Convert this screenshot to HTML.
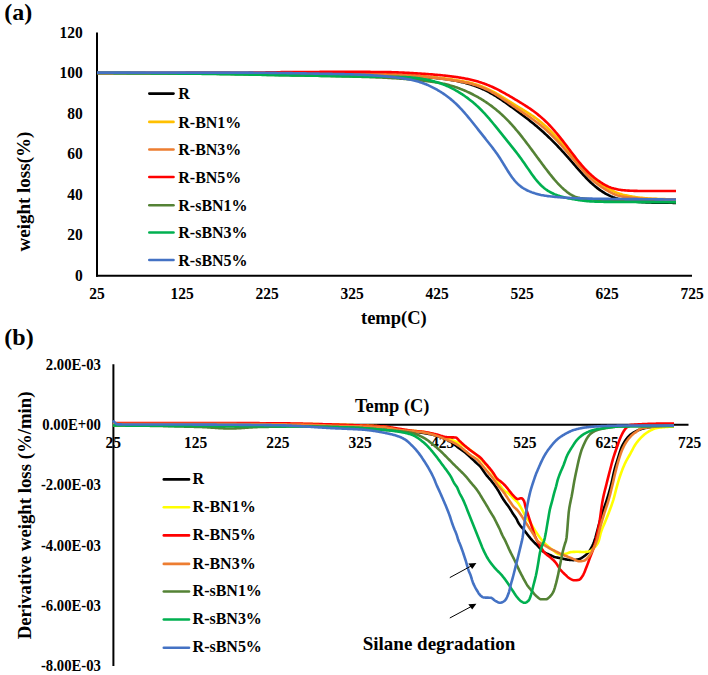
<!DOCTYPE html>
<html><head><meta charset="utf-8"><style>
html,body{margin:0;padding:0;background:#fff;}
svg{display:block;}
text{font-family:"Liberation Serif", serif;font-weight:bold;fill:#000;}
.t{font-size:15.5px;}
.tb{font-size:14.7px;}
.tl{font-size:16px;}
</style></head><body>
<svg width="708" height="675" viewBox="0 0 708 675">
<rect width="708" height="675" fill="#fff"/>
<line x1="97" y1="32.5" x2="97" y2="276.8" stroke="#000" stroke-width="2"/>
<line x1="96" y1="275.8" x2="692" y2="275.8" stroke="#000" stroke-width="2"/>
<text transform="translate(82.7,280.7) scale(1,1.1)" text-anchor="end" class="t">0</text>
<text transform="translate(82.7,240.2) scale(1,1.1)" text-anchor="end" class="t">20</text>
<text transform="translate(82.7,199.6) scale(1,1.1)" text-anchor="end" class="t">40</text>
<text transform="translate(82.7,159.1) scale(1,1.1)" text-anchor="end" class="t">60</text>
<text transform="translate(82.7,118.5) scale(1,1.1)" text-anchor="end" class="t">80</text>
<text transform="translate(82.7,78.0) scale(1,1.1)" text-anchor="end" class="t">100</text>
<text transform="translate(82.7,37.5) scale(1,1.1)" text-anchor="end" class="t">120</text>
<text transform="translate(97.0,298.8) scale(1,1.1)" text-anchor="middle" class="t">25</text>
<text transform="translate(182.0,298.8) scale(1,1.1)" text-anchor="middle" class="t">125</text>
<text transform="translate(267.0,298.8) scale(1,1.1)" text-anchor="middle" class="t">225</text>
<text transform="translate(352.0,298.8) scale(1,1.1)" text-anchor="middle" class="t">325</text>
<text transform="translate(437.0,298.8) scale(1,1.1)" text-anchor="middle" class="t">425</text>
<text transform="translate(522.0,298.8) scale(1,1.1)" text-anchor="middle" class="t">525</text>
<text transform="translate(607.0,298.8) scale(1,1.1)" text-anchor="middle" class="t">625</text>
<text transform="translate(692.0,298.8) scale(1,1.1)" text-anchor="middle" class="t">725</text>
<text x="4.3" y="20.4" class="ttl" font-size="24">(a)</text>
<text x="361" y="324" class="ttl" font-size="18.5">temp(C)</text>
<text transform="translate(29.8,191.6) rotate(-90)" text-anchor="middle" class="ttl" font-size="19">weight loss(%)</text>
<line x1="149.3" y1="93.6" x2="173.5" y2="93.6" stroke="#000000" stroke-width="2.6" stroke-linecap="round"/>
<text transform="translate(178.3,99.4) scale(1,1.1)" class="tl">R</text>
<line x1="149.3" y1="121.9" x2="173.5" y2="121.9" stroke="#FFC000" stroke-width="2.6" stroke-linecap="round"/>
<text transform="translate(178.3,127.7) scale(1,1.1)" class="tl">R-BN1%</text>
<line x1="149.3" y1="149.5" x2="173.5" y2="149.5" stroke="#ED7D31" stroke-width="2.6" stroke-linecap="round"/>
<text transform="translate(178.3,155.3) scale(1,1.1)" class="tl">R-BN3%</text>
<line x1="149.3" y1="177.0" x2="173.5" y2="177.0" stroke="#FF0000" stroke-width="2.6" stroke-linecap="round"/>
<text transform="translate(178.3,182.8) scale(1,1.1)" class="tl">R-BN5%</text>
<line x1="149.3" y1="205.3" x2="173.5" y2="205.3" stroke="#548235" stroke-width="2.6" stroke-linecap="round"/>
<text transform="translate(178.3,211.1) scale(1,1.1)" class="tl">R-sBN1%</text>
<line x1="149.3" y1="232.5" x2="173.5" y2="232.5" stroke="#00B050" stroke-width="2.6" stroke-linecap="round"/>
<text transform="translate(178.3,238.3) scale(1,1.1)" class="tl">R-sBN3%</text>
<line x1="149.3" y1="260.0" x2="173.5" y2="260.0" stroke="#4472C4" stroke-width="2.6" stroke-linecap="round"/>
<text transform="translate(178.3,265.8) scale(1,1.1)" class="tl">R-sBN5%</text>
<path d="M97.00 73.00 L98.00 73.00 L99.00 73.00 L100.00 73.00 L101.00 73.00 L102.00 73.00 L103.00 73.00 L104.00 73.00 L105.00 73.00 L106.00 73.00 L107.00 73.00 L108.00 73.00 L109.00 73.00 L110.00 73.00 L111.00 73.00 L112.00 73.00 L113.00 73.00 L114.00 73.00 L115.00 73.00 L116.00 73.01 L117.00 73.01 L118.00 73.01 L119.00 73.01 L120.00 73.01 L121.00 73.01 L122.00 73.01 L123.00 73.01 L124.00 73.01 L125.00 73.01 L126.00 73.01 L127.00 73.01 L128.00 73.01 L129.00 73.01 L130.00 73.01 L131.00 73.01 L132.00 73.01 L133.00 73.02 L134.00 73.02 L135.00 73.02 L136.00 73.02 L137.00 73.02 L138.00 73.02 L139.00 73.02 L140.00 73.02 L141.00 73.02 L142.00 73.02 L143.00 73.02 L144.00 73.02 L145.00 73.03 L146.00 73.03 L147.00 73.03 L148.00 73.03 L149.00 73.03 L150.00 73.03 L151.00 73.03 L152.00 73.03 L153.00 73.03 L154.00 73.04 L155.00 73.04 L156.00 73.04 L157.00 73.04 L158.00 73.04 L159.00 73.04 L160.00 73.04 L161.00 73.04 L162.00 73.05 L163.00 73.05 L164.00 73.05 L165.00 73.05 L166.00 73.05 L167.00 73.05 L168.00 73.05 L169.00 73.05 L170.00 73.06 L171.00 73.06 L172.00 73.06 L173.00 73.06 L174.00 73.06 L175.00 73.06 L176.00 73.07 L177.00 73.07 L178.00 73.07 L179.00 73.07 L180.00 73.07 L181.00 73.07 L182.00 73.07 L183.00 73.08 L184.00 73.08 L185.00 73.08 L186.00 73.08 L187.00 73.08 L188.00 73.09 L189.00 73.09 L190.00 73.09 L191.00 73.09 L192.00 73.09 L193.00 73.09 L194.00 73.10 L195.00 73.10 L196.00 73.10 L197.00 73.10 L198.00 73.10 L199.00 73.11 L200.00 73.11 L201.00 73.11 L202.00 73.11 L203.00 73.11 L204.00 73.12 L205.00 73.12 L206.00 73.12 L207.00 73.12 L208.00 73.12 L209.00 73.13 L210.00 73.13 L211.00 73.13 L212.00 73.13 L213.00 73.13 L214.00 73.14 L215.00 73.14 L216.00 73.14 L217.00 73.14 L218.00 73.15 L219.00 73.15 L220.00 73.15 L221.00 73.15 L222.00 73.16 L223.00 73.16 L224.00 73.16 L225.00 73.16 L226.00 73.16 L227.00 73.17 L228.00 73.17 L229.00 73.17 L230.00 73.17 L231.00 73.18 L232.00 73.18 L233.00 73.18 L234.00 73.18 L235.00 73.19 L236.00 73.19 L237.00 73.19 L238.00 73.20 L239.00 73.20 L240.00 73.20 L241.00 73.20 L242.00 73.21 L243.00 73.21 L244.00 73.21 L245.00 73.21 L246.00 73.22 L247.00 73.22 L248.00 73.22 L249.00 73.23 L250.00 73.23 L251.00 73.23 L252.00 73.23 L253.00 73.24 L254.00 73.24 L255.00 73.24 L256.00 73.25 L257.00 73.25 L258.00 73.25 L259.00 73.25 L260.00 73.26 L261.00 73.26 L262.00 73.26 L263.00 73.27 L264.00 73.27 L265.00 73.27 L266.00 73.28 L267.00 73.28 L268.00 73.28 L269.00 73.29 L270.00 73.29 L271.00 73.29 L272.00 73.30 L273.00 73.30 L274.00 73.30 L275.00 73.31 L276.00 73.31 L277.00 73.31 L278.00 73.32 L279.00 73.32 L280.00 73.32 L281.00 73.33 L282.00 73.33 L283.00 73.33 L284.00 73.34 L285.00 73.34 L286.00 73.35 L287.00 73.35 L288.00 73.35 L289.00 73.36 L290.00 73.36 L291.00 73.37 L292.00 73.37 L293.00 73.37 L294.00 73.38 L295.00 73.38 L296.00 73.39 L297.00 73.39 L298.00 73.40 L299.00 73.40 L300.00 73.41 L301.00 73.41 L302.00 73.42 L303.00 73.42 L304.00 73.43 L305.00 73.43 L306.00 73.44 L307.00 73.44 L308.00 73.45 L309.00 73.45 L310.00 73.46 L311.00 73.47 L312.00 73.47 L313.00 73.48 L314.00 73.49 L315.00 73.49 L316.00 73.50 L317.00 73.51 L318.00 73.51 L319.00 73.52 L320.00 73.53 L321.00 73.54 L322.00 73.55 L323.00 73.55 L324.00 73.56 L325.00 73.57 L326.00 73.58 L327.00 73.59 L328.00 73.60 L329.00 73.61 L330.00 73.62 L331.00 73.63 L332.00 73.64 L333.00 73.65 L334.00 73.66 L335.00 73.67 L336.00 73.68 L337.00 73.69 L338.00 73.71 L339.00 73.72 L340.00 73.73 L341.00 73.74 L342.00 73.76 L343.00 73.77 L344.00 73.78 L345.00 73.80 L346.00 73.81 L347.00 73.82 L348.00 73.84 L349.00 73.85 L350.00 73.87 L351.00 73.88 L352.00 73.90 L353.00 73.91 L354.00 73.93 L355.00 73.95 L356.00 73.96 L357.00 73.98 L358.00 74.00 L359.00 74.02 L360.00 74.04 L361.00 74.06 L362.00 74.08 L363.00 74.10 L364.00 74.12 L365.00 74.14 L366.00 74.16 L367.00 74.18 L368.00 74.21 L369.00 74.23 L370.00 74.25 L371.00 74.28 L372.00 74.30 L373.00 74.33 L374.00 74.36 L375.00 74.39 L376.00 74.42 L377.00 74.45 L378.00 74.48 L379.00 74.51 L380.00 74.54 L381.00 74.58 L382.00 74.61 L383.00 74.65 L384.00 74.68 L385.00 74.72 L386.00 74.76 L387.00 74.80 L388.00 74.84 L389.00 74.89 L390.00 74.93 L391.00 74.98 L392.00 75.02 L393.00 75.07 L394.00 75.12 L395.00 75.17 L396.00 75.22 L397.00 75.27 L398.00 75.32 L399.00 75.38 L400.00 75.43 L401.00 75.49 L402.00 75.54 L403.00 75.60 L404.00 75.66 L405.00 75.72 L406.00 75.77 L407.00 75.83 L408.00 75.90 L409.00 75.96 L410.00 76.02 L411.00 76.08 L412.00 76.14 L413.00 76.21 L414.00 76.27 L415.00 76.34 L416.00 76.41 L417.00 76.47 L418.00 76.54 L419.00 76.61 L420.00 76.68 L421.00 76.75 L422.00 76.82 L423.00 76.90 L424.00 76.97 L425.00 77.05 L426.00 77.12 L427.00 77.20 L428.00 77.28 L429.00 77.37 L430.00 77.45 L431.00 77.54 L432.00 77.63 L433.00 77.72 L434.00 77.81 L435.00 77.91 L436.00 78.01 L437.00 78.11 L438.00 78.21 L439.00 78.32 L440.00 78.43 L441.00 78.55 L442.00 78.67 L443.00 78.79 L444.00 78.91 L445.00 79.05 L446.00 79.18 L447.00 79.32 L448.00 79.47 L449.00 79.62 L450.00 79.77 L451.00 79.93 L452.00 80.10 L453.00 80.27 L454.00 80.45 L455.00 80.63 L456.00 80.82 L457.00 81.02 L458.00 81.22 L459.00 81.43 L460.00 81.65 L461.00 81.88 L462.00 82.11 L463.00 82.35 L464.00 82.60 L465.00 82.86 L466.00 83.13 L467.00 83.40 L468.00 83.69 L469.00 83.98 L470.00 84.29 L471.00 84.60 L472.00 84.92 L473.00 85.26 L474.00 85.60 L475.00 85.96 L476.00 86.33 L477.00 86.70 L478.00 87.09 L479.00 87.50 L480.00 87.91 L481.00 88.34 L482.00 88.77 L483.00 89.22 L484.00 89.69 L485.00 90.17 L486.00 90.66 L487.00 91.16 L488.00 91.67 L489.00 92.20 L490.00 92.75 L491.00 93.30 L492.00 93.87 L493.00 94.45 L494.00 95.05 L495.00 95.65 L496.00 96.27 L497.00 96.90 L498.00 97.54 L499.00 98.19 L500.00 98.85 L501.00 99.52 L502.00 100.19 L503.00 100.88 L504.00 101.57 L505.00 102.27 L506.00 102.98 L507.00 103.69 L508.00 104.41 L509.00 105.13 L510.00 105.86 L511.00 106.58 L512.00 107.32 L513.00 108.05 L514.00 108.78 L515.00 109.52 L516.00 110.26 L517.00 111.00 L518.00 111.74 L519.00 112.49 L520.00 113.23 L521.00 113.98 L522.00 114.73 L523.00 115.48 L524.00 116.23 L525.00 116.99 L526.00 117.75 L527.00 118.52 L528.00 119.29 L529.00 120.07 L530.00 120.86 L531.00 121.65 L532.00 122.45 L533.00 123.25 L534.00 124.07 L535.00 124.89 L536.00 125.73 L537.00 126.57 L538.00 127.42 L539.00 128.28 L540.00 129.16 L541.00 130.04 L542.00 130.93 L543.00 131.83 L544.00 132.75 L545.00 133.67 L546.00 134.60 L547.00 135.54 L548.00 136.49 L549.00 137.45 L550.00 138.42 L551.00 139.40 L552.00 140.38 L553.00 141.38 L554.00 142.39 L555.00 143.40 L556.00 144.42 L557.00 145.46 L558.00 146.50 L559.00 147.55 L560.00 148.61 L561.00 149.68 L562.00 150.76 L563.00 151.85 L564.00 152.95 L565.00 154.06 L566.00 155.17 L567.00 156.30 L568.00 157.43 L569.00 158.57 L570.00 159.71 L571.00 160.86 L572.00 162.01 L573.00 163.17 L574.00 164.33 L575.00 165.48 L576.00 166.64 L577.00 167.79 L578.00 168.94 L579.00 170.08 L580.00 171.21 L581.00 172.33 L582.00 173.45 L583.00 174.54 L584.00 175.63 L585.00 176.70 L586.00 177.75 L587.00 178.78 L588.00 179.79 L589.00 180.78 L590.00 181.75 L591.00 182.70 L592.00 183.62 L593.00 184.52 L594.00 185.39 L595.00 186.24 L596.00 187.06 L597.00 187.86 L598.00 188.63 L599.00 189.37 L600.00 190.08 L601.00 190.77 L602.00 191.44 L603.00 192.08 L604.00 192.70 L605.00 193.29 L606.00 193.87 L607.00 194.42 L608.00 194.94 L609.00 195.44 L610.00 195.91 L611.00 196.36 L612.00 196.77 L613.00 197.17 L614.00 197.53 L615.00 197.87 L616.00 198.19 L617.00 198.48 L618.00 198.76 L619.00 199.01 L620.00 199.25 L621.00 199.47 L622.00 199.67 L623.00 199.87 L624.00 200.05 L625.00 200.23 L626.00 200.39 L627.00 200.55 L628.00 200.70 L629.00 200.84 L630.00 200.98 L631.00 201.11 L632.00 201.23 L633.00 201.34 L634.00 201.45 L635.00 201.55 L636.00 201.65 L637.00 201.74 L638.00 201.83 L639.00 201.91 L640.00 201.99 L641.00 202.06 L642.00 202.12 L643.00 202.18 L644.00 202.24 L645.00 202.30 L646.00 202.35 L647.00 202.39 L648.00 202.44 L649.00 202.48 L650.00 202.51 L651.00 202.55 L652.00 202.58 L653.00 202.61 L654.00 202.63 L655.00 202.66 L656.00 202.68 L657.00 202.70 L658.00 202.72 L659.00 202.73 L660.00 202.75 L661.00 202.76 L662.00 202.77 L663.00 202.78 L664.00 202.79 L665.00 202.80 L666.00 202.80 L667.00 202.81 L668.00 202.81 L669.00 202.81 L670.00 202.82 L671.00 202.82 L672.00 202.82 L673.00 202.83 L674.00 202.83 L675.00 202.83 L676.00 202.84" fill="none" stroke="#000000" stroke-width="2.6" stroke-linejoin="round"/>
<path d="M97.00 73.00 L98.00 73.00 L99.00 73.00 L100.00 73.00 L101.00 73.00 L102.00 73.00 L103.00 73.00 L104.00 73.00 L105.00 73.00 L106.00 73.00 L107.00 73.00 L108.00 73.00 L109.00 73.00 L110.00 73.00 L111.00 73.00 L112.00 73.00 L113.00 73.00 L114.00 73.00 L115.00 73.00 L116.00 73.00 L117.00 73.00 L118.00 73.00 L119.00 73.00 L120.00 73.01 L121.00 73.01 L122.00 73.01 L123.00 73.01 L124.00 73.01 L125.00 73.01 L126.00 73.01 L127.00 73.01 L128.00 73.01 L129.00 73.01 L130.00 73.01 L131.00 73.01 L132.00 73.01 L133.00 73.01 L134.00 73.01 L135.00 73.01 L136.00 73.01 L137.00 73.01 L138.00 73.01 L139.00 73.01 L140.00 73.02 L141.00 73.02 L142.00 73.02 L143.00 73.02 L144.00 73.02 L145.00 73.02 L146.00 73.02 L147.00 73.02 L148.00 73.02 L149.00 73.02 L150.00 73.02 L151.00 73.02 L152.00 73.02 L153.00 73.03 L154.00 73.03 L155.00 73.03 L156.00 73.03 L157.00 73.03 L158.00 73.03 L159.00 73.03 L160.00 73.03 L161.00 73.03 L162.00 73.03 L163.00 73.03 L164.00 73.04 L165.00 73.04 L166.00 73.04 L167.00 73.04 L168.00 73.04 L169.00 73.04 L170.00 73.04 L171.00 73.04 L172.00 73.04 L173.00 73.04 L174.00 73.05 L175.00 73.05 L176.00 73.05 L177.00 73.05 L178.00 73.05 L179.00 73.05 L180.00 73.05 L181.00 73.05 L182.00 73.06 L183.00 73.06 L184.00 73.06 L185.00 73.06 L186.00 73.06 L187.00 73.06 L188.00 73.06 L189.00 73.06 L190.00 73.07 L191.00 73.07 L192.00 73.07 L193.00 73.07 L194.00 73.07 L195.00 73.07 L196.00 73.07 L197.00 73.08 L198.00 73.08 L199.00 73.08 L200.00 73.08 L201.00 73.08 L202.00 73.08 L203.00 73.08 L204.00 73.09 L205.00 73.09 L206.00 73.09 L207.00 73.09 L208.00 73.09 L209.00 73.09 L210.00 73.10 L211.00 73.10 L212.00 73.10 L213.00 73.10 L214.00 73.10 L215.00 73.10 L216.00 73.11 L217.00 73.11 L218.00 73.11 L219.00 73.11 L220.00 73.11 L221.00 73.11 L222.00 73.12 L223.00 73.12 L224.00 73.12 L225.00 73.12 L226.00 73.12 L227.00 73.12 L228.00 73.13 L229.00 73.13 L230.00 73.13 L231.00 73.13 L232.00 73.13 L233.00 73.14 L234.00 73.14 L235.00 73.14 L236.00 73.14 L237.00 73.14 L238.00 73.15 L239.00 73.15 L240.00 73.15 L241.00 73.15 L242.00 73.15 L243.00 73.16 L244.00 73.16 L245.00 73.16 L246.00 73.16 L247.00 73.16 L248.00 73.17 L249.00 73.17 L250.00 73.17 L251.00 73.17 L252.00 73.17 L253.00 73.18 L254.00 73.18 L255.00 73.18 L256.00 73.18 L257.00 73.19 L258.00 73.19 L259.00 73.19 L260.00 73.19 L261.00 73.20 L262.00 73.20 L263.00 73.20 L264.00 73.20 L265.00 73.20 L266.00 73.21 L267.00 73.21 L268.00 73.21 L269.00 73.21 L270.00 73.22 L271.00 73.22 L272.00 73.22 L273.00 73.22 L274.00 73.23 L275.00 73.23 L276.00 73.23 L277.00 73.23 L278.00 73.24 L279.00 73.24 L280.00 73.24 L281.00 73.25 L282.00 73.25 L283.00 73.25 L284.00 73.25 L285.00 73.26 L286.00 73.26 L287.00 73.26 L288.00 73.27 L289.00 73.27 L290.00 73.27 L291.00 73.27 L292.00 73.28 L293.00 73.28 L294.00 73.28 L295.00 73.29 L296.00 73.29 L297.00 73.29 L298.00 73.30 L299.00 73.30 L300.00 73.31 L301.00 73.31 L302.00 73.31 L303.00 73.32 L304.00 73.32 L305.00 73.33 L306.00 73.33 L307.00 73.34 L308.00 73.34 L309.00 73.35 L310.00 73.35 L311.00 73.36 L312.00 73.36 L313.00 73.37 L314.00 73.37 L315.00 73.38 L316.00 73.38 L317.00 73.39 L318.00 73.40 L319.00 73.40 L320.00 73.41 L321.00 73.42 L322.00 73.42 L323.00 73.43 L324.00 73.44 L325.00 73.45 L326.00 73.45 L327.00 73.46 L328.00 73.47 L329.00 73.48 L330.00 73.49 L331.00 73.50 L332.00 73.50 L333.00 73.51 L334.00 73.52 L335.00 73.53 L336.00 73.54 L337.00 73.55 L338.00 73.56 L339.00 73.57 L340.00 73.58 L341.00 73.59 L342.00 73.60 L343.00 73.61 L344.00 73.63 L345.00 73.64 L346.00 73.65 L347.00 73.66 L348.00 73.67 L349.00 73.68 L350.00 73.70 L351.00 73.71 L352.00 73.72 L353.00 73.73 L354.00 73.75 L355.00 73.76 L356.00 73.78 L357.00 73.79 L358.00 73.80 L359.00 73.82 L360.00 73.83 L361.00 73.85 L362.00 73.86 L363.00 73.88 L364.00 73.89 L365.00 73.91 L366.00 73.93 L367.00 73.94 L368.00 73.96 L369.00 73.98 L370.00 74.00 L371.00 74.02 L372.00 74.04 L373.00 74.05 L374.00 74.07 L375.00 74.09 L376.00 74.12 L377.00 74.14 L378.00 74.16 L379.00 74.18 L380.00 74.20 L381.00 74.23 L382.00 74.25 L383.00 74.28 L384.00 74.30 L385.00 74.33 L386.00 74.35 L387.00 74.38 L388.00 74.41 L389.00 74.44 L390.00 74.47 L391.00 74.50 L392.00 74.54 L393.00 74.57 L394.00 74.60 L395.00 74.64 L396.00 74.68 L397.00 74.72 L398.00 74.76 L399.00 74.80 L400.00 74.84 L401.00 74.89 L402.00 74.93 L403.00 74.98 L404.00 75.03 L405.00 75.08 L406.00 75.13 L407.00 75.19 L408.00 75.25 L409.00 75.31 L410.00 75.37 L411.00 75.43 L412.00 75.49 L413.00 75.56 L414.00 75.63 L415.00 75.70 L416.00 75.77 L417.00 75.85 L418.00 75.92 L419.00 76.00 L420.00 76.08 L421.00 76.17 L422.00 76.25 L423.00 76.34 L424.00 76.42 L425.00 76.51 L426.00 76.60 L427.00 76.70 L428.00 76.79 L429.00 76.89 L430.00 76.98 L431.00 77.08 L432.00 77.18 L433.00 77.29 L434.00 77.39 L435.00 77.50 L436.00 77.60 L437.00 77.71 L438.00 77.82 L439.00 77.93 L440.00 78.05 L441.00 78.16 L442.00 78.28 L443.00 78.40 L444.00 78.52 L445.00 78.64 L446.00 78.76 L447.00 78.89 L448.00 79.01 L449.00 79.14 L450.00 79.28 L451.00 79.41 L452.00 79.55 L453.00 79.69 L454.00 79.83 L455.00 79.98 L456.00 80.13 L457.00 80.28 L458.00 80.44 L459.00 80.60 L460.00 80.77 L461.00 80.94 L462.00 81.12 L463.00 81.30 L464.00 81.50 L465.00 81.70 L466.00 81.90 L467.00 82.12 L468.00 82.34 L469.00 82.57 L470.00 82.81 L471.00 83.06 L472.00 83.32 L473.00 83.60 L474.00 83.88 L475.00 84.17 L476.00 84.48 L477.00 84.79 L478.00 85.12 L479.00 85.46 L480.00 85.82 L481.00 86.18 L482.00 86.56 L483.00 86.95 L484.00 87.36 L485.00 87.78 L486.00 88.21 L487.00 88.65 L488.00 89.11 L489.00 89.58 L490.00 90.07 L491.00 90.57 L492.00 91.08 L493.00 91.60 L494.00 92.13 L495.00 92.68 L496.00 93.23 L497.00 93.80 L498.00 94.38 L499.00 94.96 L500.00 95.56 L501.00 96.16 L502.00 96.77 L503.00 97.38 L504.00 98.00 L505.00 98.63 L506.00 99.26 L507.00 99.89 L508.00 100.52 L509.00 101.15 L510.00 101.78 L511.00 102.41 L512.00 103.04 L513.00 103.67 L514.00 104.30 L515.00 104.92 L516.00 105.54 L517.00 106.16 L518.00 106.77 L519.00 107.39 L520.00 108.00 L521.00 108.61 L522.00 109.22 L523.00 109.82 L524.00 110.44 L525.00 111.05 L526.00 111.66 L527.00 112.29 L528.00 112.91 L529.00 113.55 L530.00 114.19 L531.00 114.85 L532.00 115.52 L533.00 116.19 L534.00 116.89 L535.00 117.60 L536.00 118.32 L537.00 119.06 L538.00 119.82 L539.00 120.60 L540.00 121.40 L541.00 122.21 L542.00 123.05 L543.00 123.90 L544.00 124.78 L545.00 125.67 L546.00 126.58 L547.00 127.51 L548.00 128.46 L549.00 129.43 L550.00 130.41 L551.00 131.42 L552.00 132.44 L553.00 133.47 L554.00 134.52 L555.00 135.58 L556.00 136.66 L557.00 137.75 L558.00 138.86 L559.00 139.98 L560.00 141.10 L561.00 142.24 L562.00 143.39 L563.00 144.54 L564.00 145.70 L565.00 146.87 L566.00 148.05 L567.00 149.23 L568.00 150.41 L569.00 151.59 L570.00 152.77 L571.00 153.96 L572.00 155.14 L573.00 156.32 L574.00 157.49 L575.00 158.66 L576.00 159.82 L577.00 160.97 L578.00 162.11 L579.00 163.25 L580.00 164.37 L581.00 165.48 L582.00 166.57 L583.00 167.65 L584.00 168.71 L585.00 169.76 L586.00 170.79 L587.00 171.81 L588.00 172.80 L589.00 173.78 L590.00 174.73 L591.00 175.67 L592.00 176.59 L593.00 177.48 L594.00 178.36 L595.00 179.21 L596.00 180.05 L597.00 180.86 L598.00 181.65 L599.00 182.42 L600.00 183.17 L601.00 183.89 L602.00 184.60 L603.00 185.28 L604.00 185.94 L605.00 186.58 L606.00 187.20 L607.00 187.80 L608.00 188.38 L609.00 188.95 L610.00 189.49 L611.00 190.02 L612.00 190.53 L613.00 191.02 L614.00 191.48 L615.00 191.93 L616.00 192.34 L617.00 192.74 L618.00 193.11 L619.00 193.46 L620.00 193.79 L621.00 194.09 L622.00 194.38 L623.00 194.66 L624.00 194.91 L625.00 195.16 L626.00 195.39 L627.00 195.61 L628.00 195.82 L629.00 196.02 L630.00 196.21 L631.00 196.39 L632.00 196.57 L633.00 196.74 L634.00 196.90 L635.00 197.05 L636.00 197.19 L637.00 197.33 L638.00 197.46 L639.00 197.58 L640.00 197.70 L641.00 197.81 L642.00 197.91 L643.00 198.01 L644.00 198.11 L645.00 198.20 L646.00 198.28 L647.00 198.36 L648.00 198.43 L649.00 198.50 L650.00 198.57 L651.00 198.63 L652.00 198.69 L653.00 198.74 L654.00 198.79 L655.00 198.84 L656.00 198.88 L657.00 198.92 L658.00 198.96 L659.00 199.00 L660.00 199.03 L661.00 199.06 L662.00 199.09 L663.00 199.12 L664.00 199.14 L665.00 199.16 L666.00 199.18 L667.00 199.20 L668.00 199.22 L669.00 199.24 L670.00 199.25 L671.00 199.26 L672.00 199.28 L673.00 199.29 L674.00 199.30 L675.00 199.31 L676.00 199.33" fill="none" stroke="#FFC000" stroke-width="2.6" stroke-linejoin="round"/>
<path d="M97.00 73.00 L98.00 73.00 L99.00 73.00 L100.00 73.00 L101.00 73.00 L102.00 73.00 L103.00 73.00 L104.00 73.00 L105.00 73.00 L106.00 73.00 L107.00 73.00 L108.00 73.00 L109.00 73.00 L110.00 73.00 L111.00 73.00 L112.00 73.00 L113.00 73.00 L114.00 73.00 L115.00 73.00 L116.00 73.00 L117.00 73.00 L118.00 73.00 L119.00 73.00 L120.00 73.00 L121.00 73.01 L122.00 73.01 L123.00 73.01 L124.00 73.01 L125.00 73.01 L126.00 73.01 L127.00 73.01 L128.00 73.01 L129.00 73.01 L130.00 73.01 L131.00 73.01 L132.00 73.01 L133.00 73.01 L134.00 73.01 L135.00 73.01 L136.00 73.01 L137.00 73.01 L138.00 73.01 L139.00 73.01 L140.00 73.01 L141.00 73.02 L142.00 73.02 L143.00 73.02 L144.00 73.02 L145.00 73.02 L146.00 73.02 L147.00 73.02 L148.00 73.02 L149.00 73.02 L150.00 73.02 L151.00 73.02 L152.00 73.02 L153.00 73.02 L154.00 73.02 L155.00 73.03 L156.00 73.03 L157.00 73.03 L158.00 73.03 L159.00 73.03 L160.00 73.03 L161.00 73.03 L162.00 73.03 L163.00 73.03 L164.00 73.03 L165.00 73.03 L166.00 73.04 L167.00 73.04 L168.00 73.04 L169.00 73.04 L170.00 73.04 L171.00 73.04 L172.00 73.04 L173.00 73.04 L174.00 73.04 L175.00 73.05 L176.00 73.05 L177.00 73.05 L178.00 73.05 L179.00 73.05 L180.00 73.05 L181.00 73.05 L182.00 73.05 L183.00 73.05 L184.00 73.06 L185.00 73.06 L186.00 73.06 L187.00 73.06 L188.00 73.06 L189.00 73.06 L190.00 73.06 L191.00 73.06 L192.00 73.07 L193.00 73.07 L194.00 73.07 L195.00 73.07 L196.00 73.07 L197.00 73.07 L198.00 73.07 L199.00 73.08 L200.00 73.08 L201.00 73.08 L202.00 73.08 L203.00 73.08 L204.00 73.08 L205.00 73.08 L206.00 73.09 L207.00 73.09 L208.00 73.09 L209.00 73.09 L210.00 73.09 L211.00 73.09 L212.00 73.10 L213.00 73.10 L214.00 73.10 L215.00 73.10 L216.00 73.10 L217.00 73.10 L218.00 73.11 L219.00 73.11 L220.00 73.11 L221.00 73.11 L222.00 73.11 L223.00 73.11 L224.00 73.12 L225.00 73.12 L226.00 73.12 L227.00 73.12 L228.00 73.12 L229.00 73.13 L230.00 73.13 L231.00 73.13 L232.00 73.13 L233.00 73.13 L234.00 73.13 L235.00 73.14 L236.00 73.14 L237.00 73.14 L238.00 73.14 L239.00 73.14 L240.00 73.15 L241.00 73.15 L242.00 73.15 L243.00 73.15 L244.00 73.16 L245.00 73.16 L246.00 73.16 L247.00 73.16 L248.00 73.16 L249.00 73.17 L250.00 73.17 L251.00 73.17 L252.00 73.17 L253.00 73.17 L254.00 73.18 L255.00 73.18 L256.00 73.18 L257.00 73.18 L258.00 73.19 L259.00 73.19 L260.00 73.19 L261.00 73.19 L262.00 73.19 L263.00 73.20 L264.00 73.20 L265.00 73.20 L266.00 73.20 L267.00 73.21 L268.00 73.21 L269.00 73.21 L270.00 73.21 L271.00 73.22 L272.00 73.22 L273.00 73.22 L274.00 73.22 L275.00 73.23 L276.00 73.23 L277.00 73.23 L278.00 73.24 L279.00 73.24 L280.00 73.24 L281.00 73.24 L282.00 73.25 L283.00 73.25 L284.00 73.25 L285.00 73.26 L286.00 73.26 L287.00 73.26 L288.00 73.26 L289.00 73.27 L290.00 73.27 L291.00 73.27 L292.00 73.28 L293.00 73.28 L294.00 73.28 L295.00 73.29 L296.00 73.29 L297.00 73.30 L298.00 73.30 L299.00 73.30 L300.00 73.31 L301.00 73.31 L302.00 73.32 L303.00 73.32 L304.00 73.32 L305.00 73.33 L306.00 73.33 L307.00 73.34 L308.00 73.34 L309.00 73.35 L310.00 73.36 L311.00 73.36 L312.00 73.37 L313.00 73.37 L314.00 73.38 L315.00 73.39 L316.00 73.39 L317.00 73.40 L318.00 73.41 L319.00 73.41 L320.00 73.42 L321.00 73.43 L322.00 73.44 L323.00 73.45 L324.00 73.45 L325.00 73.46 L326.00 73.47 L327.00 73.48 L328.00 73.49 L329.00 73.50 L330.00 73.51 L331.00 73.52 L332.00 73.53 L333.00 73.54 L334.00 73.55 L335.00 73.56 L336.00 73.57 L337.00 73.58 L338.00 73.59 L339.00 73.60 L340.00 73.61 L341.00 73.63 L342.00 73.64 L343.00 73.65 L344.00 73.66 L345.00 73.67 L346.00 73.69 L347.00 73.70 L348.00 73.71 L349.00 73.73 L350.00 73.74 L351.00 73.76 L352.00 73.77 L353.00 73.79 L354.00 73.80 L355.00 73.82 L356.00 73.83 L357.00 73.85 L358.00 73.86 L359.00 73.88 L360.00 73.90 L361.00 73.91 L362.00 73.93 L363.00 73.95 L364.00 73.96 L365.00 73.98 L366.00 74.00 L367.00 74.02 L368.00 74.04 L369.00 74.06 L370.00 74.08 L371.00 74.10 L372.00 74.12 L373.00 74.14 L374.00 74.17 L375.00 74.19 L376.00 74.21 L377.00 74.23 L378.00 74.26 L379.00 74.28 L380.00 74.31 L381.00 74.34 L382.00 74.36 L383.00 74.39 L384.00 74.42 L385.00 74.45 L386.00 74.48 L387.00 74.51 L388.00 74.54 L389.00 74.57 L390.00 74.60 L391.00 74.64 L392.00 74.67 L393.00 74.71 L394.00 74.75 L395.00 74.79 L396.00 74.83 L397.00 74.87 L398.00 74.91 L399.00 74.95 L400.00 75.00 L401.00 75.05 L402.00 75.09 L403.00 75.14 L404.00 75.20 L405.00 75.25 L406.00 75.31 L407.00 75.36 L408.00 75.42 L409.00 75.48 L410.00 75.55 L411.00 75.61 L412.00 75.68 L413.00 75.75 L414.00 75.82 L415.00 75.90 L416.00 75.98 L417.00 76.06 L418.00 76.14 L419.00 76.22 L420.00 76.31 L421.00 76.40 L422.00 76.49 L423.00 76.59 L424.00 76.69 L425.00 76.79 L426.00 76.89 L427.00 76.99 L428.00 77.10 L429.00 77.21 L430.00 77.32 L431.00 77.43 L432.00 77.55 L433.00 77.67 L434.00 77.78 L435.00 77.90 L436.00 78.02 L437.00 78.15 L438.00 78.27 L439.00 78.40 L440.00 78.52 L441.00 78.65 L442.00 78.78 L443.00 78.91 L444.00 79.04 L445.00 79.18 L446.00 79.31 L447.00 79.45 L448.00 79.59 L449.00 79.73 L450.00 79.87 L451.00 80.01 L452.00 80.16 L453.00 80.31 L454.00 80.46 L455.00 80.62 L456.00 80.77 L457.00 80.94 L458.00 81.10 L459.00 81.28 L460.00 81.45 L461.00 81.63 L462.00 81.82 L463.00 82.02 L464.00 82.22 L465.00 82.42 L466.00 82.64 L467.00 82.86 L468.00 83.09 L469.00 83.33 L470.00 83.58 L471.00 83.83 L472.00 84.10 L473.00 84.38 L474.00 84.67 L475.00 84.97 L476.00 85.29 L477.00 85.62 L478.00 85.96 L479.00 86.31 L480.00 86.68 L481.00 87.06 L482.00 87.46 L483.00 87.87 L484.00 88.30 L485.00 88.74 L486.00 89.20 L487.00 89.67 L488.00 90.16 L489.00 90.66 L490.00 91.18 L491.00 91.72 L492.00 92.27 L493.00 92.83 L494.00 93.40 L495.00 93.99 L496.00 94.59 L497.00 95.21 L498.00 95.83 L499.00 96.46 L500.00 97.11 L501.00 97.76 L502.00 98.42 L503.00 99.08 L504.00 99.75 L505.00 100.43 L506.00 101.11 L507.00 101.79 L508.00 102.48 L509.00 103.16 L510.00 103.85 L511.00 104.54 L512.00 105.23 L513.00 105.91 L514.00 106.59 L515.00 107.28 L516.00 107.96 L517.00 108.63 L518.00 109.31 L519.00 109.98 L520.00 110.65 L521.00 111.32 L522.00 111.99 L523.00 112.66 L524.00 113.32 L525.00 113.99 L526.00 114.66 L527.00 115.33 L528.00 116.01 L529.00 116.69 L530.00 117.38 L531.00 118.07 L532.00 118.77 L533.00 119.48 L534.00 120.20 L535.00 120.94 L536.00 121.68 L537.00 122.43 L538.00 123.20 L539.00 123.99 L540.00 124.79 L541.00 125.60 L542.00 126.43 L543.00 127.27 L544.00 128.13 L545.00 129.01 L546.00 129.90 L547.00 130.80 L548.00 131.72 L549.00 132.66 L550.00 133.61 L551.00 134.58 L552.00 135.56 L553.00 136.55 L554.00 137.56 L555.00 138.58 L556.00 139.62 L557.00 140.67 L558.00 141.73 L559.00 142.81 L560.00 143.89 L561.00 144.99 L562.00 146.11 L563.00 147.23 L564.00 148.36 L565.00 149.51 L566.00 150.66 L567.00 151.83 L568.00 153.00 L569.00 154.17 L570.00 155.36 L571.00 156.55 L572.00 157.74 L573.00 158.93 L574.00 160.12 L575.00 161.31 L576.00 162.49 L577.00 163.67 L578.00 164.85 L579.00 166.01 L580.00 167.16 L581.00 168.31 L582.00 169.43 L583.00 170.54 L584.00 171.64 L585.00 172.72 L586.00 173.77 L587.00 174.81 L588.00 175.82 L589.00 176.81 L590.00 177.78 L591.00 178.72 L592.00 179.64 L593.00 180.54 L594.00 181.41 L595.00 182.25 L596.00 183.06 L597.00 183.83 L598.00 184.58 L599.00 185.30 L600.00 185.99 L601.00 186.67 L602.00 187.33 L603.00 187.97 L604.00 188.60 L605.00 189.22 L606.00 189.82 L607.00 190.41 L608.00 190.98 L609.00 191.55 L610.00 192.09 L611.00 192.62 L612.00 193.12 L613.00 193.60 L614.00 194.05 L615.00 194.47 L616.00 194.84 L617.00 195.18 L618.00 195.49 L619.00 195.76 L620.00 196.02 L621.00 196.25 L622.00 196.45 L623.00 196.65 L624.00 196.82 L625.00 196.98 L626.00 197.13 L627.00 197.27 L628.00 197.40 L629.00 197.53 L630.00 197.64 L631.00 197.75 L632.00 197.86 L633.00 197.96 L634.00 198.05 L635.00 198.14 L636.00 198.23 L637.00 198.31 L638.00 198.38 L639.00 198.45 L640.00 198.52 L641.00 198.59 L642.00 198.65 L643.00 198.70 L644.00 198.76 L645.00 198.81 L646.00 198.85 L647.00 198.90 L648.00 198.94 L649.00 198.97 L650.00 199.01 L651.00 199.04 L652.00 199.07 L653.00 199.10 L654.00 199.13 L655.00 199.15 L656.00 199.17 L657.00 199.19 L658.00 199.21 L659.00 199.23 L660.00 199.25 L661.00 199.26 L662.00 199.28 L663.00 199.29 L664.00 199.30 L665.00 199.31 L666.00 199.32 L667.00 199.33 L668.00 199.34 L669.00 199.35 L670.00 199.36 L671.00 199.37 L672.00 199.38 L673.00 199.39 L674.00 199.40 L675.00 199.40 L676.00 199.41" fill="none" stroke="#ED7D31" stroke-width="2.6" stroke-linejoin="round"/>
<path d="M97.00 73.00 L98.00 73.00 L99.00 73.00 L100.00 73.00 L101.00 73.00 L102.00 73.00 L103.00 73.00 L104.00 73.00 L105.00 73.00 L106.00 73.00 L107.00 73.00 L108.00 73.00 L109.00 73.00 L110.00 73.00 L111.00 73.00 L112.00 73.00 L113.00 73.00 L114.00 73.00 L115.00 73.00 L116.00 73.00 L117.00 73.00 L118.00 72.99 L119.00 72.99 L120.00 72.99 L121.00 72.99 L122.00 72.99 L123.00 72.99 L124.00 72.99 L125.00 72.99 L126.00 72.99 L127.00 72.99 L128.00 72.99 L129.00 72.99 L130.00 72.99 L131.00 72.99 L132.00 72.99 L133.00 72.99 L134.00 72.99 L135.00 72.99 L136.00 72.98 L137.00 72.98 L138.00 72.98 L139.00 72.98 L140.00 72.98 L141.00 72.98 L142.00 72.98 L143.00 72.98 L144.00 72.98 L145.00 72.98 L146.00 72.98 L147.00 72.98 L148.00 72.97 L149.00 72.97 L150.00 72.97 L151.00 72.97 L152.00 72.97 L153.00 72.97 L154.00 72.97 L155.00 72.97 L156.00 72.97 L157.00 72.97 L158.00 72.96 L159.00 72.96 L160.00 72.96 L161.00 72.96 L162.00 72.96 L163.00 72.96 L164.00 72.96 L165.00 72.96 L166.00 72.95 L167.00 72.95 L168.00 72.95 L169.00 72.95 L170.00 72.95 L171.00 72.95 L172.00 72.95 L173.00 72.94 L174.00 72.94 L175.00 72.94 L176.00 72.94 L177.00 72.94 L178.00 72.94 L179.00 72.94 L180.00 72.93 L181.00 72.93 L182.00 72.93 L183.00 72.93 L184.00 72.93 L185.00 72.93 L186.00 72.92 L187.00 72.92 L188.00 72.92 L189.00 72.92 L190.00 72.92 L191.00 72.92 L192.00 72.91 L193.00 72.91 L194.00 72.91 L195.00 72.91 L196.00 72.91 L197.00 72.90 L198.00 72.90 L199.00 72.90 L200.00 72.90 L201.00 72.90 L202.00 72.89 L203.00 72.89 L204.00 72.89 L205.00 72.89 L206.00 72.88 L207.00 72.88 L208.00 72.88 L209.00 72.88 L210.00 72.88 L211.00 72.87 L212.00 72.87 L213.00 72.87 L214.00 72.87 L215.00 72.86 L216.00 72.86 L217.00 72.86 L218.00 72.86 L219.00 72.85 L220.00 72.85 L221.00 72.85 L222.00 72.85 L223.00 72.84 L224.00 72.84 L225.00 72.84 L226.00 72.83 L227.00 72.83 L228.00 72.83 L229.00 72.82 L230.00 72.82 L231.00 72.81 L232.00 72.81 L233.00 72.80 L234.00 72.80 L235.00 72.79 L236.00 72.79 L237.00 72.78 L238.00 72.78 L239.00 72.77 L240.00 72.76 L241.00 72.75 L242.00 72.75 L243.00 72.74 L244.00 72.73 L245.00 72.72 L246.00 72.71 L247.00 72.70 L248.00 72.69 L249.00 72.67 L250.00 72.66 L251.00 72.65 L252.00 72.63 L253.00 72.62 L254.00 72.61 L255.00 72.59 L256.00 72.58 L257.00 72.56 L258.00 72.54 L259.00 72.53 L260.00 72.51 L261.00 72.49 L262.00 72.48 L263.00 72.46 L264.00 72.44 L265.00 72.43 L266.00 72.41 L267.00 72.39 L268.00 72.37 L269.00 72.35 L270.00 72.34 L271.00 72.32 L272.00 72.30 L273.00 72.29 L274.00 72.27 L275.00 72.25 L276.00 72.24 L277.00 72.22 L278.00 72.21 L279.00 72.19 L280.00 72.18 L281.00 72.16 L282.00 72.15 L283.00 72.13 L284.00 72.12 L285.00 72.11 L286.00 72.10 L287.00 72.09 L288.00 72.08 L289.00 72.07 L290.00 72.06 L291.00 72.05 L292.00 72.04 L293.00 72.03 L294.00 72.02 L295.00 72.02 L296.00 72.01 L297.00 72.00 L298.00 72.00 L299.00 71.99 L300.00 71.99 L301.00 71.98 L302.00 71.98 L303.00 71.97 L304.00 71.97 L305.00 71.96 L306.00 71.96 L307.00 71.96 L308.00 71.95 L309.00 71.95 L310.00 71.95 L311.00 71.94 L312.00 71.94 L313.00 71.94 L314.00 71.94 L315.00 71.93 L316.00 71.93 L317.00 71.93 L318.00 71.93 L319.00 71.93 L320.00 71.92 L321.00 71.92 L322.00 71.92 L323.00 71.92 L324.00 71.92 L325.00 71.92 L326.00 71.91 L327.00 71.91 L328.00 71.91 L329.00 71.91 L330.00 71.91 L331.00 71.91 L332.00 71.91 L333.00 71.91 L334.00 71.90 L335.00 71.90 L336.00 71.90 L337.00 71.90 L338.00 71.90 L339.00 71.90 L340.00 71.90 L341.00 71.90 L342.00 71.90 L343.00 71.90 L344.00 71.90 L345.00 71.90 L346.00 71.90 L347.00 71.89 L348.00 71.89 L349.00 71.89 L350.00 71.89 L351.00 71.89 L352.00 71.89 L353.00 71.89 L354.00 71.89 L355.00 71.90 L356.00 71.90 L357.00 71.90 L358.00 71.90 L359.00 71.90 L360.00 71.90 L361.00 71.90 L362.00 71.90 L363.00 71.90 L364.00 71.91 L365.00 71.91 L366.00 71.91 L367.00 71.91 L368.00 71.92 L369.00 71.92 L370.00 71.92 L371.00 71.93 L372.00 71.93 L373.00 71.94 L374.00 71.94 L375.00 71.95 L376.00 71.95 L377.00 71.96 L378.00 71.97 L379.00 71.98 L380.00 71.99 L381.00 72.00 L382.00 72.01 L383.00 72.02 L384.00 72.03 L385.00 72.05 L386.00 72.06 L387.00 72.08 L388.00 72.10 L389.00 72.12 L390.00 72.14 L391.00 72.17 L392.00 72.19 L393.00 72.22 L394.00 72.25 L395.00 72.28 L396.00 72.32 L397.00 72.35 L398.00 72.39 L399.00 72.43 L400.00 72.48 L401.00 72.52 L402.00 72.56 L403.00 72.61 L404.00 72.66 L405.00 72.71 L406.00 72.76 L407.00 72.81 L408.00 72.87 L409.00 72.92 L410.00 72.98 L411.00 73.03 L412.00 73.09 L413.00 73.15 L414.00 73.21 L415.00 73.27 L416.00 73.33 L417.00 73.39 L418.00 73.45 L419.00 73.51 L420.00 73.57 L421.00 73.64 L422.00 73.70 L423.00 73.77 L424.00 73.83 L425.00 73.90 L426.00 73.97 L427.00 74.04 L428.00 74.11 L429.00 74.19 L430.00 74.26 L431.00 74.34 L432.00 74.42 L433.00 74.50 L434.00 74.58 L435.00 74.67 L436.00 74.75 L437.00 74.84 L438.00 74.93 L439.00 75.03 L440.00 75.12 L441.00 75.22 L442.00 75.32 L443.00 75.42 L444.00 75.53 L445.00 75.64 L446.00 75.75 L447.00 75.86 L448.00 75.97 L449.00 76.09 L450.00 76.21 L451.00 76.34 L452.00 76.47 L453.00 76.60 L454.00 76.73 L455.00 76.87 L456.00 77.01 L457.00 77.16 L458.00 77.31 L459.00 77.46 L460.00 77.62 L461.00 77.79 L462.00 77.96 L463.00 78.13 L464.00 78.31 L465.00 78.50 L466.00 78.69 L467.00 78.89 L468.00 79.10 L469.00 79.31 L470.00 79.53 L471.00 79.76 L472.00 80.00 L473.00 80.24 L474.00 80.50 L475.00 80.76 L476.00 81.03 L477.00 81.31 L478.00 81.60 L479.00 81.90 L480.00 82.21 L481.00 82.53 L482.00 82.87 L483.00 83.21 L484.00 83.56 L485.00 83.93 L486.00 84.31 L487.00 84.69 L488.00 85.09 L489.00 85.51 L490.00 85.93 L491.00 86.36 L492.00 86.81 L493.00 87.27 L494.00 87.73 L495.00 88.21 L496.00 88.70 L497.00 89.20 L498.00 89.70 L499.00 90.22 L500.00 90.74 L501.00 91.27 L502.00 91.81 L503.00 92.36 L504.00 92.91 L505.00 93.47 L506.00 94.03 L507.00 94.60 L508.00 95.17 L509.00 95.74 L510.00 96.32 L511.00 96.91 L512.00 97.49 L513.00 98.08 L514.00 98.67 L515.00 99.27 L516.00 99.86 L517.00 100.46 L518.00 101.06 L519.00 101.67 L520.00 102.28 L521.00 102.89 L522.00 103.51 L523.00 104.13 L524.00 104.76 L525.00 105.40 L526.00 106.04 L527.00 106.69 L528.00 107.35 L529.00 108.01 L530.00 108.69 L531.00 109.38 L532.00 110.09 L533.00 110.80 L534.00 111.54 L535.00 112.28 L536.00 113.05 L537.00 113.82 L538.00 114.62 L539.00 115.44 L540.00 116.27 L541.00 117.13 L542.00 118.00 L543.00 118.90 L544.00 119.81 L545.00 120.75 L546.00 121.71 L547.00 122.69 L548.00 123.69 L549.00 124.72 L550.00 125.76 L551.00 126.83 L552.00 127.92 L553.00 129.03 L554.00 130.16 L555.00 131.31 L556.00 132.48 L557.00 133.67 L558.00 134.88 L559.00 136.10 L560.00 137.34 L561.00 138.60 L562.00 139.87 L563.00 141.15 L564.00 142.44 L565.00 143.75 L566.00 145.06 L567.00 146.37 L568.00 147.70 L569.00 149.02 L570.00 150.35 L571.00 151.67 L572.00 152.99 L573.00 154.31 L574.00 155.61 L575.00 156.91 L576.00 158.20 L577.00 159.47 L578.00 160.72 L579.00 161.96 L580.00 163.18 L581.00 164.38 L582.00 165.55 L583.00 166.70 L584.00 167.83 L585.00 168.92 L586.00 169.98 L587.00 171.01 L588.00 172.01 L589.00 172.98 L590.00 173.92 L591.00 174.83 L592.00 175.72 L593.00 176.57 L594.00 177.40 L595.00 178.20 L596.00 178.98 L597.00 179.73 L598.00 180.46 L599.00 181.16 L600.00 181.85 L601.00 182.51 L602.00 183.16 L603.00 183.78 L604.00 184.37 L605.00 184.94 L606.00 185.47 L607.00 185.96 L608.00 186.43 L609.00 186.86 L610.00 187.25 L611.00 187.62 L612.00 187.96 L613.00 188.27 L614.00 188.56 L615.00 188.82 L616.00 189.06 L617.00 189.28 L618.00 189.48 L619.00 189.66 L620.00 189.82 L621.00 189.97 L622.00 190.10 L623.00 190.22 L624.00 190.32 L625.00 190.41 L626.00 190.48 L627.00 190.55 L628.00 190.60 L629.00 190.65 L630.00 190.70 L631.00 190.74 L632.00 190.77 L633.00 190.80 L634.00 190.83 L635.00 190.86 L636.00 190.88 L637.00 190.91 L638.00 190.93 L639.00 190.95 L640.00 190.97 L641.00 190.98 L642.00 191.00 L643.00 191.01 L644.00 191.02 L645.00 191.03 L646.00 191.04 L647.00 191.05 L648.00 191.05 L649.00 191.05 L650.00 191.05 L651.00 191.05 L652.00 191.05 L653.00 191.05 L654.00 191.05 L655.00 191.04 L656.00 191.04 L657.00 191.04 L658.00 191.03 L659.00 191.03 L660.00 191.02 L661.00 191.02 L662.00 191.01 L663.00 191.01 L664.00 191.01 L665.00 191.00 L666.00 191.00 L667.00 191.00 L668.00 191.00 L669.00 191.00 L670.00 191.00 L671.00 191.00 L672.00 191.00 L673.00 191.00 L674.00 191.00 L675.00 191.01 L676.00 191.01" fill="none" stroke="#FF0000" stroke-width="2.6" stroke-linejoin="round"/>
<path d="M97.00 73.01 L98.00 73.01 L99.00 73.01 L100.00 73.01 L101.00 73.01 L102.00 73.01 L103.00 73.01 L104.00 73.01 L105.00 73.01 L106.00 73.02 L107.00 73.02 L108.00 73.02 L109.00 73.02 L110.00 73.02 L111.00 73.03 L112.00 73.03 L113.00 73.03 L114.00 73.03 L115.00 73.04 L116.00 73.04 L117.00 73.04 L118.00 73.04 L119.00 73.05 L120.00 73.05 L121.00 73.05 L122.00 73.06 L123.00 73.06 L124.00 73.06 L125.00 73.07 L126.00 73.07 L127.00 73.08 L128.00 73.08 L129.00 73.09 L130.00 73.09 L131.00 73.09 L132.00 73.10 L133.00 73.10 L134.00 73.11 L135.00 73.11 L136.00 73.12 L137.00 73.12 L138.00 73.13 L139.00 73.14 L140.00 73.14 L141.00 73.15 L142.00 73.15 L143.00 73.16 L144.00 73.16 L145.00 73.17 L146.00 73.18 L147.00 73.18 L148.00 73.19 L149.00 73.19 L150.00 73.20 L151.00 73.21 L152.00 73.21 L153.00 73.22 L154.00 73.23 L155.00 73.23 L156.00 73.24 L157.00 73.25 L158.00 73.26 L159.00 73.26 L160.00 73.27 L161.00 73.28 L162.00 73.29 L163.00 73.29 L164.00 73.30 L165.00 73.31 L166.00 73.32 L167.00 73.32 L168.00 73.33 L169.00 73.34 L170.00 73.35 L171.00 73.35 L172.00 73.36 L173.00 73.37 L174.00 73.38 L175.00 73.39 L176.00 73.39 L177.00 73.40 L178.00 73.41 L179.00 73.42 L180.00 73.43 L181.00 73.44 L182.00 73.45 L183.00 73.45 L184.00 73.46 L185.00 73.47 L186.00 73.48 L187.00 73.49 L188.00 73.50 L189.00 73.51 L190.00 73.52 L191.00 73.53 L192.00 73.53 L193.00 73.54 L194.00 73.55 L195.00 73.56 L196.00 73.57 L197.00 73.58 L198.00 73.59 L199.00 73.60 L200.00 73.62 L201.00 73.63 L202.00 73.64 L203.00 73.65 L204.00 73.66 L205.00 73.67 L206.00 73.68 L207.00 73.70 L208.00 73.71 L209.00 73.72 L210.00 73.74 L211.00 73.75 L212.00 73.76 L213.00 73.78 L214.00 73.79 L215.00 73.81 L216.00 73.82 L217.00 73.84 L218.00 73.85 L219.00 73.87 L220.00 73.88 L221.00 73.90 L222.00 73.92 L223.00 73.93 L224.00 73.95 L225.00 73.97 L226.00 73.98 L227.00 74.00 L228.00 74.02 L229.00 74.04 L230.00 74.06 L231.00 74.08 L232.00 74.10 L233.00 74.12 L234.00 74.13 L235.00 74.15 L236.00 74.17 L237.00 74.19 L238.00 74.21 L239.00 74.23 L240.00 74.26 L241.00 74.28 L242.00 74.30 L243.00 74.32 L244.00 74.34 L245.00 74.36 L246.00 74.38 L247.00 74.40 L248.00 74.42 L249.00 74.45 L250.00 74.47 L251.00 74.49 L252.00 74.51 L253.00 74.53 L254.00 74.55 L255.00 74.58 L256.00 74.60 L257.00 74.62 L258.00 74.64 L259.00 74.66 L260.00 74.69 L261.00 74.71 L262.00 74.73 L263.00 74.75 L264.00 74.77 L265.00 74.79 L266.00 74.82 L267.00 74.84 L268.00 74.86 L269.00 74.88 L270.00 74.90 L271.00 74.92 L272.00 74.94 L273.00 74.97 L274.00 74.99 L275.00 75.01 L276.00 75.03 L277.00 75.05 L278.00 75.07 L279.00 75.09 L280.00 75.11 L281.00 75.13 L282.00 75.15 L283.00 75.17 L284.00 75.19 L285.00 75.21 L286.00 75.23 L287.00 75.25 L288.00 75.27 L289.00 75.29 L290.00 75.31 L291.00 75.32 L292.00 75.34 L293.00 75.36 L294.00 75.38 L295.00 75.40 L296.00 75.42 L297.00 75.44 L298.00 75.45 L299.00 75.47 L300.00 75.49 L301.00 75.51 L302.00 75.53 L303.00 75.54 L304.00 75.56 L305.00 75.58 L306.00 75.60 L307.00 75.62 L308.00 75.63 L309.00 75.65 L310.00 75.67 L311.00 75.69 L312.00 75.71 L313.00 75.72 L314.00 75.74 L315.00 75.76 L316.00 75.78 L317.00 75.80 L318.00 75.82 L319.00 75.84 L320.00 75.86 L321.00 75.88 L322.00 75.90 L323.00 75.92 L324.00 75.94 L325.00 75.96 L326.00 75.98 L327.00 76.00 L328.00 76.02 L329.00 76.04 L330.00 76.06 L331.00 76.08 L332.00 76.10 L333.00 76.12 L334.00 76.15 L335.00 76.17 L336.00 76.19 L337.00 76.21 L338.00 76.23 L339.00 76.26 L340.00 76.28 L341.00 76.30 L342.00 76.33 L343.00 76.35 L344.00 76.37 L345.00 76.40 L346.00 76.42 L347.00 76.45 L348.00 76.47 L349.00 76.50 L350.00 76.52 L351.00 76.55 L352.00 76.57 L353.00 76.60 L354.00 76.63 L355.00 76.65 L356.00 76.68 L357.00 76.71 L358.00 76.74 L359.00 76.76 L360.00 76.79 L361.00 76.82 L362.00 76.85 L363.00 76.88 L364.00 76.91 L365.00 76.94 L366.00 76.98 L367.00 77.01 L368.00 77.04 L369.00 77.07 L370.00 77.11 L371.00 77.14 L372.00 77.18 L373.00 77.21 L374.00 77.25 L375.00 77.29 L376.00 77.33 L377.00 77.37 L378.00 77.41 L379.00 77.45 L380.00 77.49 L381.00 77.53 L382.00 77.57 L383.00 77.62 L384.00 77.67 L385.00 77.71 L386.00 77.76 L387.00 77.81 L388.00 77.86 L389.00 77.91 L390.00 77.97 L391.00 78.02 L392.00 78.08 L393.00 78.14 L394.00 78.19 L395.00 78.26 L396.00 78.32 L397.00 78.38 L398.00 78.45 L399.00 78.52 L400.00 78.58 L401.00 78.66 L402.00 78.73 L403.00 78.80 L404.00 78.88 L405.00 78.96 L406.00 79.04 L407.00 79.12 L408.00 79.20 L409.00 79.29 L410.00 79.37 L411.00 79.46 L412.00 79.55 L413.00 79.64 L414.00 79.74 L415.00 79.83 L416.00 79.93 L417.00 80.03 L418.00 80.13 L419.00 80.23 L420.00 80.34 L421.00 80.44 L422.00 80.55 L423.00 80.66 L424.00 80.77 L425.00 80.89 L426.00 81.00 L427.00 81.12 L428.00 81.25 L429.00 81.37 L430.00 81.50 L431.00 81.63 L432.00 81.77 L433.00 81.91 L434.00 82.06 L435.00 82.21 L436.00 82.37 L437.00 82.53 L438.00 82.70 L439.00 82.88 L440.00 83.06 L441.00 83.25 L442.00 83.45 L443.00 83.66 L444.00 83.87 L445.00 84.10 L446.00 84.34 L447.00 84.58 L448.00 84.84 L449.00 85.10 L450.00 85.38 L451.00 85.66 L452.00 85.96 L453.00 86.26 L454.00 86.58 L455.00 86.91 L456.00 87.25 L457.00 87.59 L458.00 87.95 L459.00 88.32 L460.00 88.70 L461.00 89.09 L462.00 89.48 L463.00 89.89 L464.00 90.31 L465.00 90.74 L466.00 91.17 L467.00 91.62 L468.00 92.08 L469.00 92.54 L470.00 93.02 L471.00 93.51 L472.00 94.00 L473.00 94.51 L474.00 95.03 L475.00 95.55 L476.00 96.09 L477.00 96.64 L478.00 97.20 L479.00 97.78 L480.00 98.36 L481.00 98.96 L482.00 99.57 L483.00 100.19 L484.00 100.83 L485.00 101.48 L486.00 102.14 L487.00 102.82 L488.00 103.51 L489.00 104.21 L490.00 104.93 L491.00 105.66 L492.00 106.41 L493.00 107.18 L494.00 107.96 L495.00 108.75 L496.00 109.56 L497.00 110.39 L498.00 111.23 L499.00 112.10 L500.00 112.97 L501.00 113.87 L502.00 114.79 L503.00 115.72 L504.00 116.67 L505.00 117.64 L506.00 118.62 L507.00 119.63 L508.00 120.65 L509.00 121.70 L510.00 122.76 L511.00 123.84 L512.00 124.95 L513.00 126.07 L514.00 127.21 L515.00 128.36 L516.00 129.54 L517.00 130.73 L518.00 131.94 L519.00 133.16 L520.00 134.40 L521.00 135.65 L522.00 136.92 L523.00 138.20 L524.00 139.49 L525.00 140.79 L526.00 142.11 L527.00 143.43 L528.00 144.76 L529.00 146.09 L530.00 147.43 L531.00 148.78 L532.00 150.13 L533.00 151.49 L534.00 152.84 L535.00 154.20 L536.00 155.56 L537.00 156.92 L538.00 158.28 L539.00 159.64 L540.00 161.00 L541.00 162.35 L542.00 163.70 L543.00 165.04 L544.00 166.37 L545.00 167.70 L546.00 169.02 L547.00 170.33 L548.00 171.63 L549.00 172.91 L550.00 174.18 L551.00 175.43 L552.00 176.66 L553.00 177.88 L554.00 179.07 L555.00 180.24 L556.00 181.38 L557.00 182.50 L558.00 183.59 L559.00 184.65 L560.00 185.67 L561.00 186.66 L562.00 187.62 L563.00 188.53 L564.00 189.42 L565.00 190.26 L566.00 191.11 L567.00 191.92 L568.00 192.68 L569.00 193.39 L570.00 194.06 L571.00 194.67 L572.00 195.24 L573.00 195.75 L574.00 196.21 L575.00 196.62 L576.00 196.99 L577.00 197.31 L578.00 197.60 L579.00 197.84 L580.00 198.06 L581.00 198.24 L582.00 198.40 L583.00 198.54 L584.00 198.65 L585.00 198.75 L586.00 198.86 L587.00 198.97 L588.00 199.08 L589.00 199.18 L590.00 199.27 L591.00 199.37 L592.00 199.46 L593.00 199.55 L594.00 199.64 L595.00 199.73 L596.00 199.82 L597.00 199.91 L598.00 200.00 L599.00 200.09 L600.00 200.18 L601.00 200.27 L602.00 200.35 L603.00 200.43 L604.00 200.51 L605.00 200.58 L606.00 200.65 L607.00 200.72 L608.00 200.78 L609.00 200.83 L610.00 200.87 L611.00 200.91 L612.00 200.94 L613.00 200.96 L614.00 200.97 L615.00 200.98 L616.00 200.97 L617.00 200.96 L618.00 200.94 L619.00 200.91 L620.00 200.88 L621.00 200.84 L622.00 200.80 L623.00 200.76 L624.00 200.71 L625.00 200.67 L626.00 200.64 L627.00 200.60 L628.00 200.57 L629.00 200.54 L630.00 200.52 L631.00 200.50 L632.00 200.49 L633.00 200.48 L634.00 200.48 L635.00 200.48 L636.00 200.49 L637.00 200.50 L638.00 200.52 L639.00 200.54 L640.00 200.56 L641.00 200.59 L642.00 200.62 L643.00 200.65 L644.00 200.69 L645.00 200.73 L646.00 200.77 L647.00 200.81 L648.00 200.86 L649.00 200.90 L650.00 200.95 L651.00 201.00 L652.00 201.05 L653.00 201.10 L654.00 201.16 L655.00 201.21 L656.00 201.26 L657.00 201.31 L658.00 201.36 L659.00 201.41 L660.00 201.46 L661.00 201.51 L662.00 201.56 L663.00 201.60 L664.00 201.65 L665.00 201.69 L666.00 201.73 L667.00 201.77 L668.00 201.81 L669.00 201.85 L670.00 201.89 L671.00 201.92 L672.00 201.97 L673.00 202.01 L674.00 202.06 L675.00 202.11 L676.00 202.17" fill="none" stroke="#548235" stroke-width="2.6" stroke-linejoin="round"/>
<path d="M97.00 73.02 L98.00 73.02 L99.00 73.02 L100.00 73.03 L101.00 73.03 L102.00 73.03 L103.00 73.04 L104.00 73.04 L105.00 73.04 L106.00 73.05 L107.00 73.05 L108.00 73.05 L109.00 73.06 L110.00 73.06 L111.00 73.07 L112.00 73.07 L113.00 73.07 L114.00 73.08 L115.00 73.08 L116.00 73.09 L117.00 73.09 L118.00 73.10 L119.00 73.11 L120.00 73.11 L121.00 73.12 L122.00 73.12 L123.00 73.13 L124.00 73.13 L125.00 73.14 L126.00 73.15 L127.00 73.15 L128.00 73.16 L129.00 73.17 L130.00 73.17 L131.00 73.18 L132.00 73.19 L133.00 73.19 L134.00 73.20 L135.00 73.21 L136.00 73.21 L137.00 73.22 L138.00 73.23 L139.00 73.24 L140.00 73.24 L141.00 73.25 L142.00 73.26 L143.00 73.27 L144.00 73.27 L145.00 73.28 L146.00 73.29 L147.00 73.30 L148.00 73.30 L149.00 73.31 L150.00 73.32 L151.00 73.33 L152.00 73.34 L153.00 73.35 L154.00 73.35 L155.00 73.36 L156.00 73.37 L157.00 73.38 L158.00 73.39 L159.00 73.40 L160.00 73.41 L161.00 73.42 L162.00 73.42 L163.00 73.43 L164.00 73.44 L165.00 73.45 L166.00 73.46 L167.00 73.47 L168.00 73.48 L169.00 73.49 L170.00 73.50 L171.00 73.51 L172.00 73.52 L173.00 73.53 L174.00 73.54 L175.00 73.55 L176.00 73.56 L177.00 73.57 L178.00 73.58 L179.00 73.59 L180.00 73.60 L181.00 73.61 L182.00 73.62 L183.00 73.63 L184.00 73.64 L185.00 73.65 L186.00 73.66 L187.00 73.67 L188.00 73.68 L189.00 73.69 L190.00 73.70 L191.00 73.71 L192.00 73.72 L193.00 73.73 L194.00 73.74 L195.00 73.75 L196.00 73.76 L197.00 73.78 L198.00 73.79 L199.00 73.80 L200.00 73.81 L201.00 73.82 L202.00 73.84 L203.00 73.85 L204.00 73.86 L205.00 73.87 L206.00 73.88 L207.00 73.90 L208.00 73.91 L209.00 73.92 L210.00 73.94 L211.00 73.95 L212.00 73.97 L213.00 73.98 L214.00 73.99 L215.00 74.01 L216.00 74.02 L217.00 74.04 L218.00 74.05 L219.00 74.07 L220.00 74.08 L221.00 74.10 L222.00 74.11 L223.00 74.13 L224.00 74.15 L225.00 74.16 L226.00 74.18 L227.00 74.20 L228.00 74.21 L229.00 74.23 L230.00 74.25 L231.00 74.26 L232.00 74.28 L233.00 74.30 L234.00 74.32 L235.00 74.33 L236.00 74.35 L237.00 74.37 L238.00 74.39 L239.00 74.41 L240.00 74.42 L241.00 74.44 L242.00 74.46 L243.00 74.48 L244.00 74.50 L245.00 74.52 L246.00 74.54 L247.00 74.55 L248.00 74.57 L249.00 74.59 L250.00 74.61 L251.00 74.63 L252.00 74.65 L253.00 74.67 L254.00 74.69 L255.00 74.71 L256.00 74.73 L257.00 74.74 L258.00 74.76 L259.00 74.78 L260.00 74.80 L261.00 74.82 L262.00 74.84 L263.00 74.86 L264.00 74.88 L265.00 74.90 L266.00 74.91 L267.00 74.93 L268.00 74.95 L269.00 74.97 L270.00 74.99 L271.00 75.01 L272.00 75.02 L273.00 75.04 L274.00 75.06 L275.00 75.08 L276.00 75.10 L277.00 75.11 L278.00 75.13 L279.00 75.15 L280.00 75.17 L281.00 75.19 L282.00 75.20 L283.00 75.22 L284.00 75.24 L285.00 75.25 L286.00 75.27 L287.00 75.29 L288.00 75.30 L289.00 75.32 L290.00 75.34 L291.00 75.35 L292.00 75.37 L293.00 75.39 L294.00 75.40 L295.00 75.42 L296.00 75.43 L297.00 75.45 L298.00 75.46 L299.00 75.48 L300.00 75.50 L301.00 75.51 L302.00 75.53 L303.00 75.54 L304.00 75.56 L305.00 75.57 L306.00 75.59 L307.00 75.61 L308.00 75.62 L309.00 75.64 L310.00 75.65 L311.00 75.67 L312.00 75.69 L313.00 75.70 L314.00 75.72 L315.00 75.73 L316.00 75.75 L317.00 75.77 L318.00 75.78 L319.00 75.80 L320.00 75.81 L321.00 75.83 L322.00 75.85 L323.00 75.86 L324.00 75.88 L325.00 75.90 L326.00 75.92 L327.00 75.93 L328.00 75.95 L329.00 75.97 L330.00 75.98 L331.00 76.00 L332.00 76.02 L333.00 76.03 L334.00 76.05 L335.00 76.07 L336.00 76.09 L337.00 76.10 L338.00 76.12 L339.00 76.14 L340.00 76.16 L341.00 76.17 L342.00 76.19 L343.00 76.21 L344.00 76.23 L345.00 76.24 L346.00 76.26 L347.00 76.28 L348.00 76.30 L349.00 76.32 L350.00 76.33 L351.00 76.35 L352.00 76.37 L353.00 76.39 L354.00 76.41 L355.00 76.42 L356.00 76.44 L357.00 76.46 L358.00 76.48 L359.00 76.50 L360.00 76.51 L361.00 76.53 L362.00 76.55 L363.00 76.57 L364.00 76.58 L365.00 76.60 L366.00 76.62 L367.00 76.63 L368.00 76.65 L369.00 76.66 L370.00 76.68 L371.00 76.69 L372.00 76.71 L373.00 76.72 L374.00 76.73 L375.00 76.74 L376.00 76.75 L377.00 76.76 L378.00 76.77 L379.00 76.78 L380.00 76.78 L381.00 76.79 L382.00 76.79 L383.00 76.80 L384.00 76.80 L385.00 76.80 L386.00 76.80 L387.00 76.81 L388.00 76.81 L389.00 76.81 L390.00 76.81 L391.00 76.82 L392.00 76.82 L393.00 76.83 L394.00 76.84 L395.00 76.84 L396.00 76.86 L397.00 76.87 L398.00 76.89 L399.00 76.91 L400.00 76.93 L401.00 76.96 L402.00 76.99 L403.00 77.02 L404.00 77.06 L405.00 77.11 L406.00 77.16 L407.00 77.22 L408.00 77.28 L409.00 77.35 L410.00 77.42 L411.00 77.50 L412.00 77.59 L413.00 77.68 L414.00 77.78 L415.00 77.89 L416.00 78.00 L417.00 78.12 L418.00 78.25 L419.00 78.38 L420.00 78.52 L421.00 78.67 L422.00 78.83 L423.00 79.00 L424.00 79.17 L425.00 79.35 L426.00 79.54 L427.00 79.74 L428.00 79.95 L429.00 80.16 L430.00 80.39 L431.00 80.62 L432.00 80.86 L433.00 81.12 L434.00 81.38 L435.00 81.66 L436.00 81.95 L437.00 82.24 L438.00 82.56 L439.00 82.88 L440.00 83.21 L441.00 83.56 L442.00 83.92 L443.00 84.30 L444.00 84.69 L445.00 85.09 L446.00 85.51 L447.00 85.95 L448.00 86.39 L449.00 86.86 L450.00 87.33 L451.00 87.83 L452.00 88.33 L453.00 88.86 L454.00 89.39 L455.00 89.94 L456.00 90.51 L457.00 91.09 L458.00 91.68 L459.00 92.29 L460.00 92.91 L461.00 93.55 L462.00 94.20 L463.00 94.86 L464.00 95.54 L465.00 96.24 L466.00 96.95 L467.00 97.67 L468.00 98.41 L469.00 99.17 L470.00 99.94 L471.00 100.73 L472.00 101.54 L473.00 102.37 L474.00 103.22 L475.00 104.09 L476.00 104.98 L477.00 105.89 L478.00 106.82 L479.00 107.78 L480.00 108.75 L481.00 109.75 L482.00 110.77 L483.00 111.81 L484.00 112.87 L485.00 113.96 L486.00 115.06 L487.00 116.18 L488.00 117.32 L489.00 118.47 L490.00 119.65 L491.00 120.83 L492.00 122.03 L493.00 123.24 L494.00 124.46 L495.00 125.69 L496.00 126.92 L497.00 128.16 L498.00 129.40 L499.00 130.65 L500.00 131.89 L501.00 133.14 L502.00 134.39 L503.00 135.64 L504.00 136.88 L505.00 138.12 L506.00 139.37 L507.00 140.61 L508.00 141.85 L509.00 143.09 L510.00 144.33 L511.00 145.58 L512.00 146.83 L513.00 148.09 L514.00 149.35 L515.00 150.62 L516.00 151.91 L517.00 153.21 L518.00 154.53 L519.00 155.86 L520.00 157.21 L521.00 158.58 L522.00 159.97 L523.00 161.38 L524.00 162.80 L525.00 164.24 L526.00 165.70 L527.00 167.16 L528.00 168.62 L529.00 170.08 L530.00 171.53 L531.00 172.97 L532.00 174.38 L533.00 175.77 L534.00 177.12 L535.00 178.43 L536.00 179.69 L537.00 180.91 L538.00 182.07 L539.00 183.18 L540.00 184.24 L541.00 185.24 L542.00 186.19 L543.00 187.08 L544.00 187.92 L545.00 188.71 L546.00 189.45 L547.00 190.14 L548.00 190.80 L549.00 191.42 L550.00 191.99 L551.00 192.53 L552.00 193.03 L553.00 193.50 L554.00 193.95 L555.00 194.37 L556.00 194.76 L557.00 195.13 L558.00 195.49 L559.00 195.82 L560.00 196.14 L561.00 196.44 L562.00 196.72 L563.00 196.99 L564.00 197.25 L565.00 197.49 L566.00 197.72 L567.00 197.94 L568.00 198.16 L569.00 198.37 L570.00 198.57 L571.00 198.76 L572.00 198.95 L573.00 199.14 L574.00 199.32 L575.00 199.50 L576.00 199.67 L577.00 199.84 L578.00 200.00 L579.00 200.16 L580.00 200.31 L581.00 200.45 L582.00 200.58 L583.00 200.71 L584.00 200.82 L585.00 200.93 L586.00 201.02 L587.00 201.11 L588.00 201.19 L589.00 201.27 L590.00 201.33 L591.00 201.39 L592.00 201.45 L593.00 201.50 L594.00 201.55 L595.00 201.59 L596.00 201.63 L597.00 201.67 L598.00 201.70 L599.00 201.73 L600.00 201.76 L601.00 201.78 L602.00 201.80 L603.00 201.82 L604.00 201.84 L605.00 201.86 L606.00 201.87 L607.00 201.88 L608.00 201.89 L609.00 201.90 L610.00 201.91 L611.00 201.92 L612.00 201.92 L613.00 201.93 L614.00 201.93 L615.00 201.93 L616.00 201.94 L617.00 201.94 L618.00 201.94 L619.00 201.95 L620.00 201.95 L621.00 201.95 L622.00 201.96 L623.00 201.96 L624.00 201.97 L625.00 201.97 L626.00 201.98 L627.00 201.99 L628.00 202.00 L629.00 202.00 L630.00 202.01 L631.00 202.02 L632.00 202.03 L633.00 202.04 L634.00 202.05 L635.00 202.06 L636.00 202.07 L637.00 202.08 L638.00 202.09 L639.00 202.10 L640.00 202.11 L641.00 202.12 L642.00 202.13 L643.00 202.14 L644.00 202.15 L645.00 202.15 L646.00 202.16 L647.00 202.17 L648.00 202.17 L649.00 202.18 L650.00 202.19 L651.00 202.19 L652.00 202.20 L653.00 202.21 L654.00 202.21 L655.00 202.22 L656.00 202.22 L657.00 202.23 L658.00 202.23 L659.00 202.24 L660.00 202.24 L661.00 202.24 L662.00 202.25 L663.00 202.25 L664.00 202.26 L665.00 202.26 L666.00 202.26 L667.00 202.27 L668.00 202.27 L669.00 202.28 L670.00 202.28 L671.00 202.28 L672.00 202.29 L673.00 202.29 L674.00 202.29 L675.00 202.29 L676.00 202.30" fill="none" stroke="#00B050" stroke-width="2.6" stroke-linejoin="round"/>
<path d="M97.00 72.60 L98.00 72.60 L99.00 72.60 L100.00 72.60 L101.00 72.60 L102.00 72.60 L103.00 72.60 L104.00 72.60 L105.00 72.60 L106.00 72.60 L107.00 72.60 L108.00 72.60 L109.00 72.60 L110.00 72.60 L111.00 72.60 L112.00 72.60 L113.00 72.60 L114.00 72.60 L115.00 72.60 L116.00 72.60 L117.00 72.60 L118.00 72.60 L119.00 72.60 L120.00 72.60 L121.00 72.60 L122.00 72.60 L123.00 72.60 L124.00 72.60 L125.00 72.60 L126.00 72.60 L127.00 72.60 L128.00 72.60 L129.00 72.60 L130.00 72.60 L131.00 72.60 L132.00 72.60 L133.00 72.60 L134.00 72.60 L135.00 72.60 L136.00 72.60 L137.00 72.60 L138.00 72.60 L139.00 72.60 L140.00 72.60 L141.00 72.60 L142.00 72.60 L143.00 72.60 L144.00 72.60 L145.00 72.60 L146.00 72.60 L147.00 72.60 L148.00 72.60 L149.00 72.60 L150.00 72.60 L151.00 72.60 L152.00 72.60 L153.00 72.60 L154.00 72.60 L155.00 72.60 L156.00 72.60 L157.00 72.60 L158.00 72.60 L159.00 72.60 L160.00 72.60 L161.00 72.60 L162.00 72.60 L163.00 72.60 L164.00 72.60 L165.00 72.60 L166.00 72.60 L167.00 72.60 L168.00 72.60 L169.00 72.60 L170.00 72.60 L171.00 72.60 L172.00 72.60 L173.00 72.60 L174.00 72.60 L175.00 72.60 L176.00 72.60 L177.00 72.60 L178.00 72.60 L179.00 72.60 L180.00 72.60 L181.00 72.60 L182.00 72.60 L183.00 72.60 L184.00 72.60 L185.00 72.60 L186.00 72.60 L187.00 72.60 L188.00 72.60 L189.00 72.60 L190.00 72.60 L191.00 72.60 L192.00 72.60 L193.00 72.60 L194.00 72.60 L195.00 72.60 L196.00 72.60 L197.00 72.60 L198.00 72.60 L199.00 72.60 L200.00 72.60 L201.00 72.60 L202.00 72.60 L203.00 72.60 L204.00 72.60 L205.00 72.60 L206.00 72.60 L207.00 72.60 L208.00 72.60 L209.00 72.60 L210.00 72.60 L211.00 72.60 L212.00 72.60 L213.00 72.60 L214.00 72.60 L215.00 72.60 L216.00 72.60 L217.00 72.60 L218.00 72.60 L219.00 72.60 L220.00 72.60 L221.00 72.60 L222.00 72.60 L223.00 72.60 L224.00 72.60 L225.00 72.60 L226.00 72.60 L227.00 72.60 L228.00 72.60 L229.00 72.60 L230.00 72.60 L231.00 72.60 L232.00 72.60 L233.00 72.61 L234.00 72.61 L235.00 72.61 L236.00 72.61 L237.00 72.61 L238.00 72.61 L239.00 72.62 L240.00 72.62 L241.00 72.62 L242.00 72.62 L243.00 72.63 L244.00 72.63 L245.00 72.63 L246.00 72.64 L247.00 72.64 L248.00 72.65 L249.00 72.65 L250.00 72.66 L251.00 72.66 L252.00 72.67 L253.00 72.67 L254.00 72.68 L255.00 72.69 L256.00 72.70 L257.00 72.70 L258.00 72.71 L259.00 72.72 L260.00 72.73 L261.00 72.74 L262.00 72.75 L263.00 72.76 L264.00 72.77 L265.00 72.78 L266.00 72.79 L267.00 72.80 L268.00 72.81 L269.00 72.83 L270.00 72.84 L271.00 72.85 L272.00 72.86 L273.00 72.88 L274.00 72.89 L275.00 72.90 L276.00 72.92 L277.00 72.93 L278.00 72.95 L279.00 72.96 L280.00 72.98 L281.00 72.99 L282.00 73.01 L283.00 73.02 L284.00 73.04 L285.00 73.05 L286.00 73.07 L287.00 73.09 L288.00 73.10 L289.00 73.12 L290.00 73.14 L291.00 73.15 L292.00 73.17 L293.00 73.19 L294.00 73.21 L295.00 73.22 L296.00 73.24 L297.00 73.26 L298.00 73.28 L299.00 73.30 L300.00 73.31 L301.00 73.33 L302.00 73.35 L303.00 73.37 L304.00 73.39 L305.00 73.41 L306.00 73.42 L307.00 73.44 L308.00 73.46 L309.00 73.48 L310.00 73.50 L311.00 73.52 L312.00 73.54 L313.00 73.56 L314.00 73.58 L315.00 73.59 L316.00 73.61 L317.00 73.63 L318.00 73.65 L319.00 73.67 L320.00 73.69 L321.00 73.71 L322.00 73.73 L323.00 73.75 L324.00 73.77 L325.00 73.79 L326.00 73.80 L327.00 73.82 L328.00 73.84 L329.00 73.86 L330.00 73.88 L331.00 73.90 L332.00 73.92 L333.00 73.94 L334.00 73.96 L335.00 73.98 L336.00 74.00 L337.00 74.02 L338.00 74.04 L339.00 74.06 L340.00 74.08 L341.00 74.11 L342.00 74.13 L343.00 74.15 L344.00 74.17 L345.00 74.20 L346.00 74.22 L347.00 74.25 L348.00 74.27 L349.00 74.30 L350.00 74.32 L351.00 74.35 L352.00 74.38 L353.00 74.41 L354.00 74.44 L355.00 74.48 L356.00 74.51 L357.00 74.55 L358.00 74.58 L359.00 74.62 L360.00 74.66 L361.00 74.70 L362.00 74.75 L363.00 74.79 L364.00 74.84 L365.00 74.89 L366.00 74.94 L367.00 74.99 L368.00 75.05 L369.00 75.11 L370.00 75.17 L371.00 75.23 L372.00 75.29 L373.00 75.36 L374.00 75.43 L375.00 75.50 L376.00 75.57 L377.00 75.64 L378.00 75.72 L379.00 75.80 L380.00 75.88 L381.00 75.96 L382.00 76.05 L383.00 76.13 L384.00 76.22 L385.00 76.31 L386.00 76.40 L387.00 76.50 L388.00 76.60 L389.00 76.70 L390.00 76.80 L391.00 76.90 L392.00 77.00 L393.00 77.11 L394.00 77.22 L395.00 77.33 L396.00 77.45 L397.00 77.57 L398.00 77.69 L399.00 77.82 L400.00 77.95 L401.00 78.08 L402.00 78.22 L403.00 78.36 L404.00 78.51 L405.00 78.67 L406.00 78.83 L407.00 79.00 L408.00 79.18 L409.00 79.36 L410.00 79.56 L411.00 79.77 L412.00 79.98 L413.00 80.21 L414.00 80.44 L415.00 80.69 L416.00 80.96 L417.00 81.23 L418.00 81.52 L419.00 81.82 L420.00 82.14 L421.00 82.47 L422.00 82.81 L423.00 83.17 L424.00 83.54 L425.00 83.93 L426.00 84.33 L427.00 84.75 L428.00 85.18 L429.00 85.63 L430.00 86.09 L431.00 86.57 L432.00 87.06 L433.00 87.56 L434.00 88.08 L435.00 88.61 L436.00 89.16 L437.00 89.72 L438.00 90.30 L439.00 90.89 L440.00 91.50 L441.00 92.13 L442.00 92.77 L443.00 93.42 L444.00 94.10 L445.00 94.79 L446.00 95.51 L447.00 96.24 L448.00 96.99 L449.00 97.76 L450.00 98.56 L451.00 99.38 L452.00 100.22 L453.00 101.08 L454.00 101.97 L455.00 102.88 L456.00 103.82 L457.00 104.78 L458.00 105.77 L459.00 106.78 L460.00 107.81 L461.00 108.87 L462.00 109.95 L463.00 111.05 L464.00 112.18 L465.00 113.32 L466.00 114.48 L467.00 115.66 L468.00 116.86 L469.00 118.07 L470.00 119.29 L471.00 120.52 L472.00 121.76 L473.00 123.01 L474.00 124.27 L475.00 125.53 L476.00 126.80 L477.00 128.07 L478.00 129.33 L479.00 130.60 L480.00 131.87 L481.00 133.14 L482.00 134.40 L483.00 135.66 L484.00 136.92 L485.00 138.18 L486.00 139.44 L487.00 140.70 L488.00 141.96 L489.00 143.22 L490.00 144.49 L491.00 145.78 L492.00 147.07 L493.00 148.38 L494.00 149.71 L495.00 151.06 L496.00 152.45 L497.00 153.86 L498.00 155.31 L499.00 156.79 L500.00 158.31 L501.00 159.87 L502.00 161.46 L503.00 163.07 L504.00 164.71 L505.00 166.36 L506.00 168.00 L507.00 169.64 L508.00 171.25 L509.00 172.82 L510.00 174.35 L511.00 175.82 L512.00 177.22 L513.00 178.55 L514.00 179.81 L515.00 181.00 L516.00 182.10 L517.00 183.14 L518.00 184.10 L519.00 185.00 L520.00 185.83 L521.00 186.60 L522.00 187.32 L523.00 187.99 L524.00 188.61 L525.00 189.19 L526.00 189.73 L527.00 190.24 L528.00 190.72 L529.00 191.17 L530.00 191.59 L531.00 191.99 L532.00 192.37 L533.00 192.72 L534.00 193.06 L535.00 193.38 L536.00 193.68 L537.00 193.97 L538.00 194.24 L539.00 194.49 L540.00 194.72 L541.00 194.95 L542.00 195.15 L543.00 195.34 L544.00 195.52 L545.00 195.68 L546.00 195.83 L547.00 195.97 L548.00 196.09 L549.00 196.22 L550.00 196.33 L551.00 196.45 L552.00 196.55 L553.00 196.66 L554.00 196.76 L555.00 196.86 L556.00 196.96 L557.00 197.05 L558.00 197.14 L559.00 197.23 L560.00 197.31 L561.00 197.39 L562.00 197.47 L563.00 197.54 L564.00 197.61 L565.00 197.68 L566.00 197.74 L567.00 197.81 L568.00 197.86 L569.00 197.92 L570.00 197.97 L571.00 198.02 L572.00 198.07 L573.00 198.11 L574.00 198.16 L575.00 198.20 L576.00 198.24 L577.00 198.28 L578.00 198.31 L579.00 198.34 L580.00 198.38 L581.00 198.41 L582.00 198.44 L583.00 198.46 L584.00 198.49 L585.00 198.52 L586.00 198.54 L587.00 198.56 L588.00 198.59 L589.00 198.61 L590.00 198.63 L591.00 198.65 L592.00 198.67 L593.00 198.69 L594.00 198.70 L595.00 198.72 L596.00 198.74 L597.00 198.76 L598.00 198.77 L599.00 198.79 L600.00 198.80 L601.00 198.82 L602.00 198.83 L603.00 198.85 L604.00 198.86 L605.00 198.87 L606.00 198.89 L607.00 198.90 L608.00 198.91 L609.00 198.92 L610.00 198.94 L611.00 198.95 L612.00 198.96 L613.00 198.97 L614.00 198.98 L615.00 198.99 L616.00 199.00 L617.00 199.01 L618.00 199.02 L619.00 199.02 L620.00 199.03 L621.00 199.04 L622.00 199.05 L623.00 199.06 L624.00 199.07 L625.00 199.08 L626.00 199.08 L627.00 199.09 L628.00 199.10 L629.00 199.11 L630.00 199.12 L631.00 199.12 L632.00 199.13 L633.00 199.14 L634.00 199.15 L635.00 199.15 L636.00 199.16 L637.00 199.17 L638.00 199.18 L639.00 199.19 L640.00 199.20 L641.00 199.20 L642.00 199.21 L643.00 199.22 L644.00 199.23 L645.00 199.24 L646.00 199.25 L647.00 199.26 L648.00 199.27 L649.00 199.27 L650.00 199.28 L651.00 199.29 L652.00 199.30 L653.00 199.31 L654.00 199.32 L655.00 199.33 L656.00 199.34 L657.00 199.36 L658.00 199.37 L659.00 199.38 L660.00 199.39 L661.00 199.40 L662.00 199.41 L663.00 199.42 L664.00 199.44 L665.00 199.45 L666.00 199.46 L667.00 199.47 L668.00 199.49 L669.00 199.50 L670.00 199.51 L671.00 199.52 L672.00 199.53 L673.00 199.55 L674.00 199.56 L675.00 199.56 L676.00 199.57" fill="none" stroke="#4472C4" stroke-width="2.6" stroke-linejoin="round"/>
<text x="4.3" y="344.6" class="ttl" font-size="24">(b)</text>
<text transform="translate(100.9,369.6) scale(1,1.1)" text-anchor="end" class="tb">2.00E-03</text>
<text transform="translate(100.9,429.9) scale(1,1.1)" text-anchor="end" class="tb">0.00E+00</text>
<text transform="translate(100.9,490.2) scale(1,1.1)" text-anchor="end" class="tb">-2.00E-03</text>
<text transform="translate(100.9,550.5) scale(1,1.1)" text-anchor="end" class="tb">-4.00E-03</text>
<text transform="translate(100.9,610.8) scale(1,1.1)" text-anchor="end" class="tb">-6.00E-03</text>
<text transform="translate(100.9,671.1) scale(1,1.1)" text-anchor="end" class="tb">-8.00E-03</text>
<text transform="translate(113.3,448) scale(1,1.1)" text-anchor="middle" class="t">25</text>
<text transform="translate(195.6,448) scale(1,1.1)" text-anchor="middle" class="t">125</text>
<text transform="translate(277.9,448) scale(1,1.1)" text-anchor="middle" class="t">225</text>
<text transform="translate(360.2,448) scale(1,1.1)" text-anchor="middle" class="t">325</text>
<text transform="translate(442.6,448) scale(1,1.1)" text-anchor="middle" class="t">425</text>
<text transform="translate(524.9,448) scale(1,1.1)" text-anchor="middle" class="t">525</text>
<text transform="translate(607.2,448) scale(1,1.1)" text-anchor="middle" class="t">625</text>
<text transform="translate(689.5,448) scale(1,1.1)" text-anchor="middle" class="t">725</text>
<line x1="113.4" y1="364.3" x2="113.4" y2="666" stroke="#000" stroke-width="2"/>
<line x1="113.3" y1="424.8" x2="688.5" y2="424.8" stroke="#000" stroke-width="2"/>
<text x="355" y="412" class="ttl" font-size="18.4">Temp (C)</text>
<text transform="translate(31,515.4) rotate(-90)" text-anchor="middle" class="ttl" font-size="18.8">Derivative weight loss (%/min)</text>
<line x1="163.8" y1="479.4" x2="189" y2="479.4" stroke="#000000" stroke-width="2.6" stroke-linecap="round"/>
<text transform="translate(192.6,484.1) scale(1,1.1)" class="tl">R</text>
<line x1="163.8" y1="507.3" x2="189" y2="507.3" stroke="#FFFF00" stroke-width="2.6" stroke-linecap="round"/>
<text transform="translate(192.6,512.0) scale(1,1.1)" class="tl">R-BN1%</text>
<line x1="163.8" y1="535.4" x2="189" y2="535.4" stroke="#FF0000" stroke-width="2.6" stroke-linecap="round"/>
<text transform="translate(192.6,540.1) scale(1,1.1)" class="tl">R-BN5%</text>
<line x1="163.8" y1="563.9" x2="189" y2="563.9" stroke="#ED7D31" stroke-width="2.6" stroke-linecap="round"/>
<text transform="translate(192.6,568.6) scale(1,1.1)" class="tl">R-BN3%</text>
<line x1="163.8" y1="591.5" x2="189" y2="591.5" stroke="#548235" stroke-width="2.6" stroke-linecap="round"/>
<text transform="translate(192.6,596.2) scale(1,1.1)" class="tl">R-sBN1%</text>
<line x1="163.8" y1="619.5" x2="189" y2="619.5" stroke="#00B050" stroke-width="2.6" stroke-linecap="round"/>
<text transform="translate(192.6,624.2) scale(1,1.1)" class="tl">R-sBN3%</text>
<line x1="163.8" y1="647.7" x2="189" y2="647.7" stroke="#4472C4" stroke-width="2.6" stroke-linecap="round"/>
<text transform="translate(192.6,652.4) scale(1,1.1)" class="tl">R-sBN5%</text>
<path d="M113.00 424.50 L113.70 424.50 L114.40 424.50 L115.10 424.50 L115.80 424.50 L116.50 424.50 L117.20 424.50 L117.90 424.50 L118.60 424.50 L119.30 424.50 L120.00 424.50 L120.70 424.50 L121.40 424.50 L122.10 424.50 L122.80 424.50 L123.50 424.50 L124.20 424.50 L124.90 424.50 L125.60 424.50 L126.30 424.50 L127.00 424.50 L127.70 424.50 L128.40 424.50 L129.10 424.50 L129.80 424.50 L130.50 424.50 L131.20 424.50 L131.90 424.50 L132.60 424.50 L133.30 424.50 L134.00 424.50 L134.70 424.50 L135.40 424.50 L136.10 424.50 L136.80 424.50 L137.50 424.50 L138.20 424.50 L138.90 424.50 L139.60 424.50 L140.30 424.50 L141.00 424.50 L141.70 424.50 L142.40 424.50 L143.10 424.50 L143.80 424.50 L144.50 424.50 L145.20 424.50 L145.90 424.50 L146.60 424.50 L147.30 424.50 L148.00 424.50 L148.70 424.50 L149.40 424.50 L150.10 424.50 L150.80 424.50 L151.50 424.50 L152.20 424.50 L152.90 424.50 L153.60 424.50 L154.30 424.50 L155.00 424.50 L155.70 424.50 L156.40 424.50 L157.10 424.50 L157.80 424.50 L158.50 424.50 L159.20 424.50 L159.90 424.50 L160.60 424.50 L161.30 424.50 L162.00 424.50 L162.70 424.50 L163.40 424.50 L164.10 424.50 L164.80 424.50 L165.50 424.50 L166.20 424.50 L166.90 424.50 L167.60 424.50 L168.30 424.50 L169.00 424.50 L169.70 424.50 L170.40 424.50 L171.10 424.50 L171.80 424.50 L172.50 424.50 L173.20 424.50 L173.90 424.50 L174.60 424.50 L175.30 424.50 L176.00 424.50 L176.70 424.50 L177.40 424.50 L178.10 424.50 L178.80 424.50 L179.50 424.50 L180.20 424.50 L180.90 424.50 L181.60 424.50 L182.30 424.50 L183.00 424.50 L183.70 424.50 L184.40 424.50 L185.10 424.50 L185.80 424.50 L186.50 424.50 L187.20 424.50 L187.90 424.50 L188.60 424.50 L189.30 424.50 L190.00 424.50 L190.70 424.50 L191.40 424.50 L192.10 424.50 L192.80 424.50 L193.50 424.50 L194.20 424.50 L194.90 424.50 L195.60 424.50 L196.30 424.50 L197.00 424.50 L197.70 424.50 L198.40 424.50 L199.10 424.50 L199.80 424.50 L200.50 424.50 L201.20 424.50 L201.90 424.50 L202.60 424.50 L203.30 424.50 L204.00 424.50 L204.70 424.50 L205.40 424.50 L206.10 424.50 L206.80 424.50 L207.50 424.50 L208.20 424.50 L208.90 424.51 L209.60 424.51 L210.30 424.51 L211.00 424.51 L211.70 424.51 L212.40 424.51 L213.10 424.51 L213.80 424.51 L214.50 424.51 L215.20 424.52 L215.90 424.52 L216.60 424.52 L217.30 424.52 L218.00 424.52 L218.70 424.52 L219.40 424.53 L220.10 424.53 L220.80 424.53 L221.50 424.53 L222.20 424.53 L222.90 424.53 L223.60 424.54 L224.30 424.54 L225.00 424.54 L225.70 424.54 L226.40 424.55 L227.10 424.55 L227.80 424.55 L228.50 424.55 L229.20 424.56 L229.90 424.56 L230.60 424.56 L231.30 424.56 L232.00 424.57 L232.70 424.57 L233.40 424.57 L234.10 424.57 L234.80 424.58 L235.50 424.58 L236.20 424.58 L236.90 424.59 L237.60 424.59 L238.30 424.59 L239.00 424.60 L239.70 424.60 L240.40 424.60 L241.10 424.61 L241.80 424.61 L242.50 424.61 L243.20 424.62 L243.90 424.62 L244.60 424.62 L245.30 424.63 L246.00 424.63 L246.70 424.63 L247.40 424.64 L248.10 424.64 L248.80 424.65 L249.50 424.65 L250.20 424.65 L250.90 424.66 L251.60 424.66 L252.30 424.66 L253.00 424.67 L253.70 424.67 L254.40 424.68 L255.10 424.68 L255.80 424.69 L256.50 424.69 L257.20 424.69 L257.90 424.70 L258.60 424.70 L259.30 424.71 L260.00 424.71 L260.70 424.72 L261.40 424.72 L262.10 424.72 L262.80 424.73 L263.50 424.73 L264.20 424.74 L264.90 424.74 L265.60 424.75 L266.30 424.75 L267.00 424.76 L267.70 424.76 L268.40 424.77 L269.10 424.77 L269.80 424.78 L270.50 424.78 L271.20 424.78 L271.90 424.79 L272.60 424.79 L273.30 424.80 L274.00 424.80 L274.70 424.81 L275.40 424.81 L276.10 424.82 L276.80 424.82 L277.50 424.83 L278.20 424.83 L278.90 424.84 L279.60 424.84 L280.30 424.85 L281.00 424.85 L281.70 424.86 L282.40 424.87 L283.10 424.87 L283.80 424.88 L284.50 424.88 L285.20 424.89 L285.90 424.89 L286.60 424.90 L287.30 424.90 L288.00 424.91 L288.70 424.91 L289.40 424.92 L290.10 424.92 L290.80 424.93 L291.50 424.93 L292.20 424.94 L292.90 424.94 L293.60 424.95 L294.30 424.96 L295.00 424.96 L295.70 424.97 L296.40 424.97 L297.10 424.98 L297.80 424.98 L298.50 424.99 L299.20 424.99 L299.90 425.00 L300.60 425.00 L301.30 425.01 L302.00 425.02 L302.70 425.02 L303.40 425.03 L304.10 425.03 L304.80 425.04 L305.50 425.04 L306.20 425.05 L306.90 425.06 L307.60 425.06 L308.30 425.07 L309.00 425.08 L309.70 425.08 L310.40 425.09 L311.10 425.09 L311.80 425.10 L312.50 425.11 L313.20 425.11 L313.90 425.12 L314.60 425.13 L315.30 425.13 L316.00 425.14 L316.70 425.15 L317.40 425.16 L318.10 425.16 L318.80 425.17 L319.50 425.18 L320.20 425.19 L320.90 425.19 L321.60 425.20 L322.30 425.21 L323.00 425.22 L323.70 425.23 L324.40 425.24 L325.10 425.24 L325.80 425.25 L326.50 425.26 L327.20 425.27 L327.90 425.28 L328.60 425.29 L329.30 425.30 L330.00 425.31 L330.70 425.32 L331.40 425.33 L332.10 425.34 L332.80 425.35 L333.50 425.36 L334.20 425.37 L334.90 425.38 L335.60 425.39 L336.30 425.40 L337.00 425.41 L337.70 425.42 L338.40 425.43 L339.10 425.44 L339.80 425.46 L340.50 425.47 L341.20 425.48 L341.90 425.49 L342.60 425.50 L343.30 425.52 L344.00 425.53 L344.70 425.54 L345.40 425.56 L346.10 425.57 L346.80 425.58 L347.50 425.60 L348.20 425.61 L348.90 425.62 L349.60 425.64 L350.30 425.65 L351.00 425.67 L351.70 425.68 L352.40 425.70 L353.10 425.71 L353.80 425.73 L354.50 425.74 L355.20 425.76 L355.90 425.78 L356.60 425.79 L357.30 425.81 L358.00 425.83 L358.70 425.84 L359.40 425.86 L360.10 425.88 L360.80 425.90 L361.50 425.91 L362.20 425.93 L362.90 425.95 L363.60 425.97 L364.30 425.99 L365.00 426.01 L365.70 426.03 L366.40 426.05 L367.10 426.08 L367.80 426.11 L368.50 426.13 L369.20 426.16 L369.90 426.20 L370.60 426.23 L371.30 426.27 L372.00 426.31 L372.70 426.35 L373.40 426.39 L374.10 426.43 L374.80 426.48 L375.50 426.52 L376.20 426.57 L376.90 426.62 L377.60 426.67 L378.30 426.72 L379.00 426.78 L379.70 426.83 L380.40 426.89 L381.10 426.95 L381.80 427.01 L382.50 427.07 L383.20 427.15 L383.90 427.23 L384.60 427.32 L385.30 427.42 L386.00 427.52 L386.70 427.63 L387.40 427.75 L388.10 427.87 L388.80 427.99 L389.50 428.12 L390.20 428.25 L390.90 428.38 L391.60 428.51 L392.30 428.64 L393.00 428.78 L393.70 428.91 L394.40 429.04 L395.10 429.18 L395.80 429.30 L396.50 429.43 L397.20 429.55 L397.90 429.67 L398.60 429.79 L399.30 429.90 L400.00 430.00 L400.70 430.10 L401.40 430.20 L402.10 430.29 L402.80 430.38 L403.50 430.47 L404.20 430.56 L404.90 430.64 L405.60 430.73 L406.30 430.81 L407.00 430.89 L407.70 430.97 L408.40 431.05 L409.10 431.13 L409.80 431.21 L410.50 431.29 L411.20 431.37 L411.90 431.45 L412.60 431.53 L413.30 431.61 L414.00 431.69 L414.70 431.77 L415.40 431.86 L416.10 431.94 L416.80 432.03 L417.50 432.11 L418.20 432.20 L418.90 432.30 L419.60 432.39 L420.30 432.49 L421.00 432.59 L421.70 432.69 L422.40 432.79 L423.10 432.90 L423.80 433.02 L424.50 433.13 L425.20 433.25 L425.90 433.37 L426.60 433.50 L427.30 433.63 L428.00 433.76 L428.70 433.90 L429.40 434.04 L430.10 434.18 L430.80 434.33 L431.50 434.49 L432.20 434.65 L432.90 434.81 L433.60 434.98 L434.30 435.16 L435.00 435.34 L435.70 435.53 L436.40 435.72 L437.10 435.93 L437.80 436.14 L438.50 436.37 L439.20 436.60 L439.90 436.84 L440.60 437.09 L441.30 437.35 L442.00 437.62 L442.70 437.90 L443.40 438.19 L444.10 438.49 L444.80 438.79 L445.50 439.11 L446.20 439.43 L446.90 439.76 L447.60 440.10 L448.30 440.47 L449.00 440.86 L449.70 441.28 L450.40 441.73 L451.10 442.19 L451.80 442.66 L452.50 443.14 L453.20 443.63 L453.90 444.13 L454.60 444.66 L455.30 445.21 L456.00 445.77 L456.70 446.34 L457.40 446.91 L458.10 447.47 L458.80 448.02 L459.50 448.55 L460.20 449.05 L460.90 449.54 L461.60 450.02 L462.30 450.50 L463.00 450.98 L463.70 451.47 L464.40 451.98 L465.10 452.52 L465.80 453.09 L466.50 453.68 L467.20 454.29 L467.90 454.93 L468.60 455.57 L469.30 456.22 L470.00 456.88 L470.70 457.53 L471.40 458.18 L472.10 458.84 L472.80 459.50 L473.50 460.17 L474.20 460.85 L474.90 461.52 L475.60 462.19 L476.30 462.85 L477.00 463.50 L477.70 464.12 L478.40 464.71 L479.10 465.32 L479.80 465.99 L480.50 466.77 L481.20 467.66 L481.90 468.63 L482.60 469.66 L483.30 470.73 L484.00 471.79 L484.70 472.84 L485.40 473.83 L486.10 474.76 L486.80 475.62 L487.50 476.45 L488.20 477.26 L488.90 478.05 L489.60 478.84 L490.30 479.65 L491.00 480.48 L491.70 481.34 L492.40 482.25 L493.10 483.16 L493.80 484.09 L494.50 485.04 L495.20 486.01 L495.90 487.01 L496.60 488.04 L497.30 489.11 L498.00 490.23 L498.70 491.46 L499.40 492.74 L500.10 493.97 L500.80 495.15 L501.50 496.32 L502.20 497.47 L502.90 498.59 L503.60 499.69 L504.30 500.75 L505.00 501.77 L505.70 502.73 L506.40 503.67 L507.10 504.60 L507.80 505.54 L508.50 506.52 L509.20 507.55 L509.90 508.65 L510.60 509.79 L511.30 510.95 L512.00 512.11 L512.70 513.25 L513.40 514.35 L514.10 515.38 L514.80 516.35 L515.50 517.33 L516.20 518.40 L516.90 519.60 L517.60 521.19 L518.30 522.67 L519.00 523.80 L519.70 524.81 L520.40 525.73 L521.10 526.58 L521.80 527.39 L522.50 528.20 L523.20 529.02 L523.90 529.87 L524.60 530.77 L525.30 531.69 L526.00 532.61 L526.70 533.53 L527.40 534.45 L528.10 535.36 L528.80 536.26 L529.50 537.15 L530.20 538.01 L530.90 538.85 L531.60 539.66 L532.30 540.44 L533.00 541.18 L533.70 541.89 L534.40 542.59 L535.10 543.27 L535.80 543.94 L536.50 544.62 L537.20 545.30 L537.90 546.00 L538.60 546.74 L539.30 547.52 L540.00 548.31 L540.70 549.10 L541.40 549.86 L542.10 550.57 L542.80 551.21 L543.50 551.76 L544.20 552.22 L544.90 552.63 L545.60 553.00 L546.30 553.35 L547.00 553.67 L547.70 553.98 L548.40 554.28 L549.10 554.58 L549.80 554.89 L550.50 555.20 L551.20 555.52 L551.90 555.83 L552.60 556.13 L553.30 556.42 L554.00 556.69 L554.70 556.93 L555.40 557.14 L556.10 557.33 L556.80 557.49 L557.50 557.64 L558.20 557.78 L558.90 557.91 L559.60 558.04 L560.30 558.17 L561.00 558.30 L561.70 558.44 L562.40 558.59 L563.10 558.75 L563.80 558.91 L564.50 559.07 L565.20 559.23 L565.90 559.36 L566.60 559.49 L567.30 559.59 L568.00 559.67 L568.70 559.76 L569.40 559.84 L570.10 559.91 L570.80 559.98 L571.50 560.03 L572.20 560.07 L572.90 560.10 L573.60 560.10 L574.30 560.06 L575.00 559.98 L575.70 559.88 L576.40 559.74 L577.10 559.58 L577.80 559.41 L578.50 559.22 L579.20 559.03 L579.90 558.80 L580.60 558.50 L581.30 558.14 L582.00 557.72 L582.70 557.26 L583.40 556.77 L584.10 556.25 L584.80 555.71 L585.50 555.16 L586.20 554.57 L586.90 553.91 L587.60 553.18 L588.30 552.39 L589.00 551.51 L589.70 550.52 L590.40 549.41 L591.10 548.20 L591.80 546.89 L592.50 545.49 L593.20 543.94 L593.90 542.20 L594.60 540.29 L595.30 538.11 L596.00 535.60 L596.70 532.92 L597.40 530.22 L598.10 527.64 L598.80 525.12 L599.50 522.59 L600.20 520.08 L600.90 517.63 L601.60 515.25 L602.30 512.98 L603.00 510.87 L603.70 508.87 L604.40 506.93 L605.10 505.00 L605.80 503.02 L606.50 500.94 L607.20 498.72 L607.90 496.41 L608.60 494.04 L609.30 491.57 L610.00 489.02 L610.70 486.37 L611.40 483.56 L612.10 480.46 L612.80 477.20 L613.50 473.98 L614.20 470.98 L614.90 468.32 L615.60 465.88 L616.30 463.57 L617.00 461.35 L617.70 459.16 L618.40 456.94 L619.10 454.64 L619.80 452.35 L620.50 450.19 L621.20 448.26 L621.90 446.64 L622.60 445.18 L623.30 443.83 L624.00 442.58 L624.70 441.43 L625.40 440.37 L626.10 439.39 L626.80 438.50 L627.50 437.66 L628.20 436.87 L628.90 436.14 L629.60 435.46 L630.30 434.84 L631.00 434.28 L631.70 433.76 L632.40 433.28 L633.10 432.84 L633.80 432.42 L634.50 432.03 L635.20 431.66 L635.90 431.30 L636.60 430.95 L637.30 430.61 L638.00 430.28 L638.70 429.98 L639.40 429.70 L640.10 429.47 L640.80 429.25 L641.50 429.04 L642.20 428.84 L642.90 428.64 L643.60 428.45 L644.30 428.26 L645.00 428.09 L645.70 427.92 L646.40 427.76 L647.10 427.62 L647.80 427.48 L648.50 427.35 L649.20 427.24 L649.90 427.14 L650.60 427.05 L651.30 426.97 L652.00 426.89 L652.70 426.82 L653.40 426.75 L654.10 426.67 L654.80 426.60 L655.50 426.53 L656.20 426.47 L656.90 426.40 L657.60 426.34 L658.30 426.27 L659.00 426.21 L659.70 426.15 L660.40 426.10 L661.10 426.04 L661.80 425.99 L662.50 425.94 L663.20 425.89 L663.90 425.84 L664.60 425.80 L665.30 425.76 L666.00 425.72 L666.70 425.69 L667.40 425.65 L668.10 425.62 L668.80 425.60 L669.50 425.57 L670.20 425.55 L670.90 425.54 L671.60 425.52 L672.30 425.51 L673.00 425.50 L673.70 425.50 L674.00 425.50" fill="none" stroke="#000000" stroke-width="2.6" stroke-linejoin="round"/>
<path d="M113.00 425.80 L113.70 425.72 L114.40 425.64 L115.10 425.56 L115.80 425.51 L116.50 425.48 L117.20 425.45 L117.90 425.43 L118.60 425.40 L119.30 425.38 L120.00 425.35 L120.70 425.32 L121.40 425.30 L122.10 425.27 L122.80 425.25 L123.50 425.23 L124.20 425.20 L124.90 425.18 L125.60 425.15 L126.30 425.13 L127.00 425.11 L127.70 425.09 L128.40 425.06 L129.10 425.04 L129.80 425.02 L130.50 425.00 L131.20 424.98 L131.90 424.96 L132.60 424.93 L133.30 424.91 L134.00 424.89 L134.70 424.87 L135.40 424.85 L136.10 424.83 L136.80 424.81 L137.50 424.80 L138.20 424.78 L138.90 424.76 L139.60 424.74 L140.30 424.72 L141.00 424.70 L141.70 424.69 L142.40 424.67 L143.10 424.65 L143.80 424.63 L144.50 424.62 L145.20 424.60 L145.90 424.59 L146.60 424.57 L147.30 424.55 L148.00 424.54 L148.70 424.52 L149.40 424.51 L150.10 424.49 L150.80 424.48 L151.50 424.47 L152.20 424.45 L152.90 424.44 L153.60 424.42 L154.30 424.41 L155.00 424.40 L155.70 424.38 L156.40 424.37 L157.10 424.36 L157.80 424.35 L158.50 424.34 L159.20 424.32 L159.90 424.31 L160.60 424.30 L161.30 424.29 L162.00 424.28 L162.70 424.27 L163.40 424.26 L164.10 424.25 L164.80 424.24 L165.50 424.23 L166.20 424.22 L166.90 424.21 L167.60 424.20 L168.30 424.19 L169.00 424.18 L169.70 424.17 L170.40 424.17 L171.10 424.16 L171.80 424.15 L172.50 424.14 L173.20 424.14 L173.90 424.13 L174.60 424.12 L175.30 424.11 L176.00 424.11 L176.70 424.10 L177.40 424.10 L178.10 424.09 L178.80 424.08 L179.50 424.08 L180.20 424.07 L180.90 424.07 L181.60 424.06 L182.30 424.06 L183.00 424.05 L183.70 424.05 L184.40 424.04 L185.10 424.04 L185.80 424.04 L186.50 424.03 L187.20 424.03 L187.90 424.03 L188.60 424.02 L189.30 424.02 L190.00 424.02 L190.70 424.02 L191.40 424.01 L192.10 424.01 L192.80 424.01 L193.50 424.01 L194.20 424.01 L194.90 424.00 L195.60 424.00 L196.30 424.00 L197.00 424.00 L197.70 424.00 L198.40 424.00 L199.10 424.00 L199.80 424.00 L200.50 424.00 L201.20 424.00 L201.90 424.00 L202.60 424.00 L203.30 424.00 L204.00 424.00 L204.70 424.00 L205.40 424.00 L206.10 424.00 L206.80 424.00 L207.50 424.00 L208.20 424.00 L208.90 424.00 L209.60 424.00 L210.30 424.00 L211.00 424.00 L211.70 424.00 L212.40 424.00 L213.10 424.00 L213.80 424.00 L214.50 424.00 L215.20 424.00 L215.90 424.00 L216.60 424.00 L217.30 424.00 L218.00 424.00 L218.70 424.00 L219.40 424.00 L220.10 424.00 L220.80 424.00 L221.50 424.00 L222.20 424.00 L222.90 424.00 L223.60 424.00 L224.30 424.00 L225.00 424.00 L225.70 424.00 L226.40 424.00 L227.10 424.00 L227.80 424.00 L228.50 424.00 L229.20 424.00 L229.90 424.00 L230.60 424.00 L231.30 424.00 L232.00 424.00 L232.70 424.00 L233.40 424.00 L234.10 424.00 L234.80 424.00 L235.50 424.00 L236.20 424.00 L236.90 424.00 L237.60 424.00 L238.30 424.00 L239.00 424.00 L239.70 424.00 L240.40 424.00 L241.10 424.00 L241.80 424.00 L242.50 424.00 L243.20 424.00 L243.90 424.00 L244.60 424.00 L245.30 424.00 L246.00 424.00 L246.70 424.00 L247.40 424.00 L248.10 424.00 L248.80 424.00 L249.50 424.00 L250.20 424.00 L250.90 424.00 L251.60 424.00 L252.30 424.00 L253.00 424.00 L253.70 424.00 L254.40 424.00 L255.10 424.00 L255.80 424.00 L256.50 424.00 L257.20 424.00 L257.90 424.00 L258.60 424.00 L259.30 424.00 L260.00 424.00 L260.70 424.00 L261.40 424.00 L262.10 424.00 L262.80 424.00 L263.50 424.00 L264.20 424.00 L264.90 424.00 L265.60 424.00 L266.30 424.00 L267.00 424.00 L267.70 424.00 L268.40 424.00 L269.10 424.00 L269.80 424.00 L270.50 424.00 L271.20 424.00 L271.90 424.00 L272.60 424.00 L273.30 424.00 L274.00 424.00 L274.70 424.00 L275.40 424.00 L276.10 424.00 L276.80 424.00 L277.50 424.00 L278.20 424.00 L278.90 424.00 L279.60 424.00 L280.30 424.00 L281.00 424.00 L281.70 424.00 L282.40 424.00 L283.10 424.00 L283.80 424.00 L284.50 424.00 L285.20 424.00 L285.90 424.00 L286.60 424.00 L287.30 424.00 L288.00 424.00 L288.70 424.00 L289.40 424.00 L290.10 424.00 L290.80 424.00 L291.50 424.00 L292.20 424.00 L292.90 424.00 L293.60 424.00 L294.30 424.00 L295.00 424.00 L295.70 424.00 L296.40 424.00 L297.10 424.00 L297.80 424.00 L298.50 424.00 L299.20 424.00 L299.90 424.00 L300.60 424.00 L301.30 424.00 L302.00 424.00 L302.70 424.00 L303.40 424.01 L304.10 424.01 L304.80 424.01 L305.50 424.02 L306.20 424.02 L306.90 424.02 L307.60 424.03 L308.30 424.03 L309.00 424.04 L309.70 424.05 L310.40 424.05 L311.10 424.06 L311.80 424.07 L312.50 424.08 L313.20 424.08 L313.90 424.09 L314.60 424.10 L315.30 424.11 L316.00 424.12 L316.70 424.13 L317.40 424.14 L318.10 424.15 L318.80 424.17 L319.50 424.18 L320.20 424.19 L320.90 424.20 L321.60 424.22 L322.30 424.23 L323.00 424.24 L323.70 424.26 L324.40 424.27 L325.10 424.29 L325.80 424.30 L326.50 424.32 L327.20 424.33 L327.90 424.35 L328.60 424.36 L329.30 424.38 L330.00 424.40 L330.70 424.41 L331.40 424.43 L332.10 424.45 L332.80 424.47 L333.50 424.49 L334.20 424.50 L334.90 424.52 L335.60 424.54 L336.30 424.56 L337.00 424.58 L337.70 424.60 L338.40 424.62 L339.10 424.64 L339.80 424.66 L340.50 424.68 L341.20 424.70 L341.90 424.73 L342.60 424.75 L343.30 424.77 L344.00 424.79 L344.70 424.81 L345.40 424.83 L346.10 424.86 L346.80 424.88 L347.50 424.90 L348.20 424.92 L348.90 424.95 L349.60 424.97 L350.30 424.99 L351.00 425.02 L351.70 425.04 L352.40 425.06 L353.10 425.09 L353.80 425.11 L354.50 425.14 L355.20 425.16 L355.90 425.19 L356.60 425.21 L357.30 425.23 L358.00 425.26 L358.70 425.28 L359.40 425.31 L360.10 425.33 L360.80 425.36 L361.50 425.38 L362.20 425.41 L362.90 425.43 L363.60 425.46 L364.30 425.49 L365.00 425.51 L365.70 425.54 L366.40 425.56 L367.10 425.59 L367.80 425.62 L368.50 425.65 L369.20 425.69 L369.90 425.72 L370.60 425.75 L371.30 425.79 L372.00 425.83 L372.70 425.87 L373.40 425.91 L374.10 425.95 L374.80 425.99 L375.50 426.03 L376.20 426.08 L376.90 426.13 L377.60 426.18 L378.30 426.23 L379.00 426.28 L379.70 426.34 L380.40 426.39 L381.10 426.45 L381.80 426.51 L382.50 426.58 L383.20 426.65 L383.90 426.74 L384.60 426.83 L385.30 426.93 L386.00 427.04 L386.70 427.15 L387.40 427.27 L388.10 427.39 L388.80 427.51 L389.50 427.64 L390.20 427.78 L390.90 427.91 L391.60 428.05 L392.30 428.18 L393.00 428.32 L393.70 428.45 L394.40 428.58 L395.10 428.71 L395.80 428.84 L396.50 428.96 L397.20 429.08 L397.90 429.20 L398.60 429.30 L399.30 429.41 L400.00 429.50 L400.70 429.59 L401.40 429.67 L402.10 429.76 L402.80 429.83 L403.50 429.91 L404.20 429.98 L404.90 430.05 L405.60 430.12 L406.30 430.19 L407.00 430.25 L407.70 430.32 L408.40 430.38 L409.10 430.44 L409.80 430.50 L410.50 430.57 L411.20 430.63 L411.90 430.69 L412.60 430.75 L413.30 430.81 L414.00 430.88 L414.70 430.94 L415.40 431.01 L416.10 431.07 L416.80 431.14 L417.50 431.22 L418.20 431.29 L418.90 431.37 L419.60 431.45 L420.30 431.54 L421.00 431.62 L421.70 431.71 L422.40 431.81 L423.10 431.91 L423.80 432.02 L424.50 432.13 L425.20 432.25 L425.90 432.38 L426.60 432.53 L427.30 432.68 L428.00 432.83 L428.70 433.00 L429.40 433.16 L430.10 433.34 L430.80 433.52 L431.50 433.70 L432.20 433.88 L432.90 434.07 L433.60 434.26 L434.30 434.45 L435.00 434.64 L435.70 434.83 L436.40 435.02 L437.10 435.21 L437.80 435.42 L438.50 435.62 L439.20 435.83 L439.90 436.04 L440.60 436.26 L441.30 436.48 L442.00 436.70 L442.70 436.93 L443.40 437.16 L444.10 437.39 L444.80 437.62 L445.50 437.86 L446.20 438.09 L446.90 438.33 L447.60 438.57 L448.30 438.81 L449.00 439.05 L449.70 439.29 L450.40 439.53 L451.10 439.78 L451.80 440.04 L452.50 440.30 L453.20 440.57 L453.90 440.85 L454.60 441.13 L455.30 441.43 L456.00 441.73 L456.70 442.04 L457.40 442.36 L458.10 442.69 L458.80 443.02 L459.50 443.36 L460.20 443.72 L460.90 444.08 L461.60 444.45 L462.30 444.83 L463.00 445.21 L463.70 445.61 L464.40 446.02 L465.10 446.44 L465.80 446.87 L466.50 447.32 L467.20 447.77 L467.90 448.25 L468.60 448.73 L469.30 449.23 L470.00 449.74 L470.70 450.27 L471.40 450.80 L472.10 451.35 L472.80 451.91 L473.50 452.48 L474.20 453.06 L474.90 453.66 L475.60 454.26 L476.30 454.88 L477.00 455.50 L477.70 456.14 L478.40 456.79 L479.10 457.46 L479.80 458.15 L480.50 458.85 L481.20 459.56 L481.90 460.30 L482.60 461.04 L483.30 461.80 L484.00 462.57 L484.70 463.36 L485.40 464.15 L486.10 464.96 L486.80 465.78 L487.50 466.62 L488.20 467.46 L488.90 468.32 L489.60 469.19 L490.30 470.06 L491.00 470.95 L491.70 471.84 L492.40 472.76 L493.10 473.76 L493.80 474.81 L494.50 475.92 L495.20 477.07 L495.90 478.24 L496.60 479.43 L497.30 480.63 L498.00 481.82 L498.70 483.00 L499.40 484.15 L500.10 485.26 L500.80 486.31 L501.50 487.31 L502.20 488.23 L502.90 489.06 L503.60 489.80 L504.30 490.44 L505.00 491.00 L505.70 491.51 L506.40 491.98 L507.10 492.45 L507.80 492.94 L508.50 493.47 L509.20 494.06 L509.90 494.72 L510.60 495.41 L511.30 496.13 L512.00 496.86 L512.70 497.59 L513.40 498.30 L514.10 498.97 L514.80 499.62 L515.50 500.27 L516.20 500.94 L516.90 501.66 L517.60 502.46 L518.30 503.35 L519.00 504.36 L519.70 505.46 L520.40 506.63 L521.10 507.84 L521.80 509.09 L522.50 510.35 L523.20 511.75 L523.90 513.23 L524.60 514.69 L525.30 516.05 L526.00 517.21 L526.70 518.21 L527.40 519.11 L528.10 519.97 L528.80 520.82 L529.50 521.71 L530.20 522.69 L530.90 523.75 L531.60 524.87 L532.30 526.03 L533.00 527.20 L533.70 528.38 L534.40 529.54 L535.10 530.67 L535.80 531.75 L536.50 532.79 L537.20 533.81 L537.90 534.82 L538.60 535.82 L539.30 536.79 L540.00 537.73 L540.70 538.64 L541.40 539.51 L542.10 540.33 L542.80 541.13 L543.50 541.89 L544.20 542.63 L544.90 543.35 L545.60 544.05 L546.30 544.72 L547.00 545.37 L547.70 546.01 L548.40 546.63 L549.10 547.24 L549.80 547.83 L550.50 548.40 L551.20 548.96 L551.90 549.49 L552.60 550.02 L553.30 550.52 L554.00 551.01 L554.70 551.55 L555.40 552.12 L556.10 552.69 L556.80 553.22 L557.50 553.69 L558.20 554.06 L558.90 554.31 L559.60 554.40 L560.30 554.39 L561.00 554.36 L561.70 554.30 L562.40 554.24 L563.10 554.15 L563.80 554.06 L564.50 553.96 L565.20 553.86 L565.90 553.75 L566.60 553.57 L567.30 553.33 L568.00 553.06 L568.70 552.77 L569.40 552.50 L570.10 552.27 L570.80 552.09 L571.50 552.00 L572.20 551.96 L572.90 551.92 L573.60 551.89 L574.30 551.86 L575.00 551.84 L575.70 551.82 L576.40 551.81 L577.10 551.80 L577.80 551.80 L578.50 551.82 L579.20 551.84 L579.90 551.88 L580.60 551.91 L581.30 551.95 L582.00 551.98 L582.70 551.99 L583.40 552.00 L584.10 551.99 L584.80 551.96 L585.50 551.91 L586.20 551.85 L586.90 551.77 L587.60 551.68 L588.30 551.57 L589.00 551.45 L589.70 551.29 L590.40 550.96 L591.10 550.48 L591.80 549.89 L592.50 549.25 L593.20 548.58 L593.90 547.93 L594.60 547.27 L595.30 546.56 L596.00 545.77 L596.70 544.87 L597.40 543.82 L598.10 542.59 L598.80 540.80 L599.50 538.16 L600.20 535.21 L600.90 532.54 L601.60 530.46 L602.30 528.60 L603.00 526.88 L603.70 525.24 L604.40 523.62 L605.10 521.98 L605.80 520.26 L606.50 518.46 L607.20 516.69 L607.90 514.93 L608.60 513.16 L609.30 511.36 L610.00 509.54 L610.70 507.66 L611.40 505.72 L612.10 503.69 L612.80 501.58 L613.50 499.34 L614.20 496.84 L614.90 494.12 L615.60 491.33 L616.30 488.60 L617.00 486.05 L617.70 483.62 L618.40 481.25 L619.10 478.95 L619.80 476.77 L620.50 474.72 L621.20 472.76 L621.90 470.88 L622.60 469.06 L623.30 467.32 L624.00 465.65 L624.70 464.07 L625.40 462.58 L626.10 461.19 L626.80 459.88 L627.50 458.63 L628.20 457.42 L628.90 456.22 L629.60 455.02 L630.30 453.78 L631.00 452.49 L631.70 451.16 L632.40 449.82 L633.10 448.48 L633.80 447.18 L634.50 445.95 L635.20 444.80 L635.90 443.77 L636.60 442.80 L637.30 441.89 L638.00 441.02 L638.70 440.19 L639.40 439.39 L640.10 438.63 L640.80 437.90 L641.50 437.18 L642.20 436.49 L642.90 435.81 L643.60 435.17 L644.30 434.56 L645.00 433.98 L645.70 433.45 L646.40 432.95 L647.10 432.47 L647.80 432.02 L648.50 431.60 L649.20 431.19 L649.90 430.81 L650.60 430.45 L651.30 430.10 L652.00 429.76 L652.70 429.43 L653.40 429.10 L654.10 428.80 L654.80 428.53 L655.50 428.30 L656.20 428.12 L656.90 427.98 L657.60 427.87 L658.30 427.76 L659.00 427.67 L659.70 427.58 L660.40 427.51 L661.10 427.44 L661.80 427.37 L662.50 427.31 L663.20 427.25 L663.90 427.19 L664.60 427.13 L665.30 427.07 L666.00 427.01 L666.70 426.96 L667.40 426.90 L668.10 426.86 L668.80 426.81 L669.50 426.77 L670.20 426.73 L670.90 426.70 L671.60 426.67 L672.30 426.64 L673.00 426.62 L673.70 426.60 L674.00 426.60" fill="none" stroke="#FFFF00" stroke-width="2.6" stroke-linejoin="round"/>
<path d="M113.00 423.00 L113.70 423.00 L114.40 423.00 L115.10 423.00 L115.80 423.00 L116.50 423.00 L117.20 423.00 L117.90 423.00 L118.60 423.00 L119.30 423.00 L120.00 423.00 L120.70 423.00 L121.40 423.00 L122.10 423.00 L122.80 423.00 L123.50 423.00 L124.20 423.00 L124.90 423.00 L125.60 423.00 L126.30 423.00 L127.00 423.00 L127.70 423.00 L128.40 423.00 L129.10 423.00 L129.80 423.00 L130.50 423.00 L131.20 423.00 L131.90 423.00 L132.60 423.00 L133.30 423.00 L134.00 423.00 L134.70 423.00 L135.40 423.00 L136.10 423.00 L136.80 423.00 L137.50 423.00 L138.20 423.00 L138.90 423.00 L139.60 423.00 L140.30 423.00 L141.00 423.00 L141.70 423.00 L142.40 423.00 L143.10 423.00 L143.80 423.00 L144.50 423.00 L145.20 423.00 L145.90 423.00 L146.60 423.00 L147.30 423.00 L148.00 423.00 L148.70 423.00 L149.40 423.00 L150.10 423.00 L150.80 423.00 L151.50 423.00 L152.20 423.00 L152.90 423.00 L153.60 423.00 L154.30 423.00 L155.00 423.00 L155.70 423.00 L156.40 423.00 L157.10 423.00 L157.80 423.00 L158.50 423.00 L159.20 423.00 L159.90 423.00 L160.60 423.00 L161.30 423.00 L162.00 423.00 L162.70 423.00 L163.40 423.00 L164.10 423.00 L164.80 423.00 L165.50 423.00 L166.20 423.00 L166.90 423.00 L167.60 423.00 L168.30 423.00 L169.00 423.00 L169.70 423.00 L170.40 423.00 L171.10 423.00 L171.80 423.00 L172.50 423.00 L173.20 423.00 L173.90 423.00 L174.60 423.00 L175.30 423.00 L176.00 423.00 L176.70 423.00 L177.40 423.00 L178.10 423.00 L178.80 423.00 L179.50 423.00 L180.20 423.00 L180.90 423.00 L181.60 423.00 L182.30 423.00 L183.00 423.00 L183.70 423.00 L184.40 423.00 L185.10 423.00 L185.80 423.00 L186.50 423.00 L187.20 423.00 L187.90 423.00 L188.60 423.00 L189.30 423.00 L190.00 423.00 L190.70 423.00 L191.40 423.00 L192.10 423.00 L192.80 423.00 L193.50 423.00 L194.20 423.00 L194.90 423.00 L195.60 423.00 L196.30 423.00 L197.00 423.00 L197.70 423.00 L198.40 423.00 L199.10 423.00 L199.80 423.00 L200.50 423.00 L201.20 423.00 L201.90 423.00 L202.60 423.00 L203.30 423.00 L204.00 423.00 L204.70 423.00 L205.40 423.00 L206.10 423.00 L206.80 423.00 L207.50 423.00 L208.20 423.00 L208.90 423.00 L209.60 423.01 L210.30 423.01 L211.00 423.01 L211.70 423.01 L212.40 423.01 L213.10 423.01 L213.80 423.01 L214.50 423.01 L215.20 423.01 L215.90 423.01 L216.60 423.01 L217.30 423.02 L218.00 423.02 L218.70 423.02 L219.40 423.02 L220.10 423.02 L220.80 423.02 L221.50 423.02 L222.20 423.03 L222.90 423.03 L223.60 423.03 L224.30 423.03 L225.00 423.03 L225.70 423.03 L226.40 423.04 L227.10 423.04 L227.80 423.04 L228.50 423.04 L229.20 423.04 L229.90 423.05 L230.60 423.05 L231.30 423.05 L232.00 423.05 L232.70 423.06 L233.40 423.06 L234.10 423.06 L234.80 423.06 L235.50 423.07 L236.20 423.07 L236.90 423.07 L237.60 423.07 L238.30 423.08 L239.00 423.08 L239.70 423.08 L240.40 423.08 L241.10 423.09 L241.80 423.09 L242.50 423.09 L243.20 423.10 L243.90 423.10 L244.60 423.10 L245.30 423.10 L246.00 423.11 L246.70 423.11 L247.40 423.11 L248.10 423.12 L248.80 423.12 L249.50 423.12 L250.20 423.13 L250.90 423.13 L251.60 423.13 L252.30 423.14 L253.00 423.14 L253.70 423.14 L254.40 423.15 L255.10 423.15 L255.80 423.15 L256.50 423.16 L257.20 423.16 L257.90 423.17 L258.60 423.17 L259.30 423.17 L260.00 423.18 L260.70 423.18 L261.40 423.18 L262.10 423.19 L262.80 423.19 L263.50 423.20 L264.20 423.20 L264.90 423.20 L265.60 423.21 L266.30 423.21 L267.00 423.22 L267.70 423.22 L268.40 423.23 L269.10 423.23 L269.80 423.23 L270.50 423.24 L271.20 423.24 L271.90 423.25 L272.60 423.25 L273.30 423.26 L274.00 423.26 L274.70 423.26 L275.40 423.27 L276.10 423.27 L276.80 423.28 L277.50 423.28 L278.20 423.29 L278.90 423.29 L279.60 423.30 L280.30 423.30 L281.00 423.31 L281.70 423.31 L282.40 423.32 L283.10 423.33 L283.80 423.33 L284.50 423.34 L285.20 423.35 L285.90 423.36 L286.60 423.37 L287.30 423.37 L288.00 423.38 L288.70 423.39 L289.40 423.40 L290.10 423.42 L290.80 423.43 L291.50 423.44 L292.20 423.45 L292.90 423.46 L293.60 423.48 L294.30 423.49 L295.00 423.50 L295.70 423.51 L296.40 423.53 L297.10 423.54 L297.80 423.56 L298.50 423.57 L299.20 423.59 L299.90 423.60 L300.60 423.62 L301.30 423.63 L302.00 423.65 L302.70 423.67 L303.40 423.68 L304.10 423.70 L304.80 423.71 L305.50 423.73 L306.20 423.75 L306.90 423.77 L307.60 423.78 L308.30 423.80 L309.00 423.82 L309.70 423.84 L310.40 423.86 L311.10 423.87 L311.80 423.89 L312.50 423.91 L313.20 423.93 L313.90 423.95 L314.60 423.97 L315.30 423.98 L316.00 424.00 L316.70 424.02 L317.40 424.04 L318.10 424.06 L318.80 424.08 L319.50 424.10 L320.20 424.12 L320.90 424.14 L321.60 424.15 L322.30 424.17 L323.00 424.19 L323.70 424.21 L324.40 424.23 L325.10 424.25 L325.80 424.27 L326.50 424.29 L327.20 424.31 L327.90 424.32 L328.60 424.34 L329.30 424.36 L330.00 424.38 L330.70 424.40 L331.40 424.42 L332.10 424.44 L332.80 424.46 L333.50 424.49 L334.20 424.51 L334.90 424.53 L335.60 424.55 L336.30 424.57 L337.00 424.60 L337.70 424.62 L338.40 424.64 L339.10 424.66 L339.80 424.69 L340.50 424.71 L341.20 424.73 L341.90 424.76 L342.60 424.78 L343.30 424.81 L344.00 424.83 L344.70 424.86 L345.40 424.88 L346.10 424.91 L346.80 424.93 L347.50 424.96 L348.20 424.98 L348.90 425.01 L349.60 425.03 L350.30 425.06 L351.00 425.08 L351.70 425.11 L352.40 425.14 L353.10 425.16 L353.80 425.19 L354.50 425.21 L355.20 425.24 L355.90 425.27 L356.60 425.29 L357.30 425.32 L358.00 425.35 L358.70 425.37 L359.40 425.40 L360.10 425.43 L360.80 425.45 L361.50 425.48 L362.20 425.50 L362.90 425.53 L363.60 425.56 L364.30 425.58 L365.00 425.61 L365.70 425.64 L366.40 425.66 L367.10 425.69 L367.80 425.71 L368.50 425.73 L369.20 425.76 L369.90 425.78 L370.60 425.81 L371.30 425.83 L372.00 425.85 L372.70 425.88 L373.40 425.90 L374.10 425.93 L374.80 425.96 L375.50 425.98 L376.20 426.01 L376.90 426.04 L377.60 426.08 L378.30 426.11 L379.00 426.15 L379.70 426.18 L380.40 426.22 L381.10 426.26 L381.80 426.31 L382.50 426.36 L383.20 426.41 L383.90 426.48 L384.60 426.55 L385.30 426.63 L386.00 426.71 L386.70 426.80 L387.40 426.89 L388.10 426.99 L388.80 427.09 L389.50 427.20 L390.20 427.31 L390.90 427.42 L391.60 427.53 L392.30 427.65 L393.00 427.76 L393.70 427.88 L394.40 428.00 L395.10 428.12 L395.80 428.23 L396.50 428.35 L397.20 428.46 L397.90 428.58 L398.60 428.69 L399.30 428.80 L400.00 428.90 L400.70 429.00 L401.40 429.11 L402.10 429.22 L402.80 429.33 L403.50 429.44 L404.20 429.56 L404.90 429.67 L405.60 429.78 L406.30 429.89 L407.00 430.00 L407.70 430.11 L408.40 430.22 L409.10 430.32 L409.80 430.42 L410.50 430.52 L411.20 430.61 L411.90 430.70 L412.60 430.78 L413.30 430.86 L414.00 430.93 L414.70 431.00 L415.40 431.07 L416.10 431.13 L416.80 431.19 L417.50 431.26 L418.20 431.32 L418.90 431.38 L419.60 431.45 L420.30 431.51 L421.00 431.58 L421.70 431.66 L422.40 431.74 L423.10 431.82 L423.80 431.91 L424.50 432.01 L425.20 432.12 L425.90 432.23 L426.60 432.35 L427.30 432.47 L428.00 432.60 L428.70 432.73 L429.40 432.87 L430.10 433.01 L430.80 433.16 L431.50 433.31 L432.20 433.46 L432.90 433.61 L433.60 433.76 L434.30 433.91 L435.00 434.07 L435.70 434.22 L436.40 434.39 L437.10 434.57 L437.80 434.77 L438.50 434.98 L439.20 435.20 L439.90 435.43 L440.60 435.65 L441.30 435.87 L442.00 436.09 L442.70 436.30 L443.40 436.49 L444.10 436.67 L444.80 436.83 L445.50 436.97 L446.20 437.08 L446.90 437.16 L447.60 437.21 L448.30 437.25 L449.00 437.27 L449.70 437.29 L450.40 437.31 L451.10 437.32 L451.80 437.34 L452.50 437.35 L453.20 437.37 L453.90 437.40 L454.60 437.43 L455.30 437.47 L456.00 437.56 L456.70 437.96 L457.40 438.62 L458.10 439.41 L458.80 440.20 L459.50 440.88 L460.20 441.52 L460.90 442.17 L461.60 442.83 L462.30 443.48 L463.00 444.13 L463.70 444.78 L464.40 445.40 L465.10 446.01 L465.80 446.61 L466.50 447.19 L467.20 447.76 L467.90 448.32 L468.60 448.88 L469.30 449.43 L470.00 449.97 L470.70 450.50 L471.40 451.02 L472.10 451.54 L472.80 452.03 L473.50 452.53 L474.20 453.01 L474.90 453.50 L475.60 453.99 L476.30 454.49 L477.00 455.00 L477.70 455.51 L478.40 456.02 L479.10 456.55 L479.80 457.12 L480.50 457.76 L481.20 458.46 L481.90 459.21 L482.60 460.00 L483.30 460.82 L484.00 461.65 L484.70 462.49 L485.40 463.32 L486.10 464.13 L486.80 464.93 L487.50 465.73 L488.20 466.54 L488.90 467.35 L489.60 468.17 L490.30 469.01 L491.00 469.86 L491.70 470.74 L492.40 471.67 L493.10 472.69 L493.80 473.77 L494.50 474.87 L495.20 475.97 L495.90 477.01 L496.60 477.96 L497.30 478.80 L498.00 479.48 L498.70 480.00 L499.40 480.46 L500.10 480.98 L500.80 481.55 L501.50 482.15 L502.20 482.77 L502.90 483.41 L503.60 484.07 L504.30 484.77 L505.00 485.48 L505.70 486.24 L506.40 487.06 L507.10 487.93 L507.80 488.82 L508.50 489.70 L509.20 490.57 L509.90 491.47 L510.60 492.40 L511.30 493.31 L512.00 494.18 L512.70 494.99 L513.40 495.70 L514.10 496.41 L514.80 497.14 L515.50 497.84 L516.20 498.44 L516.90 498.87 L517.60 499.09 L518.30 499.05 L519.00 498.86 L519.70 498.59 L520.40 498.35 L521.10 498.21 L521.80 498.32 L522.50 498.83 L523.20 499.67 L523.90 500.74 L524.60 502.73 L525.30 505.95 L526.00 508.65 L526.70 510.72 L527.40 512.70 L528.10 514.86 L528.80 517.11 L529.50 519.33 L530.20 521.50 L530.90 523.66 L531.60 525.79 L532.30 527.91 L533.00 530.10 L533.70 532.29 L534.40 534.38 L535.10 536.27 L535.80 537.91 L536.50 539.41 L537.20 540.81 L537.90 542.12 L538.60 543.36 L539.30 544.56 L540.00 545.73 L540.70 546.90 L541.40 548.06 L542.10 549.19 L542.80 550.27 L543.50 551.28 L544.20 552.19 L544.90 553.00 L545.60 553.70 L546.30 554.32 L547.00 554.89 L547.70 555.41 L548.40 555.92 L549.10 556.44 L549.80 556.97 L550.50 557.54 L551.20 558.16 L551.90 558.78 L552.60 559.41 L553.30 560.07 L554.00 560.75 L554.70 561.48 L555.40 562.26 L556.10 563.14 L556.80 564.17 L557.50 565.29 L558.20 566.45 L558.90 567.59 L559.60 568.66 L560.30 569.60 L561.00 570.42 L561.70 571.19 L562.40 571.92 L563.10 572.61 L563.80 573.28 L564.50 573.93 L565.20 574.59 L565.90 575.26 L566.60 575.94 L567.30 576.60 L568.00 577.22 L568.70 577.79 L569.40 578.27 L570.10 578.66 L570.80 579.04 L571.50 579.40 L572.20 579.73 L572.90 580.01 L573.60 580.20 L574.30 580.29 L575.00 580.29 L575.70 580.26 L576.40 580.20 L577.10 580.11 L577.80 580.01 L578.50 579.88 L579.20 579.72 L579.90 579.41 L580.60 578.77 L581.30 577.89 L582.00 576.85 L582.70 575.76 L583.40 574.55 L584.10 573.06 L584.80 571.38 L585.50 569.60 L586.20 567.80 L586.90 566.02 L587.60 564.15 L588.30 562.21 L589.00 560.26 L589.70 558.34 L590.40 556.49 L591.10 554.72 L591.80 552.95 L592.50 551.13 L593.20 549.19 L593.90 547.07 L594.60 544.79 L595.30 542.31 L596.00 539.60 L596.70 536.61 L597.40 533.36 L598.10 529.86 L598.80 526.11 L599.50 521.96 L600.20 517.11 L600.90 511.93 L601.60 506.84 L602.30 502.25 L603.00 498.49 L603.70 495.25 L604.40 492.32 L605.10 489.55 L605.80 486.81 L606.50 483.98 L607.20 481.16 L607.90 478.39 L608.60 475.64 L609.30 472.93 L610.00 470.23 L610.70 467.51 L611.40 464.79 L612.10 462.13 L612.80 459.60 L613.50 457.25 L614.20 455.05 L614.90 452.97 L615.60 450.96 L616.30 448.99 L617.00 447.02 L617.70 445.02 L618.40 443.02 L619.10 441.08 L619.80 439.24 L620.50 437.57 L621.20 436.01 L621.90 434.51 L622.60 433.11 L623.30 431.84 L624.00 430.70 L624.70 429.69 L625.40 428.79 L626.10 428.00 L626.80 427.31 L627.50 426.61 L628.20 425.96 L628.90 425.43 L629.60 425.08 L630.30 424.97 L631.00 424.91 L631.70 424.86 L632.40 424.80 L633.10 424.74 L633.80 424.69 L634.50 424.64 L635.20 424.59 L635.90 424.54 L636.60 424.49 L637.30 424.44 L638.00 424.40 L638.70 424.35 L639.40 424.31 L640.10 424.27 L640.80 424.23 L641.50 424.19 L642.20 424.16 L642.90 424.12 L643.60 424.09 L644.30 424.05 L645.00 424.02 L645.70 423.99 L646.40 423.96 L647.10 423.93 L647.80 423.91 L648.50 423.88 L649.20 423.86 L649.90 423.83 L650.60 423.81 L651.30 423.79 L652.00 423.77 L652.70 423.75 L653.40 423.73 L654.10 423.71 L654.80 423.69 L655.50 423.68 L656.20 423.66 L656.90 423.65 L657.60 423.63 L658.30 423.62 L659.00 423.61 L659.70 423.60 L660.40 423.59 L661.10 423.58 L661.80 423.57 L662.50 423.56 L663.20 423.55 L663.90 423.54 L664.60 423.54 L665.30 423.53 L666.00 423.53 L666.70 423.52 L667.40 423.52 L668.10 423.51 L668.80 423.51 L669.50 423.51 L670.20 423.51 L670.90 423.50 L671.60 423.50 L672.30 423.50 L673.00 423.50 L673.70 423.50 L674.00 423.50" fill="none" stroke="#FF0000" stroke-width="2.6" stroke-linejoin="round"/>
<path d="M113.00 423.80 L113.70 423.80 L114.40 423.80 L115.10 423.80 L115.80 423.80 L116.50 423.80 L117.20 423.80 L117.90 423.80 L118.60 423.80 L119.30 423.80 L120.00 423.80 L120.70 423.80 L121.40 423.80 L122.10 423.80 L122.80 423.80 L123.50 423.80 L124.20 423.80 L124.90 423.80 L125.60 423.80 L126.30 423.80 L127.00 423.80 L127.70 423.80 L128.40 423.80 L129.10 423.80 L129.80 423.80 L130.50 423.80 L131.20 423.80 L131.90 423.80 L132.60 423.80 L133.30 423.80 L134.00 423.80 L134.70 423.80 L135.40 423.80 L136.10 423.80 L136.80 423.80 L137.50 423.80 L138.20 423.80 L138.90 423.80 L139.60 423.80 L140.30 423.80 L141.00 423.80 L141.70 423.80 L142.40 423.80 L143.10 423.80 L143.80 423.80 L144.50 423.80 L145.20 423.80 L145.90 423.80 L146.60 423.80 L147.30 423.80 L148.00 423.80 L148.70 423.80 L149.40 423.80 L150.10 423.80 L150.80 423.80 L151.50 423.80 L152.20 423.80 L152.90 423.80 L153.60 423.80 L154.30 423.80 L155.00 423.80 L155.70 423.80 L156.40 423.80 L157.10 423.80 L157.80 423.80 L158.50 423.80 L159.20 423.80 L159.90 423.80 L160.60 423.80 L161.30 423.80 L162.00 423.80 L162.70 423.80 L163.40 423.80 L164.10 423.80 L164.80 423.80 L165.50 423.80 L166.20 423.80 L166.90 423.80 L167.60 423.80 L168.30 423.80 L169.00 423.80 L169.70 423.80 L170.40 423.80 L171.10 423.80 L171.80 423.80 L172.50 423.80 L173.20 423.80 L173.90 423.80 L174.60 423.80 L175.30 423.80 L176.00 423.80 L176.70 423.80 L177.40 423.80 L178.10 423.80 L178.80 423.80 L179.50 423.80 L180.20 423.80 L180.90 423.80 L181.60 423.80 L182.30 423.80 L183.00 423.80 L183.70 423.80 L184.40 423.80 L185.10 423.80 L185.80 423.80 L186.50 423.80 L187.20 423.80 L187.90 423.80 L188.60 423.80 L189.30 423.80 L190.00 423.80 L190.70 423.80 L191.40 423.80 L192.10 423.80 L192.80 423.80 L193.50 423.80 L194.20 423.80 L194.90 423.80 L195.60 423.80 L196.30 423.80 L197.00 423.80 L197.70 423.80 L198.40 423.80 L199.10 423.80 L199.80 423.80 L200.50 423.80 L201.20 423.80 L201.90 423.80 L202.60 423.80 L203.30 423.80 L204.00 423.80 L204.70 423.80 L205.40 423.80 L206.10 423.80 L206.80 423.80 L207.50 423.81 L208.20 423.81 L208.90 423.81 L209.60 423.81 L210.30 423.81 L211.00 423.81 L211.70 423.81 L212.40 423.81 L213.10 423.82 L213.80 423.82 L214.50 423.82 L215.20 423.82 L215.90 423.82 L216.60 423.83 L217.30 423.83 L218.00 423.83 L218.70 423.83 L219.40 423.84 L220.10 423.84 L220.80 423.84 L221.50 423.84 L222.20 423.85 L222.90 423.85 L223.60 423.85 L224.30 423.86 L225.00 423.86 L225.70 423.86 L226.40 423.87 L227.10 423.87 L227.80 423.87 L228.50 423.88 L229.20 423.88 L229.90 423.88 L230.60 423.89 L231.30 423.89 L232.00 423.90 L232.70 423.90 L233.40 423.90 L234.10 423.91 L234.80 423.91 L235.50 423.92 L236.20 423.92 L236.90 423.93 L237.60 423.93 L238.30 423.93 L239.00 423.94 L239.70 423.94 L240.40 423.95 L241.10 423.95 L241.80 423.96 L242.50 423.96 L243.20 423.97 L243.90 423.97 L244.60 423.98 L245.30 423.99 L246.00 423.99 L246.70 424.00 L247.40 424.00 L248.10 424.01 L248.80 424.01 L249.50 424.02 L250.20 424.03 L250.90 424.03 L251.60 424.04 L252.30 424.04 L253.00 424.05 L253.70 424.06 L254.40 424.06 L255.10 424.07 L255.80 424.08 L256.50 424.08 L257.20 424.09 L257.90 424.10 L258.60 424.10 L259.30 424.11 L260.00 424.12 L260.70 424.12 L261.40 424.13 L262.10 424.14 L262.80 424.14 L263.50 424.15 L264.20 424.16 L264.90 424.17 L265.60 424.17 L266.30 424.18 L267.00 424.19 L267.70 424.20 L268.40 424.20 L269.10 424.21 L269.80 424.22 L270.50 424.23 L271.20 424.23 L271.90 424.24 L272.60 424.25 L273.30 424.26 L274.00 424.27 L274.70 424.27 L275.40 424.28 L276.10 424.29 L276.80 424.30 L277.50 424.31 L278.20 424.31 L278.90 424.32 L279.60 424.33 L280.30 424.34 L281.00 424.35 L281.70 424.36 L282.40 424.37 L283.10 424.37 L283.80 424.38 L284.50 424.39 L285.20 424.40 L285.90 424.41 L286.60 424.42 L287.30 424.43 L288.00 424.44 L288.70 424.45 L289.40 424.46 L290.10 424.46 L290.80 424.47 L291.50 424.48 L292.20 424.49 L292.90 424.50 L293.60 424.51 L294.30 424.52 L295.00 424.53 L295.70 424.54 L296.40 424.55 L297.10 424.56 L297.80 424.57 L298.50 424.58 L299.20 424.59 L299.90 424.60 L300.60 424.61 L301.30 424.62 L302.00 424.63 L302.70 424.65 L303.40 424.66 L304.10 424.68 L304.80 424.69 L305.50 424.71 L306.20 424.73 L306.90 424.74 L307.60 424.76 L308.30 424.78 L309.00 424.80 L309.70 424.83 L310.40 424.85 L311.10 424.87 L311.80 424.89 L312.50 424.92 L313.20 424.94 L313.90 424.97 L314.60 424.99 L315.30 425.02 L316.00 425.04 L316.70 425.07 L317.40 425.10 L318.10 425.12 L318.80 425.15 L319.50 425.18 L320.20 425.21 L320.90 425.23 L321.60 425.26 L322.30 425.29 L323.00 425.32 L323.70 425.35 L324.40 425.37 L325.10 425.40 L325.80 425.43 L326.50 425.46 L327.20 425.49 L327.90 425.52 L328.60 425.54 L329.30 425.57 L330.00 425.60 L330.70 425.62 L331.40 425.65 L332.10 425.68 L332.80 425.70 L333.50 425.73 L334.20 425.76 L334.90 425.78 L335.60 425.80 L336.30 425.83 L337.00 425.85 L337.70 425.87 L338.40 425.90 L339.10 425.92 L339.80 425.94 L340.50 425.96 L341.20 425.98 L341.90 426.00 L342.60 426.02 L343.30 426.03 L344.00 426.05 L344.70 426.07 L345.40 426.08 L346.10 426.10 L346.80 426.11 L347.50 426.13 L348.20 426.15 L348.90 426.16 L349.60 426.18 L350.30 426.19 L351.00 426.20 L351.70 426.22 L352.40 426.23 L353.10 426.25 L353.80 426.26 L354.50 426.28 L355.20 426.29 L355.90 426.30 L356.60 426.32 L357.30 426.33 L358.00 426.35 L358.70 426.36 L359.40 426.38 L360.10 426.39 L360.80 426.41 L361.50 426.42 L362.20 426.44 L362.90 426.46 L363.60 426.47 L364.30 426.49 L365.00 426.51 L365.70 426.52 L366.40 426.54 L367.10 426.56 L367.80 426.57 L368.50 426.59 L369.20 426.60 L369.90 426.62 L370.60 426.64 L371.30 426.65 L372.00 426.67 L372.70 426.69 L373.40 426.70 L374.10 426.72 L374.80 426.74 L375.50 426.76 L376.20 426.78 L376.90 426.81 L377.60 426.83 L378.30 426.85 L379.00 426.88 L379.70 426.91 L380.40 426.94 L381.10 426.97 L381.80 427.01 L382.50 427.05 L383.20 427.11 L383.90 427.17 L384.60 427.25 L385.30 427.34 L386.00 427.44 L386.70 427.55 L387.40 427.67 L388.10 427.79 L388.80 427.92 L389.50 428.05 L390.20 428.19 L390.90 428.33 L391.60 428.47 L392.30 428.61 L393.00 428.75 L393.70 428.90 L394.40 429.04 L395.10 429.18 L395.80 429.31 L396.50 429.44 L397.20 429.57 L397.90 429.69 L398.60 429.80 L399.30 429.90 L400.00 430.00 L400.70 430.09 L401.40 430.17 L402.10 430.26 L402.80 430.33 L403.50 430.41 L404.20 430.48 L404.90 430.55 L405.60 430.62 L406.30 430.69 L407.00 430.75 L407.70 430.81 L408.40 430.88 L409.10 430.94 L409.80 431.00 L410.50 431.06 L411.20 431.12 L411.90 431.18 L412.60 431.24 L413.30 431.31 L414.00 431.37 L414.70 431.43 L415.40 431.50 L416.10 431.57 L416.80 431.64 L417.50 431.71 L418.20 431.79 L418.90 431.86 L419.60 431.95 L420.30 432.03 L421.00 432.12 L421.70 432.21 L422.40 432.31 L423.10 432.41 L423.80 432.52 L424.50 432.63 L425.20 432.75 L425.90 432.89 L426.60 433.03 L427.30 433.18 L428.00 433.33 L428.70 433.50 L429.40 433.67 L430.10 433.85 L430.80 434.03 L431.50 434.22 L432.20 434.41 L432.90 434.61 L433.60 434.81 L434.30 435.01 L435.00 435.22 L435.70 435.43 L436.40 435.65 L437.10 435.88 L437.80 436.12 L438.50 436.37 L439.20 436.63 L439.90 436.90 L440.60 437.18 L441.30 437.46 L442.00 437.75 L442.70 438.04 L443.40 438.33 L444.10 438.62 L444.80 438.92 L445.50 439.21 L446.20 439.50 L446.90 439.79 L447.60 440.08 L448.30 440.36 L449.00 440.64 L449.70 440.92 L450.40 441.21 L451.10 441.50 L451.80 441.80 L452.50 442.12 L453.20 442.45 L453.90 442.81 L454.60 443.18 L455.30 443.57 L456.00 443.98 L456.70 444.40 L457.40 444.84 L458.10 445.30 L458.80 445.76 L459.50 446.24 L460.20 446.74 L460.90 447.28 L461.60 447.83 L462.30 448.40 L463.00 448.98 L463.70 449.57 L464.40 450.15 L465.10 450.72 L465.80 451.29 L466.50 451.87 L467.20 452.46 L467.90 453.05 L468.60 453.63 L469.30 454.21 L470.00 454.76 L470.70 455.30 L471.40 455.81 L472.10 456.28 L472.80 456.72 L473.50 457.14 L474.20 457.56 L474.90 457.99 L475.60 458.45 L476.30 458.95 L477.00 459.50 L477.70 460.15 L478.40 460.88 L479.10 461.67 L479.80 462.47 L480.50 463.27 L481.20 464.09 L481.90 464.92 L482.60 465.77 L483.30 466.63 L484.00 467.49 L484.70 468.35 L485.40 469.20 L486.10 470.04 L486.80 470.86 L487.50 471.67 L488.20 472.47 L488.90 473.28 L489.60 474.09 L490.30 474.92 L491.00 475.77 L491.70 476.64 L492.40 477.56 L493.10 478.52 L493.80 479.51 L494.50 480.53 L495.20 481.55 L495.90 482.57 L496.60 483.57 L497.30 484.54 L498.00 485.46 L498.70 486.33 L499.40 487.16 L500.10 487.98 L500.80 488.78 L501.50 489.59 L502.20 490.42 L502.90 491.27 L503.60 492.17 L504.30 493.12 L505.00 494.12 L505.70 495.17 L506.40 496.23 L507.10 497.30 L507.80 498.37 L508.50 499.42 L509.20 500.44 L509.90 501.47 L510.60 502.51 L511.30 503.54 L512.00 504.53 L512.70 505.46 L513.40 506.32 L514.10 507.07 L514.80 507.76 L515.50 508.40 L516.20 509.05 L516.90 509.73 L517.60 510.47 L518.30 511.31 L519.00 512.22 L519.70 513.20 L520.40 514.21 L521.10 515.26 L521.80 516.30 L522.50 517.35 L523.20 518.41 L523.90 519.51 L524.60 520.61 L525.30 521.73 L526.00 522.85 L526.70 523.97 L527.40 525.07 L528.10 526.15 L528.80 527.21 L529.50 528.26 L530.20 529.30 L530.90 530.33 L531.60 531.37 L532.30 532.43 L533.00 533.50 L533.70 534.66 L534.40 535.92 L535.10 537.21 L535.80 538.46 L536.50 539.60 L537.20 540.57 L537.90 541.29 L538.60 541.85 L539.30 542.33 L540.00 542.75 L540.70 543.13 L541.40 543.49 L542.10 543.83 L542.80 544.19 L543.50 544.58 L544.20 545.00 L544.90 545.44 L545.60 545.88 L546.30 546.32 L547.00 546.76 L547.70 547.19 L548.40 547.61 L549.10 548.02 L549.80 548.41 L550.50 548.78 L551.20 549.14 L551.90 549.50 L552.60 549.84 L553.30 550.18 L554.00 550.52 L554.70 550.86 L555.40 551.20 L556.10 551.55 L556.80 551.90 L557.50 552.26 L558.20 552.61 L558.90 552.96 L559.60 553.31 L560.30 553.65 L561.00 553.97 L561.70 554.29 L562.40 554.59 L563.10 554.88 L563.80 555.17 L564.50 555.45 L565.20 555.72 L565.90 556.00 L566.60 556.28 L567.30 556.56 L568.00 556.84 L568.70 557.13 L569.40 557.42 L570.10 557.71 L570.80 557.99 L571.50 558.28 L572.20 558.56 L572.90 558.84 L573.60 559.12 L574.30 559.44 L575.00 559.79 L575.70 560.15 L576.40 560.49 L577.10 560.80 L577.80 561.05 L578.50 561.22 L579.20 561.30 L579.90 561.29 L580.60 561.25 L581.30 561.18 L582.00 561.08 L582.70 560.97 L583.40 560.83 L584.10 560.67 L584.80 560.36 L585.50 559.86 L586.20 559.23 L586.90 558.52 L587.60 557.80 L588.30 557.03 L589.00 556.14 L589.70 555.16 L590.40 554.11 L591.10 553.00 L591.80 551.81 L592.50 550.52 L593.20 549.13 L593.90 547.66 L594.60 546.12 L595.30 544.53 L596.00 542.81 L596.70 540.90 L597.40 538.66 L598.10 535.92 L598.80 532.93 L599.50 529.96 L600.20 527.26 L600.90 524.74 L601.60 522.29 L602.30 519.90 L603.00 517.56 L603.70 515.25 L604.40 512.98 L605.10 510.79 L605.80 508.69 L606.50 506.61 L607.20 504.51 L607.90 502.33 L608.60 500.00 L609.30 497.49 L610.00 494.84 L610.70 492.08 L611.40 489.25 L612.10 486.40 L612.80 483.46 L613.50 480.40 L614.20 477.32 L614.90 474.28 L615.60 471.40 L616.30 468.65 L617.00 465.95 L617.70 463.34 L618.40 460.86 L619.10 458.53 L619.80 456.36 L620.50 454.28 L621.20 452.31 L621.90 450.49 L622.60 448.84 L623.30 447.35 L624.00 445.97 L624.70 444.67 L625.40 443.45 L626.10 442.30 L626.80 441.24 L627.50 440.24 L628.20 439.30 L628.90 438.41 L629.60 437.58 L630.30 436.79 L631.00 436.05 L631.70 435.36 L632.40 434.71 L633.10 434.12 L633.80 433.57 L634.50 433.05 L635.20 432.56 L635.90 432.07 L636.60 431.59 L637.30 431.07 L638.00 430.50 L638.70 429.92 L639.40 429.38 L640.10 428.94 L640.80 428.67 L641.50 428.49 L642.20 428.32 L642.90 428.16 L643.60 428.03 L644.30 427.90 L645.00 427.79 L645.70 427.69 L646.40 427.59 L647.10 427.51 L647.80 427.43 L648.50 427.35 L649.20 427.28 L649.90 427.21 L650.60 427.14 L651.30 427.07 L652.00 427.00 L652.70 426.93 L653.40 426.86 L654.10 426.79 L654.80 426.72 L655.50 426.65 L656.20 426.59 L656.90 426.52 L657.60 426.46 L658.30 426.39 L659.00 426.33 L659.70 426.27 L660.40 426.21 L661.10 426.15 L661.80 426.09 L662.50 426.04 L663.20 425.99 L663.90 425.94 L664.60 425.89 L665.30 425.84 L666.00 425.80 L666.70 425.76 L667.40 425.72 L668.10 425.68 L668.80 425.65 L669.50 425.62 L670.20 425.59 L670.90 425.57 L671.60 425.55 L672.30 425.53 L673.00 425.51 L673.70 425.50 L674.00 425.50" fill="none" stroke="#ED7D31" stroke-width="2.6" stroke-linejoin="round"/>
<path d="M113.00 425.50 L113.70 425.50 L114.40 425.50 L115.10 425.50 L115.80 425.50 L116.50 425.50 L117.20 425.50 L117.90 425.51 L118.60 425.51 L119.30 425.51 L120.00 425.51 L120.70 425.52 L121.40 425.52 L122.10 425.52 L122.80 425.53 L123.50 425.53 L124.20 425.53 L124.90 425.54 L125.60 425.54 L126.30 425.55 L127.00 425.55 L127.70 425.56 L128.40 425.56 L129.10 425.57 L129.80 425.57 L130.50 425.58 L131.20 425.59 L131.90 425.59 L132.60 425.60 L133.30 425.61 L134.00 425.61 L134.70 425.62 L135.40 425.63 L136.10 425.64 L136.80 425.64 L137.50 425.65 L138.20 425.66 L138.90 425.67 L139.60 425.68 L140.30 425.69 L141.00 425.70 L141.70 425.71 L142.40 425.71 L143.10 425.72 L143.80 425.73 L144.50 425.74 L145.20 425.76 L145.90 425.77 L146.60 425.78 L147.30 425.79 L148.00 425.80 L148.70 425.81 L149.40 425.82 L150.10 425.83 L150.80 425.84 L151.50 425.86 L152.20 425.87 L152.90 425.88 L153.60 425.89 L154.30 425.91 L155.00 425.92 L155.70 425.93 L156.40 425.95 L157.10 425.96 L157.80 425.97 L158.50 425.99 L159.20 426.00 L159.90 426.01 L160.60 426.03 L161.30 426.04 L162.00 426.06 L162.70 426.07 L163.40 426.08 L164.10 426.10 L164.80 426.11 L165.50 426.13 L166.20 426.14 L166.90 426.16 L167.60 426.18 L168.30 426.19 L169.00 426.21 L169.70 426.22 L170.40 426.24 L171.10 426.25 L171.80 426.27 L172.50 426.29 L173.20 426.30 L173.90 426.32 L174.60 426.34 L175.30 426.35 L176.00 426.37 L176.70 426.39 L177.40 426.40 L178.10 426.42 L178.80 426.44 L179.50 426.46 L180.20 426.47 L180.90 426.49 L181.60 426.51 L182.30 426.53 L183.00 426.54 L183.70 426.56 L184.40 426.58 L185.10 426.60 L185.80 426.62 L186.50 426.63 L187.20 426.65 L187.90 426.67 L188.60 426.69 L189.30 426.71 L190.00 426.73 L190.70 426.75 L191.40 426.76 L192.10 426.78 L192.80 426.80 L193.50 426.82 L194.20 426.84 L194.90 426.86 L195.60 426.88 L196.30 426.90 L197.00 426.92 L197.70 426.94 L198.40 426.96 L199.10 426.97 L199.80 426.99 L200.50 427.01 L201.20 427.04 L201.90 427.06 L202.60 427.09 L203.30 427.12 L204.00 427.16 L204.70 427.19 L205.40 427.23 L206.10 427.27 L206.80 427.31 L207.50 427.35 L208.20 427.40 L208.90 427.44 L209.60 427.49 L210.30 427.53 L211.00 427.58 L211.70 427.63 L212.40 427.68 L213.10 427.72 L213.80 427.77 L214.50 427.82 L215.20 427.87 L215.90 427.92 L216.60 427.96 L217.30 428.01 L218.00 428.05 L218.70 428.10 L219.40 428.14 L220.10 428.18 L220.80 428.22 L221.50 428.26 L222.20 428.29 L222.90 428.32 L223.60 428.35 L224.30 428.38 L225.00 428.41 L225.70 428.43 L226.40 428.45 L227.10 428.47 L227.80 428.48 L228.50 428.49 L229.20 428.50 L229.90 428.50 L230.60 428.50 L231.30 428.49 L232.00 428.48 L232.70 428.47 L233.40 428.45 L234.10 428.43 L234.80 428.41 L235.50 428.38 L236.20 428.36 L236.90 428.32 L237.60 428.29 L238.30 428.25 L239.00 428.21 L239.70 428.17 L240.40 428.13 L241.10 428.09 L241.80 428.04 L242.50 428.00 L243.20 427.95 L243.90 427.90 L244.60 427.86 L245.30 427.81 L246.00 427.76 L246.70 427.71 L247.40 427.66 L248.10 427.61 L248.80 427.56 L249.50 427.51 L250.20 427.47 L250.90 427.42 L251.60 427.38 L252.30 427.33 L253.00 427.29 L253.70 427.25 L254.40 427.21 L255.10 427.18 L255.80 427.14 L256.50 427.11 L257.20 427.08 L257.90 427.06 L258.60 427.04 L259.30 427.02 L260.00 427.00 L260.70 426.99 L261.40 426.97 L262.10 426.96 L262.80 426.94 L263.50 426.93 L264.20 426.92 L264.90 426.90 L265.60 426.89 L266.30 426.87 L267.00 426.86 L267.70 426.85 L268.40 426.84 L269.10 426.82 L269.80 426.81 L270.50 426.80 L271.20 426.78 L271.90 426.77 L272.60 426.76 L273.30 426.75 L274.00 426.74 L274.70 426.73 L275.40 426.71 L276.10 426.70 L276.80 426.69 L277.50 426.68 L278.20 426.67 L278.90 426.66 L279.60 426.65 L280.30 426.64 L281.00 426.63 L281.70 426.62 L282.40 426.62 L283.10 426.61 L283.80 426.60 L284.50 426.59 L285.20 426.58 L285.90 426.58 L286.60 426.57 L287.30 426.56 L288.00 426.56 L288.70 426.55 L289.40 426.54 L290.10 426.54 L290.80 426.53 L291.50 426.53 L292.20 426.52 L292.90 426.52 L293.60 426.52 L294.30 426.51 L295.00 426.51 L295.70 426.51 L296.40 426.51 L297.10 426.50 L297.80 426.50 L298.50 426.50 L299.20 426.50 L299.90 426.50 L300.60 426.50 L301.30 426.50 L302.00 426.50 L302.70 426.50 L303.40 426.51 L304.10 426.51 L304.80 426.51 L305.50 426.52 L306.20 426.52 L306.90 426.53 L307.60 426.53 L308.30 426.54 L309.00 426.54 L309.70 426.55 L310.40 426.56 L311.10 426.56 L311.80 426.57 L312.50 426.58 L313.20 426.59 L313.90 426.60 L314.60 426.61 L315.30 426.62 L316.00 426.63 L316.70 426.64 L317.40 426.65 L318.10 426.66 L318.80 426.68 L319.50 426.69 L320.20 426.70 L320.90 426.71 L321.60 426.73 L322.30 426.74 L323.00 426.76 L323.70 426.77 L324.40 426.78 L325.10 426.80 L325.80 426.82 L326.50 426.83 L327.20 426.85 L327.90 426.86 L328.60 426.88 L329.30 426.90 L330.00 426.92 L330.70 426.93 L331.40 426.95 L332.10 426.97 L332.80 426.99 L333.50 427.01 L334.20 427.02 L334.90 427.04 L335.60 427.06 L336.30 427.08 L337.00 427.10 L337.70 427.12 L338.40 427.14 L339.10 427.16 L339.80 427.18 L340.50 427.20 L341.20 427.22 L341.90 427.25 L342.60 427.27 L343.30 427.29 L344.00 427.31 L344.70 427.33 L345.40 427.35 L346.10 427.38 L346.80 427.40 L347.50 427.42 L348.20 427.44 L348.90 427.46 L349.60 427.49 L350.30 427.51 L351.00 427.53 L351.70 427.56 L352.40 427.59 L353.10 427.62 L353.80 427.65 L354.50 427.68 L355.20 427.71 L355.90 427.75 L356.60 427.78 L357.30 427.82 L358.00 427.86 L358.70 427.90 L359.40 427.94 L360.10 427.99 L360.80 428.03 L361.50 428.08 L362.20 428.12 L362.90 428.17 L363.60 428.22 L364.30 428.27 L365.00 428.32 L365.70 428.37 L366.40 428.42 L367.10 428.48 L367.80 428.53 L368.50 428.58 L369.20 428.64 L369.90 428.70 L370.60 428.75 L371.30 428.81 L372.00 428.87 L372.70 428.93 L373.40 428.99 L374.10 429.04 L374.80 429.10 L375.50 429.16 L376.20 429.23 L376.90 429.29 L377.60 429.35 L378.30 429.41 L379.00 429.47 L379.70 429.53 L380.40 429.59 L381.10 429.66 L381.80 429.72 L382.50 429.78 L383.20 429.84 L383.90 429.90 L384.60 429.96 L385.30 430.03 L386.00 430.09 L386.70 430.15 L387.40 430.21 L388.10 430.26 L388.80 430.32 L389.50 430.38 L390.20 430.44 L390.90 430.49 L391.60 430.55 L392.30 430.61 L393.00 430.67 L393.70 430.73 L394.40 430.79 L395.10 430.85 L395.80 430.91 L396.50 430.98 L397.20 431.04 L397.90 431.11 L398.60 431.17 L399.30 431.24 L400.00 431.32 L400.70 431.39 L401.40 431.47 L402.10 431.55 L402.80 431.63 L403.50 431.71 L404.20 431.80 L404.90 431.89 L405.60 431.98 L406.30 432.08 L407.00 432.18 L407.70 432.29 L408.40 432.39 L409.10 432.51 L409.80 432.62 L410.50 432.74 L411.20 432.87 L411.90 433.00 L412.60 433.15 L413.30 433.32 L414.00 433.51 L414.70 433.72 L415.40 433.96 L416.10 434.21 L416.80 434.49 L417.50 434.77 L418.20 435.08 L418.90 435.39 L419.60 435.72 L420.30 436.06 L421.00 436.41 L421.70 436.76 L422.40 437.12 L423.10 437.48 L423.80 437.85 L424.50 438.24 L425.20 438.66 L425.90 439.10 L426.60 439.56 L427.30 440.05 L428.00 440.55 L428.70 441.07 L429.40 441.61 L430.10 442.16 L430.80 442.72 L431.50 443.29 L432.20 443.87 L432.90 444.45 L433.60 445.04 L434.30 445.62 L435.00 446.20 L435.70 446.78 L436.40 447.37 L437.10 447.97 L437.80 448.59 L438.50 449.22 L439.20 449.85 L439.90 450.50 L440.60 451.15 L441.30 451.81 L442.00 452.48 L442.70 453.16 L443.40 453.85 L444.10 454.55 L444.80 455.26 L445.50 455.97 L446.20 456.68 L446.90 457.39 L447.60 458.10 L448.30 458.81 L449.00 459.53 L449.70 460.24 L450.40 460.96 L451.10 461.67 L451.80 462.39 L452.50 463.10 L453.20 463.80 L453.90 464.50 L454.60 465.19 L455.30 465.88 L456.00 466.56 L456.70 467.25 L457.40 467.93 L458.10 468.62 L458.80 469.31 L459.50 470.00 L460.20 470.68 L460.90 471.36 L461.60 472.04 L462.30 472.72 L463.00 473.42 L463.70 474.12 L464.40 474.84 L465.10 475.59 L465.80 476.37 L466.50 477.18 L467.20 478.01 L467.90 478.86 L468.60 479.72 L469.30 480.59 L470.00 481.46 L470.70 482.32 L471.40 483.16 L472.10 483.98 L472.80 484.79 L473.50 485.59 L474.20 486.40 L474.90 487.23 L475.60 488.08 L476.30 488.97 L477.00 489.90 L477.70 490.89 L478.40 491.94 L479.10 493.04 L479.80 494.18 L480.50 495.34 L481.20 496.51 L481.90 497.68 L482.60 498.85 L483.30 500.00 L484.00 501.14 L484.70 502.27 L485.40 503.42 L486.10 504.57 L486.80 505.73 L487.50 506.92 L488.20 508.12 L488.90 509.33 L489.60 510.54 L490.30 511.73 L491.00 512.89 L491.70 514.00 L492.40 515.12 L493.10 516.25 L493.80 517.45 L494.50 518.72 L495.20 520.08 L495.90 521.48 L496.60 522.90 L497.30 524.30 L498.00 525.69 L498.70 527.09 L499.40 528.53 L500.10 530.05 L500.80 531.71 L501.50 533.39 L502.20 534.91 L502.90 536.28 L503.60 537.56 L504.30 538.85 L505.00 540.20 L505.70 541.66 L506.40 543.18 L507.10 544.74 L507.80 546.31 L508.50 547.88 L509.20 549.42 L509.90 550.91 L510.60 552.34 L511.30 553.74 L512.00 555.11 L512.70 556.48 L513.40 557.87 L514.10 559.28 L514.80 560.73 L515.50 562.23 L516.20 563.77 L516.90 565.33 L517.60 566.88 L518.30 568.40 L519.00 569.88 L519.70 571.31 L520.40 572.70 L521.10 574.06 L521.80 575.40 L522.50 576.72 L523.20 578.02 L523.90 579.32 L524.60 580.62 L525.30 581.93 L526.00 583.20 L526.70 584.38 L527.40 585.44 L528.10 586.41 L528.80 587.32 L529.50 588.18 L530.20 589.01 L530.90 589.83 L531.60 590.65 L532.30 591.48 L533.00 592.34 L533.70 593.20 L534.40 594.05 L535.10 594.84 L535.80 595.58 L536.50 596.22 L537.20 596.81 L537.90 597.42 L538.60 598.01 L539.30 598.53 L540.00 598.95 L540.70 599.22 L541.40 599.30 L542.10 599.30 L542.80 599.30 L543.50 599.30 L544.20 599.30 L544.90 599.30 L545.60 599.30 L546.30 599.29 L547.00 599.06 L547.70 598.61 L548.40 598.02 L549.10 597.37 L549.80 596.72 L550.50 596.01 L551.20 595.20 L551.90 594.26 L552.60 593.17 L553.30 591.90 L554.00 590.20 L554.70 588.06 L555.40 585.69 L556.10 583.19 L556.80 580.39 L557.50 577.38 L558.20 574.22 L558.90 570.80 L559.60 567.23 L560.30 563.70 L561.00 560.14 L561.70 556.55 L562.40 553.20 L563.10 550.29 L563.80 547.67 L564.50 545.25 L565.20 543.00 L565.90 541.12 L566.60 537.40 L567.30 529.81 L568.00 520.63 L568.70 512.51 L569.40 507.41 L570.10 503.62 L570.80 500.35 L571.50 497.08 L572.20 493.31 L572.90 489.16 L573.60 484.97 L574.30 481.07 L575.00 477.47 L575.70 474.05 L576.40 470.74 L577.10 467.46 L577.80 464.24 L578.50 461.16 L579.20 458.30 L579.90 455.58 L580.60 453.04 L581.30 450.80 L582.00 448.88 L582.70 447.16 L583.40 445.56 L584.10 444.02 L584.80 442.49 L585.50 441.03 L586.20 439.66 L586.90 438.43 L587.60 437.36 L588.30 436.37 L589.00 435.47 L589.70 434.65 L590.40 433.95 L591.10 433.36 L591.80 432.83 L592.50 432.35 L593.20 431.91 L593.90 431.51 L594.60 431.15 L595.30 430.83 L596.00 430.54 L596.70 430.27 L597.40 430.02 L598.10 429.78 L598.80 429.57 L599.50 429.37 L600.20 429.19 L600.90 429.02 L601.60 428.88 L602.30 428.74 L603.00 428.61 L603.70 428.48 L604.40 428.35 L605.10 428.22 L605.80 428.09 L606.50 427.97 L607.20 427.85 L607.90 427.73 L608.60 427.62 L609.30 427.51 L610.00 427.40 L610.70 427.30 L611.40 427.20 L612.10 427.11 L612.80 427.03 L613.50 426.95 L614.20 426.87 L614.90 426.80 L615.60 426.74 L616.30 426.68 L617.00 426.63 L617.70 426.59 L618.40 426.55 L619.10 426.52 L619.80 426.50 L620.50 426.49 L621.20 426.48 L621.90 426.46 L622.60 426.45 L623.30 426.44 L624.00 426.42 L624.70 426.41 L625.40 426.40 L626.10 426.39 L626.80 426.37 L627.50 426.36 L628.20 426.35 L628.90 426.34 L629.60 426.33 L630.30 426.32 L631.00 426.31 L631.70 426.30 L632.40 426.28 L633.10 426.27 L633.80 426.26 L634.50 426.26 L635.20 426.25 L635.90 426.24 L636.60 426.23 L637.30 426.22 L638.00 426.21 L638.70 426.20 L639.40 426.19 L640.10 426.18 L640.80 426.18 L641.50 426.17 L642.20 426.16 L642.90 426.15 L643.60 426.15 L644.30 426.14 L645.00 426.13 L645.70 426.13 L646.40 426.12 L647.10 426.11 L647.80 426.11 L648.50 426.10 L649.20 426.10 L649.90 426.09 L650.60 426.08 L651.30 426.08 L652.00 426.07 L652.70 426.07 L653.40 426.06 L654.10 426.06 L654.80 426.06 L655.50 426.05 L656.20 426.05 L656.90 426.04 L657.60 426.04 L658.30 426.04 L659.00 426.03 L659.70 426.03 L660.40 426.03 L661.10 426.02 L661.80 426.02 L662.50 426.02 L663.20 426.02 L663.90 426.02 L664.60 426.01 L665.30 426.01 L666.00 426.01 L666.70 426.01 L667.40 426.01 L668.10 426.01 L668.80 426.00 L669.50 426.00 L670.20 426.00 L670.90 426.00 L671.60 426.00 L672.30 426.00 L673.00 426.00 L673.70 426.00 L674.00 426.00" fill="none" stroke="#548235" stroke-width="2.6" stroke-linejoin="round"/>
<path d="M113.00 425.50 L113.70 425.50 L114.40 425.51 L115.10 425.51 L115.80 425.52 L116.50 425.52 L117.20 425.53 L117.90 425.53 L118.60 425.53 L119.30 425.54 L120.00 425.54 L120.70 425.55 L121.40 425.55 L122.10 425.56 L122.80 425.56 L123.50 425.56 L124.20 425.57 L124.90 425.57 L125.60 425.58 L126.30 425.58 L127.00 425.58 L127.70 425.59 L128.40 425.59 L129.10 425.60 L129.80 425.60 L130.50 425.61 L131.20 425.61 L131.90 425.61 L132.60 425.62 L133.30 425.62 L134.00 425.63 L134.70 425.63 L135.40 425.63 L136.10 425.64 L136.80 425.64 L137.50 425.65 L138.20 425.65 L138.90 425.66 L139.60 425.66 L140.30 425.66 L141.00 425.67 L141.70 425.67 L142.40 425.68 L143.10 425.68 L143.80 425.68 L144.50 425.69 L145.20 425.69 L145.90 425.70 L146.60 425.70 L147.30 425.70 L148.00 425.71 L148.70 425.71 L149.40 425.72 L150.10 425.72 L150.80 425.73 L151.50 425.73 L152.20 425.73 L152.90 425.74 L153.60 425.74 L154.30 425.75 L155.00 425.75 L155.70 425.75 L156.40 425.76 L157.10 425.76 L157.80 425.77 L158.50 425.77 L159.20 425.77 L159.90 425.78 L160.60 425.78 L161.30 425.79 L162.00 425.79 L162.70 425.79 L163.40 425.80 L164.10 425.80 L164.80 425.81 L165.50 425.81 L166.20 425.81 L166.90 425.82 L167.60 425.82 L168.30 425.83 L169.00 425.83 L169.70 425.83 L170.40 425.84 L171.10 425.84 L171.80 425.85 L172.50 425.85 L173.20 425.85 L173.90 425.86 L174.60 425.86 L175.30 425.86 L176.00 425.87 L176.70 425.87 L177.40 425.88 L178.10 425.88 L178.80 425.88 L179.50 425.89 L180.20 425.89 L180.90 425.90 L181.60 425.90 L182.30 425.90 L183.00 425.91 L183.70 425.91 L184.40 425.92 L185.10 425.92 L185.80 425.92 L186.50 425.93 L187.20 425.93 L187.90 425.93 L188.60 425.94 L189.30 425.94 L190.00 425.95 L190.70 425.95 L191.40 425.95 L192.10 425.96 L192.80 425.96 L193.50 425.96 L194.20 425.97 L194.90 425.97 L195.60 425.98 L196.30 425.98 L197.00 425.98 L197.70 425.99 L198.40 425.99 L199.10 426.00 L199.80 426.00 L200.50 426.00 L201.20 426.01 L201.90 426.01 L202.60 426.01 L203.30 426.02 L204.00 426.02 L204.70 426.02 L205.40 426.03 L206.10 426.03 L206.80 426.03 L207.50 426.04 L208.20 426.04 L208.90 426.04 L209.60 426.05 L210.30 426.05 L211.00 426.05 L211.70 426.06 L212.40 426.06 L213.10 426.06 L213.80 426.07 L214.50 426.07 L215.20 426.07 L215.90 426.08 L216.60 426.08 L217.30 426.08 L218.00 426.08 L218.70 426.09 L219.40 426.09 L220.10 426.09 L220.80 426.10 L221.50 426.10 L222.20 426.10 L222.90 426.10 L223.60 426.11 L224.30 426.11 L225.00 426.11 L225.70 426.12 L226.40 426.12 L227.10 426.12 L227.80 426.12 L228.50 426.13 L229.20 426.13 L229.90 426.13 L230.60 426.14 L231.30 426.14 L232.00 426.14 L232.70 426.14 L233.40 426.15 L234.10 426.15 L234.80 426.15 L235.50 426.15 L236.20 426.16 L236.90 426.16 L237.60 426.16 L238.30 426.16 L239.00 426.17 L239.70 426.17 L240.40 426.17 L241.10 426.18 L241.80 426.18 L242.50 426.18 L243.20 426.18 L243.90 426.19 L244.60 426.19 L245.30 426.19 L246.00 426.19 L246.70 426.20 L247.40 426.20 L248.10 426.20 L248.80 426.21 L249.50 426.21 L250.20 426.21 L250.90 426.21 L251.60 426.22 L252.30 426.22 L253.00 426.22 L253.70 426.22 L254.40 426.23 L255.10 426.23 L255.80 426.23 L256.50 426.24 L257.20 426.24 L257.90 426.24 L258.60 426.25 L259.30 426.25 L260.00 426.25 L260.70 426.26 L261.40 426.26 L262.10 426.26 L262.80 426.26 L263.50 426.27 L264.20 426.27 L264.90 426.27 L265.60 426.28 L266.30 426.28 L267.00 426.28 L267.70 426.29 L268.40 426.29 L269.10 426.30 L269.80 426.30 L270.50 426.30 L271.20 426.31 L271.90 426.31 L272.60 426.31 L273.30 426.32 L274.00 426.32 L274.70 426.32 L275.40 426.33 L276.10 426.33 L276.80 426.34 L277.50 426.34 L278.20 426.34 L278.90 426.35 L279.60 426.35 L280.30 426.36 L281.00 426.36 L281.70 426.37 L282.40 426.37 L283.10 426.37 L283.80 426.38 L284.50 426.38 L285.20 426.39 L285.90 426.39 L286.60 426.40 L287.30 426.40 L288.00 426.41 L288.70 426.41 L289.40 426.42 L290.10 426.42 L290.80 426.43 L291.50 426.43 L292.20 426.44 L292.90 426.44 L293.60 426.45 L294.30 426.45 L295.00 426.46 L295.70 426.46 L296.40 426.47 L297.10 426.48 L297.80 426.48 L298.50 426.49 L299.20 426.49 L299.90 426.50 L300.60 426.51 L301.30 426.51 L302.00 426.52 L302.70 426.52 L303.40 426.53 L304.10 426.54 L304.80 426.55 L305.50 426.55 L306.20 426.56 L306.90 426.57 L307.60 426.58 L308.30 426.59 L309.00 426.59 L309.70 426.60 L310.40 426.61 L311.10 426.62 L311.80 426.63 L312.50 426.64 L313.20 426.65 L313.90 426.66 L314.60 426.67 L315.30 426.68 L316.00 426.69 L316.70 426.70 L317.40 426.72 L318.10 426.73 L318.80 426.74 L319.50 426.75 L320.20 426.76 L320.90 426.78 L321.60 426.79 L322.30 426.80 L323.00 426.81 L323.70 426.83 L324.40 426.84 L325.10 426.85 L325.80 426.87 L326.50 426.88 L327.20 426.90 L327.90 426.91 L328.60 426.93 L329.30 426.94 L330.00 426.96 L330.70 426.97 L331.40 426.99 L332.10 427.01 L332.80 427.02 L333.50 427.04 L334.20 427.06 L334.90 427.07 L335.60 427.09 L336.30 427.11 L337.00 427.13 L337.70 427.14 L338.40 427.16 L339.10 427.18 L339.80 427.20 L340.50 427.22 L341.20 427.24 L341.90 427.26 L342.60 427.28 L343.30 427.30 L344.00 427.32 L344.70 427.34 L345.40 427.36 L346.10 427.38 L346.80 427.40 L347.50 427.42 L348.20 427.44 L348.90 427.46 L349.60 427.49 L350.30 427.51 L351.00 427.53 L351.70 427.56 L352.40 427.59 L353.10 427.61 L353.80 427.64 L354.50 427.67 L355.20 427.70 L355.90 427.74 L356.60 427.77 L357.30 427.81 L358.00 427.84 L358.70 427.88 L359.40 427.92 L360.10 427.96 L360.80 428.00 L361.50 428.04 L362.20 428.09 L362.90 428.13 L363.60 428.18 L364.30 428.22 L365.00 428.27 L365.70 428.32 L366.40 428.37 L367.10 428.42 L367.80 428.47 L368.50 428.52 L369.20 428.57 L369.90 428.62 L370.60 428.68 L371.30 428.73 L372.00 428.79 L372.70 428.85 L373.40 428.90 L374.10 428.96 L374.80 429.02 L375.50 429.08 L376.20 429.14 L376.90 429.20 L377.60 429.26 L378.30 429.32 L379.00 429.39 L379.70 429.45 L380.40 429.51 L381.10 429.58 L381.80 429.64 L382.50 429.71 L383.20 429.77 L383.90 429.84 L384.60 429.90 L385.30 429.97 L386.00 430.04 L386.70 430.11 L387.40 430.18 L388.10 430.25 L388.80 430.33 L389.50 430.41 L390.20 430.49 L390.90 430.57 L391.60 430.66 L392.30 430.75 L393.00 430.84 L393.70 430.93 L394.40 431.03 L395.10 431.13 L395.80 431.23 L396.50 431.33 L397.20 431.44 L397.90 431.55 L398.60 431.66 L399.30 431.78 L400.00 431.90 L400.70 432.02 L401.40 432.15 L402.10 432.28 L402.80 432.41 L403.50 432.55 L404.20 432.69 L404.90 432.84 L405.60 433.00 L406.30 433.16 L407.00 433.33 L407.70 433.51 L408.40 433.70 L409.10 433.90 L409.80 434.11 L410.50 434.33 L411.20 434.56 L411.90 434.80 L412.60 435.07 L413.30 435.37 L414.00 435.70 L414.70 436.06 L415.40 436.45 L416.10 436.87 L416.80 437.31 L417.50 437.78 L418.20 438.26 L418.90 438.76 L419.60 439.28 L420.30 439.80 L421.00 440.35 L421.70 440.90 L422.40 441.45 L423.10 442.02 L423.80 442.58 L424.50 443.18 L425.20 443.81 L425.90 444.49 L426.60 445.19 L427.30 445.92 L428.00 446.66 L428.70 447.42 L429.40 448.18 L430.10 448.95 L430.80 449.74 L431.50 450.56 L432.20 451.39 L432.90 452.23 L433.60 453.09 L434.30 453.96 L435.00 454.84 L435.70 455.73 L436.40 456.63 L437.10 457.55 L437.80 458.48 L438.50 459.42 L439.20 460.37 L439.90 461.33 L440.60 462.28 L441.30 463.23 L442.00 464.17 L442.70 465.11 L443.40 466.04 L444.10 466.98 L444.80 467.92 L445.50 468.87 L446.20 469.83 L446.90 470.80 L447.60 471.78 L448.30 472.76 L449.00 473.75 L449.70 474.77 L450.40 475.85 L451.10 477.02 L451.80 478.37 L452.50 479.81 L453.20 481.25 L453.90 482.60 L454.60 483.77 L455.30 484.74 L456.00 485.67 L456.70 486.69 L457.40 487.99 L458.10 489.63 L458.80 491.39 L459.50 493.00 L460.20 494.38 L460.90 495.65 L461.60 496.90 L462.30 498.20 L463.00 499.63 L463.70 501.15 L464.40 502.75 L465.10 504.40 L465.80 506.09 L466.50 507.87 L467.20 509.71 L467.90 511.54 L468.60 513.30 L469.30 515.02 L470.00 516.72 L470.70 518.45 L471.40 520.19 L472.10 521.94 L472.80 523.70 L473.50 525.45 L474.20 527.20 L474.90 528.95 L475.60 530.70 L476.30 532.46 L477.00 534.23 L477.70 536.00 L478.40 537.75 L479.10 539.48 L479.80 541.19 L480.50 542.90 L481.20 544.67 L481.90 546.51 L482.60 548.23 L483.30 549.82 L484.00 551.34 L484.70 552.79 L485.40 554.18 L486.10 555.50 L486.80 556.77 L487.50 557.98 L488.20 559.15 L488.90 560.26 L489.60 561.31 L490.30 562.30 L491.00 563.25 L491.70 564.16 L492.40 565.04 L493.10 565.90 L493.80 566.73 L494.50 567.54 L495.20 568.34 L495.90 569.12 L496.60 569.88 L497.30 570.59 L498.00 571.29 L498.70 571.97 L499.40 572.66 L500.10 573.37 L500.80 574.10 L501.50 574.88 L502.20 575.71 L502.90 576.58 L503.60 577.47 L504.30 578.40 L505.00 579.34 L505.70 580.31 L506.40 581.29 L507.10 582.28 L507.80 583.27 L508.50 584.30 L509.20 585.36 L509.90 586.43 L510.60 587.51 L511.30 588.59 L512.00 589.65 L512.70 590.71 L513.40 591.81 L514.10 592.91 L514.80 593.99 L515.50 595.04 L516.20 596.01 L516.90 596.90 L517.60 597.74 L518.30 598.56 L519.00 599.36 L519.70 600.09 L520.40 600.74 L521.10 601.29 L521.80 601.71 L522.50 602.10 L523.20 602.45 L523.90 602.70 L524.60 602.80 L525.30 602.71 L526.00 602.47 L526.70 602.08 L527.40 601.58 L528.10 600.98 L528.80 600.29 L529.50 599.05 L530.20 597.22 L530.90 595.11 L531.60 592.81 L532.30 590.02 L533.00 587.05 L533.70 584.22 L534.40 581.59 L535.10 578.94 L535.80 576.05 L536.50 572.71 L537.20 568.98 L537.90 565.06 L538.60 560.78 L539.30 556.17 L540.00 552.32 L540.70 549.73 L541.40 547.65 L542.10 545.78 L542.80 543.91 L543.50 542.25 L544.20 540.33 L544.90 537.62 L545.60 534.12 L546.30 530.11 L547.00 525.88 L547.70 521.70 L548.40 517.69 L549.10 513.50 L549.80 509.80 L550.50 506.87 L551.20 504.31 L551.90 501.85 L552.60 499.22 L553.30 496.41 L554.00 493.65 L554.70 491.14 L555.40 488.80 L556.10 486.33 L556.80 483.48 L557.50 480.66 L558.20 478.34 L558.90 476.36 L559.60 474.52 L560.30 472.74 L561.00 471.06 L561.70 469.45 L562.40 467.86 L563.10 466.22 L563.80 464.49 L564.50 462.57 L565.20 460.56 L565.90 458.58 L566.60 456.75 L567.30 455.18 L568.00 453.78 L568.70 452.49 L569.40 451.28 L570.10 450.12 L570.80 449.01 L571.50 447.92 L572.20 446.83 L572.90 445.74 L573.60 444.65 L574.30 443.58 L575.00 442.54 L575.70 441.55 L576.40 440.63 L577.10 439.77 L577.80 439.00 L578.50 438.30 L579.20 437.63 L579.90 437.01 L580.60 436.41 L581.30 435.86 L582.00 435.33 L582.70 434.84 L583.40 434.39 L584.10 433.96 L584.80 433.55 L585.50 433.16 L586.20 432.80 L586.90 432.45 L587.60 432.12 L588.30 431.82 L589.00 431.53 L589.70 431.26 L590.40 431.01 L591.10 430.76 L591.80 430.53 L592.50 430.31 L593.20 430.10 L593.90 429.91 L594.60 429.73 L595.30 429.56 L596.00 429.42 L596.70 429.28 L597.40 429.14 L598.10 429.02 L598.80 428.90 L599.50 428.78 L600.20 428.67 L600.90 428.56 L601.60 428.46 L602.30 428.36 L603.00 428.26 L603.70 428.16 L604.40 428.07 L605.10 427.98 L605.80 427.90 L606.50 427.81 L607.20 427.72 L607.90 427.64 L608.60 427.55 L609.30 427.46 L610.00 427.37 L610.70 427.28 L611.40 427.19 L612.10 427.10 L612.80 427.01 L613.50 426.93 L614.20 426.85 L614.90 426.78 L615.60 426.72 L616.30 426.66 L617.00 426.60 L617.70 426.56 L618.40 426.53 L619.10 426.50 L619.80 426.49 L620.50 426.48 L621.20 426.46 L621.90 426.45 L622.60 426.44 L623.30 426.42 L624.00 426.41 L624.70 426.40 L625.40 426.38 L626.10 426.37 L626.80 426.36 L627.50 426.35 L628.20 426.34 L628.90 426.33 L629.60 426.32 L630.30 426.30 L631.00 426.29 L631.70 426.28 L632.40 426.27 L633.10 426.26 L633.80 426.25 L634.50 426.24 L635.20 426.23 L635.90 426.23 L636.60 426.22 L637.30 426.21 L638.00 426.20 L638.70 426.19 L639.40 426.18 L640.10 426.18 L640.80 426.17 L641.50 426.16 L642.20 426.15 L642.90 426.15 L643.60 426.14 L644.30 426.13 L645.00 426.13 L645.70 426.12 L646.40 426.11 L647.10 426.11 L647.80 426.10 L648.50 426.10 L649.20 426.09 L649.90 426.08 L650.60 426.08 L651.30 426.07 L652.00 426.07 L652.70 426.07 L653.40 426.06 L654.10 426.06 L654.80 426.05 L655.50 426.05 L656.20 426.04 L656.90 426.04 L657.60 426.04 L658.30 426.03 L659.00 426.03 L659.70 426.03 L660.40 426.03 L661.10 426.02 L661.80 426.02 L662.50 426.02 L663.20 426.02 L663.90 426.01 L664.60 426.01 L665.30 426.01 L666.00 426.01 L666.70 426.01 L667.40 426.01 L668.10 426.00 L668.80 426.00 L669.50 426.00 L670.20 426.00 L670.90 426.00 L671.60 426.00 L672.30 426.00 L673.00 426.00 L673.70 426.00 L674.00 426.00" fill="none" stroke="#00B050" stroke-width="2.6" stroke-linejoin="round"/>
<path d="M113.00 420.50 L113.70 421.44 L114.40 422.26 L115.10 422.87 L115.80 423.40 L116.50 423.88 L117.20 424.23 L117.90 424.40 L118.60 424.40 L119.30 424.41 L120.00 424.41 L120.70 424.42 L121.40 424.42 L122.10 424.43 L122.80 424.43 L123.50 424.43 L124.20 424.44 L124.90 424.44 L125.60 424.45 L126.30 424.45 L127.00 424.45 L127.70 424.46 L128.40 424.46 L129.10 424.46 L129.80 424.47 L130.50 424.47 L131.20 424.47 L131.90 424.47 L132.60 424.48 L133.30 424.48 L134.00 424.48 L134.70 424.49 L135.40 424.49 L136.10 424.49 L136.80 424.49 L137.50 424.49 L138.20 424.50 L138.90 424.50 L139.60 424.50 L140.30 424.50 L141.00 424.50 L141.70 424.51 L142.40 424.51 L143.10 424.51 L143.80 424.51 L144.50 424.51 L145.20 424.51 L145.90 424.51 L146.60 424.52 L147.30 424.52 L148.00 424.52 L148.70 424.52 L149.40 424.52 L150.10 424.52 L150.80 424.52 L151.50 424.52 L152.20 424.52 L152.90 424.53 L153.60 424.53 L154.30 424.53 L155.00 424.53 L155.70 424.53 L156.40 424.53 L157.10 424.53 L157.80 424.53 L158.50 424.53 L159.20 424.53 L159.90 424.53 L160.60 424.53 L161.30 424.53 L162.00 424.54 L162.70 424.54 L163.40 424.54 L164.10 424.54 L164.80 424.54 L165.50 424.54 L166.20 424.54 L166.90 424.54 L167.60 424.54 L168.30 424.54 L169.00 424.54 L169.70 424.54 L170.40 424.54 L171.10 424.54 L171.80 424.54 L172.50 424.54 L173.20 424.54 L173.90 424.55 L174.60 424.55 L175.30 424.55 L176.00 424.55 L176.70 424.55 L177.40 424.55 L178.10 424.55 L178.80 424.55 L179.50 424.55 L180.20 424.55 L180.90 424.55 L181.60 424.55 L182.30 424.56 L183.00 424.56 L183.70 424.56 L184.40 424.56 L185.10 424.56 L185.80 424.56 L186.50 424.56 L187.20 424.56 L187.90 424.57 L188.60 424.57 L189.30 424.57 L190.00 424.57 L190.70 424.57 L191.40 424.57 L192.10 424.57 L192.80 424.58 L193.50 424.58 L194.20 424.58 L194.90 424.58 L195.60 424.58 L196.30 424.59 L197.00 424.59 L197.70 424.59 L198.40 424.59 L199.10 424.60 L199.80 424.60 L200.50 424.60 L201.20 424.60 L201.90 424.61 L202.60 424.61 L203.30 424.61 L204.00 424.62 L204.70 424.62 L205.40 424.62 L206.10 424.62 L206.80 424.63 L207.50 424.63 L208.20 424.63 L208.90 424.64 L209.60 424.64 L210.30 424.64 L211.00 424.65 L211.70 424.65 L212.40 424.65 L213.10 424.66 L213.80 424.66 L214.50 424.66 L215.20 424.67 L215.90 424.67 L216.60 424.67 L217.30 424.68 L218.00 424.68 L218.70 424.69 L219.40 424.69 L220.10 424.69 L220.80 424.70 L221.50 424.70 L222.20 424.71 L222.90 424.71 L223.60 424.71 L224.30 424.72 L225.00 424.72 L225.70 424.73 L226.40 424.73 L227.10 424.73 L227.80 424.74 L228.50 424.74 L229.20 424.75 L229.90 424.75 L230.60 424.76 L231.30 424.76 L232.00 424.77 L232.70 424.77 L233.40 424.78 L234.10 424.78 L234.80 424.79 L235.50 424.79 L236.20 424.80 L236.90 424.80 L237.60 424.81 L238.30 424.81 L239.00 424.82 L239.70 424.83 L240.40 424.83 L241.10 424.84 L241.80 424.84 L242.50 424.85 L243.20 424.86 L243.90 424.86 L244.60 424.87 L245.30 424.87 L246.00 424.88 L246.70 424.89 L247.40 424.89 L248.10 424.90 L248.80 424.91 L249.50 424.91 L250.20 424.92 L250.90 424.93 L251.60 424.93 L252.30 424.94 L253.00 424.95 L253.70 424.96 L254.40 424.96 L255.10 424.97 L255.80 424.98 L256.50 424.99 L257.20 424.99 L257.90 425.00 L258.60 425.01 L259.30 425.02 L260.00 425.03 L260.70 425.03 L261.40 425.04 L262.10 425.05 L262.80 425.06 L263.50 425.07 L264.20 425.08 L264.90 425.08 L265.60 425.09 L266.30 425.10 L267.00 425.11 L267.70 425.12 L268.40 425.13 L269.10 425.14 L269.80 425.15 L270.50 425.16 L271.20 425.17 L271.90 425.18 L272.60 425.19 L273.30 425.20 L274.00 425.21 L274.70 425.22 L275.40 425.23 L276.10 425.24 L276.80 425.25 L277.50 425.26 L278.20 425.27 L278.90 425.28 L279.60 425.29 L280.30 425.30 L281.00 425.32 L281.70 425.33 L282.40 425.35 L283.10 425.36 L283.80 425.38 L284.50 425.40 L285.20 425.42 L285.90 425.45 L286.60 425.47 L287.30 425.50 L288.00 425.52 L288.70 425.55 L289.40 425.58 L290.10 425.61 L290.80 425.64 L291.50 425.67 L292.20 425.70 L292.90 425.74 L293.60 425.77 L294.30 425.81 L295.00 425.84 L295.70 425.88 L296.40 425.92 L297.10 425.96 L297.80 426.00 L298.50 426.04 L299.20 426.08 L299.90 426.12 L300.60 426.16 L301.30 426.21 L302.00 426.25 L302.70 426.29 L303.40 426.34 L304.10 426.38 L304.80 426.43 L305.50 426.48 L306.20 426.52 L306.90 426.57 L307.60 426.61 L308.30 426.66 L309.00 426.71 L309.70 426.76 L310.40 426.80 L311.10 426.85 L311.80 426.90 L312.50 426.95 L313.20 426.99 L313.90 427.04 L314.60 427.09 L315.30 427.14 L316.00 427.19 L316.70 427.23 L317.40 427.28 L318.10 427.33 L318.80 427.37 L319.50 427.42 L320.20 427.47 L320.90 427.51 L321.60 427.56 L322.30 427.60 L323.00 427.65 L323.70 427.69 L324.40 427.73 L325.10 427.78 L325.80 427.82 L326.50 427.86 L327.20 427.90 L327.90 427.94 L328.60 427.98 L329.30 428.02 L330.00 428.06 L330.70 428.09 L331.40 428.13 L332.10 428.17 L332.80 428.20 L333.50 428.23 L334.20 428.27 L334.90 428.30 L335.60 428.33 L336.30 428.36 L337.00 428.39 L337.70 428.42 L338.40 428.45 L339.10 428.48 L339.80 428.51 L340.50 428.54 L341.20 428.57 L341.90 428.60 L342.60 428.63 L343.30 428.65 L344.00 428.68 L344.70 428.71 L345.40 428.74 L346.10 428.77 L346.80 428.80 L347.50 428.83 L348.20 428.86 L348.90 428.89 L349.60 428.92 L350.30 428.95 L351.00 428.98 L351.70 429.01 L352.40 429.04 L353.10 429.08 L353.80 429.11 L354.50 429.15 L355.20 429.19 L355.90 429.22 L356.60 429.26 L357.30 429.30 L358.00 429.34 L358.70 429.38 L359.40 429.43 L360.10 429.47 L360.80 429.52 L361.50 429.56 L362.20 429.61 L362.90 429.66 L363.60 429.72 L364.30 429.77 L365.00 429.82 L365.70 429.88 L366.40 429.95 L367.10 430.02 L367.80 430.10 L368.50 430.18 L369.20 430.26 L369.90 430.35 L370.60 430.45 L371.30 430.55 L372.00 430.65 L372.70 430.75 L373.40 430.86 L374.10 430.97 L374.80 431.08 L375.50 431.20 L376.20 431.32 L376.90 431.44 L377.60 431.56 L378.30 431.68 L379.00 431.81 L379.70 431.94 L380.40 432.06 L381.10 432.19 L381.80 432.32 L382.50 432.45 L383.20 432.58 L383.90 432.71 L384.60 432.84 L385.30 432.98 L386.00 433.12 L386.70 433.26 L387.40 433.40 L388.10 433.55 L388.80 433.70 L389.50 433.86 L390.20 434.02 L390.90 434.19 L391.60 434.36 L392.30 434.53 L393.00 434.71 L393.70 434.90 L394.40 435.09 L395.10 435.29 L395.80 435.50 L396.50 435.71 L397.20 435.93 L397.90 436.16 L398.60 436.40 L399.30 436.65 L400.00 436.93 L400.70 437.23 L401.40 437.55 L402.10 437.89 L402.80 438.25 L403.50 438.64 L404.20 439.04 L404.90 439.46 L405.60 439.91 L406.30 440.37 L407.00 440.89 L407.70 441.47 L408.40 442.09 L409.10 442.74 L409.80 443.41 L410.50 444.10 L411.20 444.80 L411.90 445.50 L412.60 446.20 L413.30 446.92 L414.00 447.65 L414.70 448.41 L415.40 449.18 L416.10 449.97 L416.80 450.79 L417.50 451.63 L418.20 452.50 L418.90 453.41 L419.60 454.35 L420.30 455.32 L421.00 456.32 L421.70 457.33 L422.40 458.36 L423.10 459.40 L423.80 460.45 L424.50 461.51 L425.20 462.60 L425.90 463.71 L426.60 464.84 L427.30 466.00 L428.00 467.18 L428.70 468.39 L429.40 469.62 L430.10 470.88 L430.80 472.17 L431.50 473.48 L432.20 474.82 L432.90 476.22 L433.60 477.70 L434.30 479.33 L435.00 481.08 L435.70 482.86 L436.40 484.57 L437.10 486.15 L437.80 487.66 L438.50 489.14 L439.20 490.64 L439.90 492.19 L440.60 493.78 L441.30 495.37 L442.00 496.98 L442.70 498.59 L443.40 500.19 L444.10 501.79 L444.80 503.42 L445.50 505.08 L446.20 506.77 L446.90 508.48 L447.60 510.24 L448.30 512.04 L449.00 513.87 L449.70 515.77 L450.40 517.79 L451.10 520.02 L451.80 522.21 L452.50 524.20 L453.20 526.09 L453.90 527.93 L454.60 529.70 L455.30 531.35 L456.00 533.02 L456.70 534.89 L457.40 537.17 L458.10 539.51 L458.80 541.44 L459.50 543.07 L460.20 544.76 L460.90 546.58 L461.60 548.48 L462.30 550.43 L463.00 552.44 L463.70 554.49 L464.40 556.59 L465.10 558.75 L465.80 560.98 L466.50 563.36 L467.20 565.92 L467.90 568.36 L468.60 570.43 L469.30 572.17 L470.00 573.82 L470.70 575.60 L471.40 577.75 L472.10 580.07 L472.80 582.18 L473.50 583.88 L474.20 585.39 L474.90 586.77 L475.60 588.06 L476.30 589.28 L477.00 590.49 L477.70 591.71 L478.40 592.87 L479.10 593.93 L479.80 594.80 L480.50 595.47 L481.20 596.11 L481.90 596.68 L482.60 597.13 L483.30 597.43 L484.00 597.52 L484.70 597.57 L485.40 597.60 L486.10 597.63 L486.80 597.64 L487.50 597.66 L488.20 597.67 L488.90 597.69 L489.60 597.72 L490.30 597.76 L491.00 597.83 L491.70 598.08 L492.40 598.52 L493.10 599.07 L493.80 599.68 L494.50 600.27 L495.20 600.78 L495.90 601.15 L496.60 601.51 L497.30 601.87 L498.00 602.21 L498.70 602.49 L499.40 602.69 L500.10 602.79 L500.80 602.76 L501.50 602.60 L502.20 602.32 L502.90 601.94 L503.60 601.49 L504.30 600.97 L505.00 600.40 L505.70 599.61 L506.40 598.47 L507.10 597.04 L507.80 595.38 L508.50 593.57 L509.20 591.35 L509.90 588.49 L510.60 585.49 L511.30 582.79 L512.00 580.29 L512.70 577.80 L513.40 575.22 L514.10 572.50 L514.80 569.70 L515.50 566.89 L516.20 564.13 L516.90 561.38 L517.60 558.61 L518.30 555.79 L519.00 552.93 L519.70 550.04 L520.40 547.10 L521.10 544.27 L521.80 541.40 L522.50 538.00 L523.20 533.36 L523.90 527.74 L524.60 522.14 L525.30 517.36 L526.00 512.99 L526.70 508.90 L527.40 505.06 L528.10 501.47 L528.80 498.09 L529.50 494.90 L530.20 492.00 L530.90 489.44 L531.60 487.09 L532.30 484.86 L533.00 482.75 L533.70 480.70 L534.40 478.59 L535.10 476.49 L535.80 474.58 L536.50 472.84 L537.20 471.20 L537.90 469.60 L538.60 467.96 L539.30 466.31 L540.00 464.68 L540.70 463.13 L541.40 461.65 L542.10 460.20 L542.80 458.79 L543.50 457.43 L544.20 456.13 L544.90 454.90 L545.60 453.75 L546.30 452.65 L547.00 451.60 L547.70 450.58 L548.40 449.61 L549.10 448.66 L549.80 447.74 L550.50 446.85 L551.20 445.98 L551.90 445.12 L552.60 444.28 L553.30 443.46 L554.00 442.67 L554.70 441.90 L555.40 441.16 L556.10 440.45 L556.80 439.78 L557.50 439.15 L558.20 438.56 L558.90 438.01 L559.60 437.49 L560.30 436.99 L561.00 436.52 L561.70 436.06 L562.40 435.62 L563.10 435.19 L563.80 434.78 L564.50 434.37 L565.20 433.98 L565.90 433.60 L566.60 433.22 L567.30 432.85 L568.00 432.48 L568.70 432.13 L569.40 431.78 L570.10 431.45 L570.80 431.14 L571.50 430.85 L572.20 430.59 L572.90 430.34 L573.60 430.10 L574.30 429.87 L575.00 429.66 L575.70 429.45 L576.40 429.26 L577.10 429.08 L577.80 428.90 L578.50 428.73 L579.20 428.57 L579.90 428.41 L580.60 428.25 L581.30 428.11 L582.00 427.98 L582.70 427.85 L583.40 427.74 L584.10 427.64 L584.80 427.55 L585.50 427.46 L586.20 427.37 L586.90 427.29 L587.60 427.21 L588.30 427.13 L589.00 427.06 L589.70 426.99 L590.40 426.92 L591.10 426.85 L591.80 426.79 L592.50 426.73 L593.20 426.68 L593.90 426.62 L594.60 426.57 L595.30 426.52 L596.00 426.47 L596.70 426.43 L597.40 426.38 L598.10 426.34 L598.80 426.29 L599.50 426.25 L600.20 426.21 L600.90 426.17 L601.60 426.13 L602.30 426.10 L603.00 426.06 L603.70 426.03 L604.40 426.00 L605.10 425.98 L605.80 425.95 L606.50 425.93 L607.20 425.91 L607.90 425.89 L608.60 425.87 L609.30 425.85 L610.00 425.83 L610.70 425.81 L611.40 425.80 L612.10 425.78 L612.80 425.76 L613.50 425.74 L614.20 425.73 L614.90 425.71 L615.60 425.70 L616.30 425.68 L617.00 425.67 L617.70 425.65 L618.40 425.64 L619.10 425.62 L619.80 425.61 L620.50 425.60 L621.20 425.59 L621.90 425.58 L622.60 425.56 L623.30 425.56 L624.00 425.55 L624.70 425.54 L625.40 425.53 L626.10 425.52 L626.80 425.52 L627.50 425.51 L628.20 425.51 L628.90 425.50 L629.60 425.50 L630.30 425.50 L631.00 425.50 L631.70 425.50 L632.40 425.50 L633.10 425.50 L633.80 425.50 L634.50 425.50 L635.20 425.50 L635.90 425.50 L636.60 425.50 L637.30 425.50 L638.00 425.50 L638.70 425.50 L639.40 425.50 L640.10 425.50 L640.80 425.50 L641.50 425.50 L642.20 425.50 L642.90 425.50 L643.60 425.50 L644.30 425.50 L645.00 425.50 L645.70 425.50 L646.40 425.50 L647.10 425.51 L647.80 425.51 L648.50 425.51 L649.20 425.51 L649.90 425.51 L650.60 425.51 L651.30 425.51 L652.00 425.51 L652.70 425.51 L653.40 425.51 L654.10 425.52 L654.80 425.52 L655.50 425.52 L656.20 425.52 L656.90 425.52 L657.60 425.52 L658.30 425.53 L659.00 425.53 L659.70 425.53 L660.40 425.53 L661.10 425.53 L661.80 425.54 L662.50 425.54 L663.20 425.54 L663.90 425.54 L664.60 425.55 L665.30 425.55 L666.00 425.55 L666.70 425.56 L667.40 425.56 L668.10 425.56 L668.80 425.57 L669.50 425.57 L670.20 425.58 L670.90 425.58 L671.60 425.58 L672.30 425.59 L673.00 425.59 L673.70 425.60 L674.00 425.60" fill="none" stroke="#4472C4" stroke-width="2.6" stroke-linejoin="round"/>
<text x="362.7" y="650.3" class="ttl" font-size="19">Silane degradation</text>
<line x1="449.8" y1="577.6" x2="472.4" y2="565.3" stroke="#000" stroke-width="1"/>
<polygon points="476.4,563.1 468.3,563.6 472.2,568.9" fill="#000"/>
<line x1="449.8" y1="618.0" x2="472.4" y2="605.9" stroke="#000" stroke-width="1"/>
<polygon points="476.4,603.7 468.3,604.2 472.2,609.5" fill="#000"/>
</svg>
</body></html>
